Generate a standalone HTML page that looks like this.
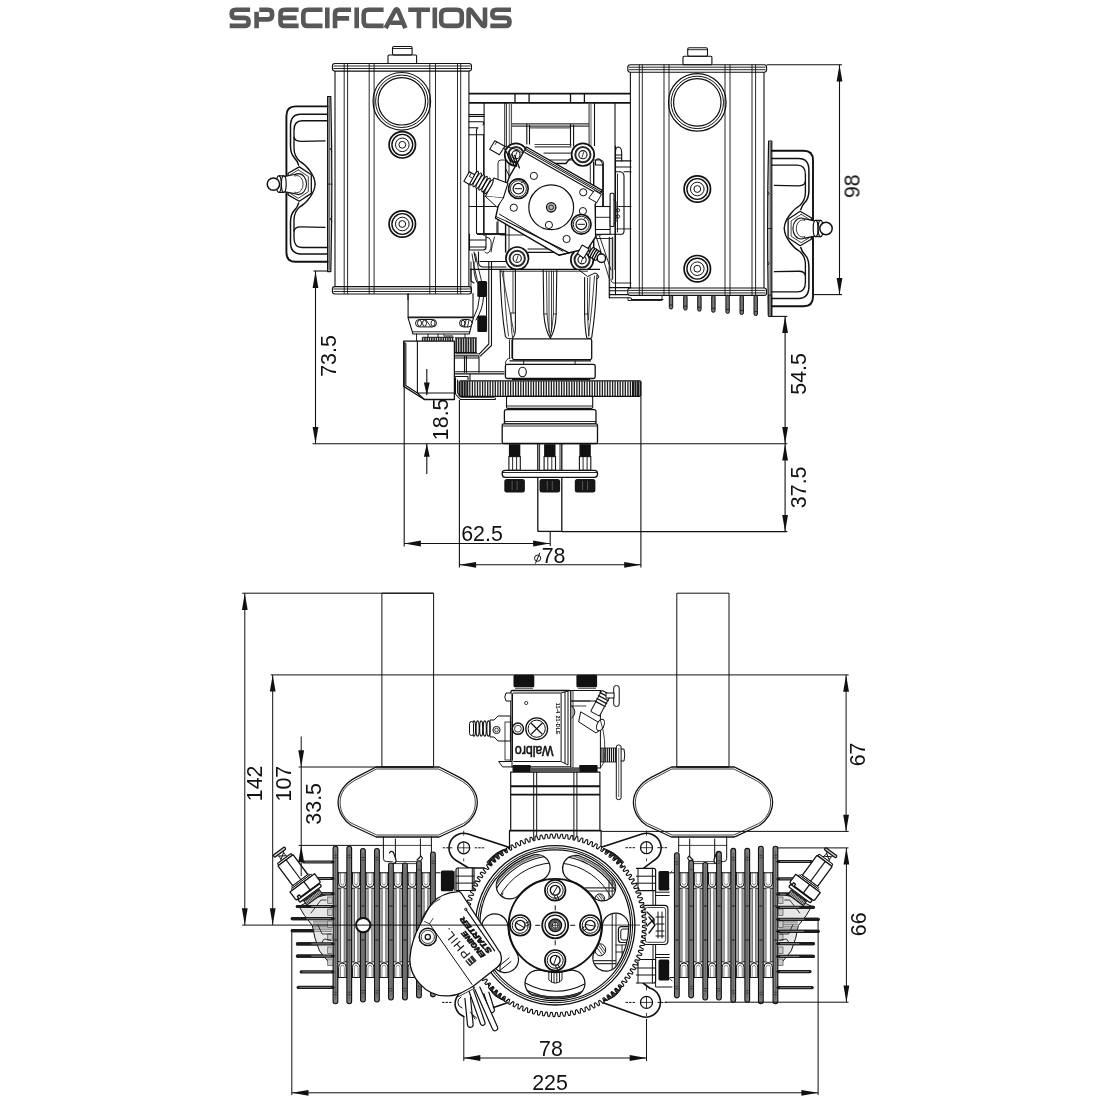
<!DOCTYPE html>
<html><head><meta charset="utf-8"><title>Specifications</title>
<style>html,body{margin:0;padding:0;background:#fff}svg{display:block}text{font-family:"Liberation Sans",sans-serif}</style>
</head><body>
<svg width="1100" height="1100" viewBox="0 0 1100 1100">
<rect width="1100" height="1100" fill="#fff"/>
<g opacity="0.999">
<rect x="332.4" y="63.5" width="139.1" height="7.6" rx="2.5" fill="none" stroke="#111" stroke-width="1.1" />
<line x1="333.4" y1="66.0" x2="470.5" y2="66.0" stroke="#111" stroke-width="0.9" />
<line x1="333.4" y1="68.5" x2="470.5" y2="68.5" stroke="#111" stroke-width="0.9" />
<rect x="332.4" y="286.6" width="139.1" height="7.4" rx="2.5" fill="none" stroke="#111" stroke-width="1.1" />
<line x1="333.4" y1="291.5" x2="470.5" y2="291.5" stroke="#111" stroke-width="0.9" />
<line x1="333.4" y1="289.0" x2="470.5" y2="289.0" stroke="#111" stroke-width="0.9" />
<line x1="335.0" y1="71.1" x2="335.0" y2="286.6" stroke="#111" stroke-width="1.1" />
<line x1="468.9" y1="71.1" x2="468.9" y2="286.6" stroke="#111" stroke-width="1.1" />
<line x1="344.2" y1="63.5" x2="344.2" y2="294.0" stroke="#111" stroke-width="0.9" />
<line x1="347.6" y1="63.5" x2="347.6" y2="294.0" stroke="#111" stroke-width="0.9" />
<line x1="369.2" y1="63.5" x2="369.2" y2="294.0" stroke="#111" stroke-width="0.9" />
<line x1="374.1" y1="63.5" x2="374.1" y2="294.0" stroke="#111" stroke-width="0.9" />
<line x1="429.8" y1="63.5" x2="429.8" y2="294.0" stroke="#111" stroke-width="0.9" />
<line x1="435.5" y1="63.5" x2="435.5" y2="294.0" stroke="#111" stroke-width="0.9" />
<line x1="457.5" y1="63.5" x2="457.5" y2="294.0" stroke="#111" stroke-width="0.9" />
<line x1="460.7" y1="63.5" x2="460.7" y2="294.0" stroke="#111" stroke-width="0.9" />
<rect x="388.0" y="55.0" width="28.6" height="8.5" rx="1" fill="none" stroke="#111" stroke-width="1.1" />
<rect x="392.5" y="46.5" width="19.6" height="8.5" rx="1.5" fill="none" stroke="#111" stroke-width="1.1" />
<line x1="392.5" y1="48.5" x2="412.1" y2="48.5" stroke="#111" stroke-width="0.9" />
<circle cx="401.8" cy="101.3" r="28.8" fill="none" stroke="#111" stroke-width="1.2"/>
<circle cx="401.8" cy="101.3" r="26.2" fill="none" stroke="#111" stroke-width="1.0"/>
<circle cx="401.8" cy="101.3" r="23.7" fill="none" stroke="#111" stroke-width="1.2"/>
<circle cx="402.3" cy="144.8" r="13.2" fill="none" stroke="#111" stroke-width="1.7"/>
<circle cx="402.3" cy="144.8" r="10.4" fill="none" stroke="#111" stroke-width="1.4"/>
<circle cx="402.3" cy="144.8" r="6.8" fill="none" stroke="#111" stroke-width="1.0"/>
<circle cx="402.3" cy="144.8" r="3.4" fill="none" stroke="#111" stroke-width="1.0"/>
<circle cx="402.3" cy="224.0" r="13.2" fill="none" stroke="#111" stroke-width="1.7"/>
<circle cx="402.3" cy="224.0" r="10.4" fill="none" stroke="#111" stroke-width="1.4"/>
<circle cx="402.3" cy="224.0" r="6.8" fill="none" stroke="#111" stroke-width="1.0"/>
<circle cx="402.3" cy="224.0" r="3.4" fill="none" stroke="#111" stroke-width="1.0"/>
<rect x="627.8" y="64.7" width="138.8" height="7.6" rx="2.5" fill="none" stroke="#111" stroke-width="1.1" />
<line x1="628.8" y1="67.2" x2="765.6" y2="67.2" stroke="#111" stroke-width="0.9" />
<line x1="628.8" y1="69.7" x2="765.6" y2="69.7" stroke="#111" stroke-width="0.9" />
<rect x="627.8" y="288.0" width="138.8" height="7.4" rx="2.5" fill="none" stroke="#111" stroke-width="1.1" />
<line x1="628.8" y1="292.9" x2="765.6" y2="292.9" stroke="#111" stroke-width="0.9" />
<line x1="628.8" y1="290.4" x2="765.6" y2="290.4" stroke="#111" stroke-width="0.9" />
<line x1="630.4" y1="72.3" x2="630.4" y2="288.0" stroke="#111" stroke-width="1.1" />
<line x1="764.0" y1="72.3" x2="764.0" y2="288.0" stroke="#111" stroke-width="1.1" />
<line x1="639.3" y1="64.7" x2="639.3" y2="295.4" stroke="#111" stroke-width="0.9" />
<line x1="642.3" y1="64.7" x2="642.3" y2="295.4" stroke="#111" stroke-width="0.9" />
<line x1="664.0" y1="64.7" x2="664.0" y2="295.4" stroke="#111" stroke-width="0.9" />
<line x1="669.0" y1="64.7" x2="669.0" y2="295.4" stroke="#111" stroke-width="0.9" />
<line x1="725.0" y1="64.7" x2="725.0" y2="295.4" stroke="#111" stroke-width="0.9" />
<line x1="730.0" y1="64.7" x2="730.0" y2="295.4" stroke="#111" stroke-width="0.9" />
<line x1="752.0" y1="64.7" x2="752.0" y2="295.4" stroke="#111" stroke-width="0.9" />
<line x1="755.6" y1="64.7" x2="755.6" y2="295.4" stroke="#111" stroke-width="0.9" />
<rect x="683.0" y="56.2" width="28.9" height="8.5" rx="1" fill="none" stroke="#111" stroke-width="1.1" />
<rect x="687.7" y="47.7" width="19.8" height="8.5" rx="1.5" fill="none" stroke="#111" stroke-width="1.1" />
<line x1="687.7" y1="49.7" x2="707.5" y2="49.7" stroke="#111" stroke-width="0.9" />
<circle cx="697.3" cy="102.4" r="28.8" fill="none" stroke="#111" stroke-width="1.2"/>
<circle cx="697.3" cy="102.4" r="26.2" fill="none" stroke="#111" stroke-width="1.0"/>
<circle cx="697.3" cy="102.4" r="23.7" fill="none" stroke="#111" stroke-width="1.2"/>
<circle cx="697.3" cy="189.0" r="13.2" fill="none" stroke="#111" stroke-width="1.7"/>
<circle cx="697.3" cy="189.0" r="10.4" fill="none" stroke="#111" stroke-width="1.4"/>
<circle cx="697.3" cy="189.0" r="6.8" fill="none" stroke="#111" stroke-width="1.0"/>
<circle cx="697.3" cy="189.0" r="3.4" fill="none" stroke="#111" stroke-width="1.0"/>
<circle cx="697.3" cy="268.7" r="13.2" fill="none" stroke="#111" stroke-width="1.7"/>
<circle cx="697.3" cy="268.7" r="10.4" fill="none" stroke="#111" stroke-width="1.4"/>
<circle cx="697.3" cy="268.7" r="6.8" fill="none" stroke="#111" stroke-width="1.0"/>
<circle cx="697.3" cy="268.7" r="3.4" fill="none" stroke="#111" stroke-width="1.0"/>
<path d="M327.6 96.6 L330.8 96.6 Q332.8 184.1 330.8 271.6 L327.6 271.6 L327.6 96.6" fill="#ddd" stroke="#111" stroke-width="1.2" stroke-linejoin="round" stroke-linecap="round" />
<path d="M329.2 98.1 L329.2 270.1" fill="none" stroke="#111" stroke-width="0.8" stroke-linejoin="round" stroke-linecap="round" />
<path d="M331.8 147.1 L330.1 149.1 L331.8 151.1" fill="none" stroke="#111" stroke-width="0.8" stroke-linejoin="round" stroke-linecap="round" />
<path d="M331.8 217.1 L330.1 219.1 L331.8 221.1" fill="none" stroke="#111" stroke-width="0.8" stroke-linejoin="round" stroke-linecap="round" />
<path d="M332.0 184.1 L327.6 184.1" fill="none" stroke="#111" stroke-width="0.8" stroke-linejoin="round" stroke-linecap="round" />
<path d="M327.6 106.4 L295.6 106.4 Q286.4 106.4 286.4 115.9 L286.4 252.3 Q286.4 261.8 295.6 261.8 L327.6 261.8" fill="none" stroke="#111" stroke-width="1.9" stroke-linejoin="round" stroke-linecap="round" />
<path d="M327.6 114.2 L300.6 114.2 Q290.5 114.2 290.5 126.1 L290.5 146.1 Q290.5 154.1 294.6 158.1 Q297.6 161.1 298.6 165.1" fill="none" stroke="#111" stroke-width="1.5" stroke-linejoin="round" stroke-linecap="round" />
<path d="M327.6 120.7 L302.1 120.7 Q294.0 120.7 294.0 130.1 L294.0 136.1 Q294.0 141.4 300.6 141.4 L325.0 140.9" fill="none" stroke="#111" stroke-width="1.35" stroke-linejoin="round" stroke-linecap="round" />
<path d="M294.0 137.1 L294.0 148.1 Q294.0 156.1 299.6 161.1 Q305.6 164.6 310.1 171.1 Q315.1 178.1 315.1 184.1" fill="none" stroke="#111" stroke-width="1.35" stroke-linejoin="round" stroke-linecap="round" />
<path d="M327.6 254.0 L300.6 254.0 Q290.5 254.0 290.5 242.1 L290.5 222.1 Q290.5 214.1 294.6 210.1 Q297.6 207.1 298.6 203.1" fill="none" stroke="#111" stroke-width="1.5" stroke-linejoin="round" stroke-linecap="round" />
<path d="M327.6 247.5 L302.1 247.5 Q294.0 247.5 294.0 238.1 L294.0 232.1 Q294.0 226.8 300.6 226.8 L325.0 227.3" fill="none" stroke="#111" stroke-width="1.35" stroke-linejoin="round" stroke-linecap="round" />
<path d="M294.0 231.1 L294.0 220.1 Q294.0 212.1 299.6 207.1 Q305.6 203.6 310.1 197.1 Q315.1 190.1 315.1 184.1" fill="none" stroke="#111" stroke-width="1.35" stroke-linejoin="round" stroke-linecap="round" />
<path d="M299.3 166.9 L311.3 174.8 311.3 193.4 299.3 201.3 288.1 194.9 288.1 173.3 L299.3 166.9" fill="#fff" stroke="#111" stroke-width="1.3" stroke-linejoin="round" stroke-linecap="round" />
<path d="M298.3 169.9 L308.3 176.5 308.3 191.7 298.3 198.3 289.8 193.1 289.8 175.1 L298.3 169.9" fill="none" stroke="#111" stroke-width="0.8" stroke-linejoin="round" stroke-linecap="round" />
<ellipse cx="298.3" cy="184.1" rx="8.2" ry="10.5" fill="none" stroke="#111" stroke-width="1.1" />
<ellipse cx="296.8" cy="184.1" rx="6.3" ry="8.6" fill="none" stroke="#111" stroke-width="0.8" />
<path d="M294.3 174.5 L283.8 176.7 L283.8 191.5 L294.3 193.7" fill="#fff" stroke="#111" stroke-width="1.2" stroke-linejoin="round" stroke-linecap="round" />
<ellipse cx="283.8" cy="184.1" rx="2.4" ry="8.2" fill="#fff" stroke="#111" stroke-width="1.2" />
<path d="M283.8 175.9 L278.8 175.9 M283.8 192.3 L278.8 192.3" fill="none" stroke="#111" stroke-width="1.2" stroke-linejoin="round" stroke-linecap="round" />
<ellipse cx="278.8" cy="184.1" rx="2.4" ry="8.2" fill="#fff" stroke="#111" stroke-width="1.2" />
<circle cx="273.4" cy="184.1" r="6.2" fill="#fff" stroke="#111" stroke-width="1.5"/>
<path d="M771.8 141.0 L768.6 141.0 Q766.6 228.5 768.6 316.0 L771.8 316.0 L771.8 141.0" fill="#ddd" stroke="#111" stroke-width="1.2" stroke-linejoin="round" stroke-linecap="round" />
<path d="M770.2 142.5 L770.2 314.5" fill="none" stroke="#111" stroke-width="0.8" stroke-linejoin="round" stroke-linecap="round" />
<path d="M767.6 191.5 L769.3 193.5 L767.6 195.5" fill="none" stroke="#111" stroke-width="0.8" stroke-linejoin="round" stroke-linecap="round" />
<path d="M767.6 261.5 L769.3 263.5 L767.6 265.5" fill="none" stroke="#111" stroke-width="0.8" stroke-linejoin="round" stroke-linecap="round" />
<path d="M767.4 228.5 L771.8 228.5" fill="none" stroke="#111" stroke-width="0.8" stroke-linejoin="round" stroke-linecap="round" />
<path d="M771.8 150.8 L803.8 150.8 Q813.0 150.8 813.0 160.3 L813.0 296.7 Q813.0 306.2 803.8 306.2 L771.8 306.2" fill="none" stroke="#111" stroke-width="1.9" stroke-linejoin="round" stroke-linecap="round" />
<path d="M771.8 158.6 L798.8 158.6 Q808.9 158.6 808.9 170.5 L808.9 190.5 Q808.9 198.5 804.8 202.5 Q801.8 205.5 800.8 209.5" fill="none" stroke="#111" stroke-width="1.5" stroke-linejoin="round" stroke-linecap="round" />
<path d="M771.8 165.1 L797.3 165.1 Q805.4 165.1 805.4 174.5 L805.4 180.5 Q805.4 185.8 798.8 185.8 L774.4 185.3" fill="none" stroke="#111" stroke-width="1.35" stroke-linejoin="round" stroke-linecap="round" />
<path d="M805.4 181.5 L805.4 192.5 Q805.4 200.5 799.8 205.5 Q793.8 209.0 789.3 215.5 Q784.3 222.5 784.3 228.5" fill="none" stroke="#111" stroke-width="1.35" stroke-linejoin="round" stroke-linecap="round" />
<path d="M771.8 298.4 L798.8 298.4 Q808.9 298.4 808.9 286.5 L808.9 266.5 Q808.9 258.5 804.8 254.5 Q801.8 251.5 800.8 247.5" fill="none" stroke="#111" stroke-width="1.5" stroke-linejoin="round" stroke-linecap="round" />
<path d="M771.8 291.9 L797.3 291.9 Q805.4 291.9 805.4 282.5 L805.4 276.5 Q805.4 271.2 798.8 271.2 L774.4 271.7" fill="none" stroke="#111" stroke-width="1.35" stroke-linejoin="round" stroke-linecap="round" />
<path d="M805.4 275.5 L805.4 264.5 Q805.4 256.5 799.8 251.5 Q793.8 248.0 789.3 241.5 Q784.3 234.5 784.3 228.5" fill="none" stroke="#111" stroke-width="1.35" stroke-linejoin="round" stroke-linecap="round" />
<path d="M800.1 211.3 L788.1 219.2 788.1 237.8 800.1 245.7 811.3 239.3 811.3 217.7 L800.1 211.3" fill="#fff" stroke="#111" stroke-width="1.3" stroke-linejoin="round" stroke-linecap="round" />
<path d="M801.1 214.3 L791.1 220.9 791.1 236.1 801.1 242.7 809.6 237.5 809.6 219.5 L801.1 214.3" fill="none" stroke="#111" stroke-width="0.8" stroke-linejoin="round" stroke-linecap="round" />
<ellipse cx="801.1" cy="228.5" rx="8.2" ry="10.5" fill="none" stroke="#111" stroke-width="1.1" />
<ellipse cx="802.6" cy="228.5" rx="6.3" ry="8.6" fill="none" stroke="#111" stroke-width="0.8" />
<path d="M805.1 218.9 L815.6 221.1 L815.6 235.9 L805.1 238.1" fill="#fff" stroke="#111" stroke-width="1.2" stroke-linejoin="round" stroke-linecap="round" />
<ellipse cx="815.6" cy="228.5" rx="2.4" ry="8.2" fill="#fff" stroke="#111" stroke-width="1.2" />
<path d="M815.6 220.3 L820.6 220.3 M815.6 236.7 L820.6 236.7" fill="none" stroke="#111" stroke-width="1.2" stroke-linejoin="round" stroke-linecap="round" />
<ellipse cx="820.6" cy="228.5" rx="2.4" ry="8.2" fill="#fff" stroke="#111" stroke-width="1.2" />
<circle cx="826.0" cy="228.5" r="6.2" fill="#fff" stroke="#111" stroke-width="1.5"/>
<rect x="669.3" y="295.4" width="3.4" height="13.6" rx="1.6" fill="#777" stroke="#111" stroke-width="1.0" />
<line x1="669.5" y1="305.0" x2="672.5" y2="305.0" stroke="#111" stroke-width="0.8" />
<rect x="683.7" y="295.4" width="3.4" height="14.7" rx="1.6" fill="#777" stroke="#111" stroke-width="1.0" />
<line x1="683.9" y1="306.1" x2="686.9" y2="306.1" stroke="#111" stroke-width="0.8" />
<rect x="697.7" y="295.4" width="3.4" height="15.8" rx="1.6" fill="#777" stroke="#111" stroke-width="1.0" />
<line x1="697.9" y1="307.2" x2="700.9" y2="307.2" stroke="#111" stroke-width="0.8" />
<rect x="711.7" y="295.4" width="3.4" height="16.9" rx="1.6" fill="#777" stroke="#111" stroke-width="1.0" />
<line x1="711.9" y1="308.3" x2="714.9" y2="308.3" stroke="#111" stroke-width="0.8" />
<rect x="725.9" y="295.4" width="3.4" height="18.0" rx="1.6" fill="#777" stroke="#111" stroke-width="1.0" />
<line x1="726.1" y1="309.4" x2="729.1" y2="309.4" stroke="#111" stroke-width="0.8" />
<rect x="740.0" y="295.4" width="3.4" height="19.1" rx="1.6" fill="#777" stroke="#111" stroke-width="1.0" />
<line x1="740.2" y1="310.5" x2="743.2" y2="310.5" stroke="#111" stroke-width="0.8" />
<rect x="754.0" y="295.4" width="3.4" height="20.2" rx="1.6" fill="#777" stroke="#111" stroke-width="1.0" />
<line x1="754.2" y1="311.6" x2="757.2" y2="311.6" stroke="#111" stroke-width="0.8" />
<rect x="768.2" y="295.0" width="3.4" height="21.5" rx="1.2" fill="#777" stroke="#111" stroke-width="1.0" />
<line x1="469.0" y1="93.6" x2="630.5" y2="93.6" stroke="#111" stroke-width="1.8" />
<line x1="469.0" y1="102.9" x2="630.5" y2="102.9" stroke="#111" stroke-width="1.8" />
<line x1="515.0" y1="93.6" x2="515.0" y2="102.9" stroke="#111" stroke-width="1.3" />
<line x1="529.1" y1="93.6" x2="529.1" y2="102.9" stroke="#111" stroke-width="1.3" />
<line x1="570.5" y1="93.6" x2="570.5" y2="102.9" stroke="#111" stroke-width="1.3" />
<line x1="584.4" y1="93.6" x2="584.4" y2="102.9" stroke="#111" stroke-width="1.3" />
<line x1="484.1" y1="102.9" x2="484.1" y2="236.0" stroke="#111" stroke-width="1.1" />
<line x1="504.7" y1="102.9" x2="504.7" y2="150.0" stroke="#111" stroke-width="0.9" />
<line x1="506.4" y1="102.9" x2="506.4" y2="146.0" stroke="#111" stroke-width="0.9" />
<line x1="509.3" y1="102.9" x2="509.3" y2="146.0" stroke="#555" stroke-width="0.9" />
<line x1="511.4" y1="102.9" x2="511.4" y2="146.0" stroke="#555" stroke-width="1.3" />
<line x1="589.1" y1="102.9" x2="589.1" y2="146.0" stroke="#555" stroke-width="1.3" />
<line x1="591.0" y1="102.9" x2="591.0" y2="146.0" stroke="#555" stroke-width="0.9" />
<line x1="594.5" y1="102.9" x2="594.5" y2="146.0" stroke="#111" stroke-width="1.1" />
<line x1="615.0" y1="102.9" x2="615.0" y2="270.0" stroke="#111" stroke-width="1.1" />
<line x1="511.8" y1="123.8" x2="589.0" y2="123.8" stroke="#333" stroke-width="1.2" />
<line x1="511.8" y1="126.2" x2="589.0" y2="126.2" stroke="#333" stroke-width="1.2" />
<path d="M526.8 144 V124 M529.5 144 V125 M570.5 124 V146 M573.6 125 V146" fill="none" stroke="#111" stroke-width="1.1" stroke-linejoin="round" stroke-linecap="round" />
<line x1="529.5" y1="127.9" x2="570.5" y2="127.9" stroke="#111" stroke-width="0.9" />
<path d="M535 144.5 H571 M535 146.8 H571 M544 153.2 H571" fill="none" stroke="#444" stroke-width="1.2" stroke-linejoin="round" stroke-linecap="round" />
<path d="M469 114.5 H484 M469 116.4 H484 M469 121.8 H483 Q484.5 123 483 125 M469 127.7 H478 Q476.5 128 476.5 131 V233.5 M469 134.8 H484" fill="none" stroke="#111" stroke-width="1.1" stroke-linejoin="round" stroke-linecap="round" />
<line x1="483.5" y1="134.8" x2="483.5" y2="233.5" stroke="#111" stroke-width="0.9" />
<path d="M469.5 206.5 H496 M497 222 V234" fill="none" stroke="#111" stroke-width="1.1" stroke-linejoin="round" stroke-linecap="round" />
<line x1="477.0" y1="234.0" x2="505.0" y2="234.0" stroke="#222" stroke-width="2.0" />
<path d="M469.5 234 V250 H483 Q486 250 486 247 V234 M469.5 240 H486 M469.5 247 H486" fill="none" stroke="#111" stroke-width="1.1" stroke-linejoin="round" stroke-linecap="round" />
<path d="M486 237 Q490 237 491 241 Q492 250 488 253 Q486 254 485 252 M494.5 237 Q492 245 491 252" fill="none" stroke="#111" stroke-width="0.9" stroke-linejoin="round" stroke-linecap="round" />
<path d="M474 252 L476 262 M478.5 252 V262 Q478.5 267 483.5 267 H506 M480 261.5 H506 M471 269 V281 L474 283" fill="none" stroke="#111" stroke-width="1.1" stroke-linejoin="round" stroke-linecap="round" />
<path d="M472 254 Q474 268 477.5 281 M475.5 254 Q478 268 481.5 281" fill="none" stroke="#111" stroke-width="0.9" stroke-linejoin="round" stroke-linecap="round" />
<path d="M615.5 146 V294.6" fill="none" stroke="#111" stroke-width="1.1" stroke-linejoin="round" stroke-linecap="round" />
<path d="M615.5 152 Q615.5 147 618.6 147 Q621.7 147.5 621.7 153 V160.9 M615.5 155 H621.7 M615.5 158 H621.7" fill="none" stroke="#111" stroke-width="1.1" stroke-linejoin="round" stroke-linecap="round" />
<path d="M615.5 160.9 H631 M615.5 167 H631 M615.5 171.7 H620.5 Q624 172.5 624 176.3 V231.2 Q624 234.3 620.5 234.3 H595.5 M624 171.7 H631" fill="none" stroke="#111" stroke-width="1.1" stroke-linejoin="round" stroke-linecap="round" />
<path d="M617 206.5 H631 M617 228.9 H631 M617.5 174 V232" fill="none" stroke="#111" stroke-width="0.9" stroke-linejoin="round" stroke-linecap="round" />
<path d="M595.5 165 V161 Q597 157.7 600 159.5 Q602.7 162 602.7 166 V206 M595.5 165 H602.7" fill="none" stroke="#111" stroke-width="1.1" stroke-linejoin="round" stroke-linecap="round" />
<path d="M596 236 L609.4 279 M599.5 236 L611 270 M596 238.5 H612" fill="none" stroke="#111" stroke-width="0.9" stroke-linejoin="round" stroke-linecap="round" />
<path d="M609.4 237.4 V297.7 M612.5 237.4 V279.1" fill="none" stroke="#333" stroke-width="1.5" stroke-linejoin="round" stroke-linecap="round" />
<path d="M609.4 287.6 H631 M609.4 290.7 H628 M609.4 294.6 H628 M609.4 297.7 H630 Q631.5 297.7 631.5 299.5 H663" fill="none" stroke="#111" stroke-width="1.1" stroke-linejoin="round" stroke-linecap="round" />
<path d="M611 279.1 Q611 283 614 283 H631" fill="none" stroke="#111" stroke-width="0.9" stroke-linejoin="round" stroke-linecap="round" />
<rect x="498.0" y="160.0" width="105.5" height="75.0" rx="3" fill="none" stroke="#111" stroke-width="0.9" />
<path d="M505.6 160 V252 M593.7 162 V254" fill="none" stroke="#111" stroke-width="1.4" stroke-linejoin="round" stroke-linecap="round" />
<path d="M509 163 V250 M590.3 165 V252" fill="none" stroke="#111" stroke-width="0.9" stroke-linejoin="round" stroke-linecap="round" />
<path d="M527 158.6 H530 Q533 158.6 534 161 L536 163.5 H566 L568 161 Q569 158.6 572 158.6" fill="none" stroke="#111" stroke-width="1.3" stroke-linejoin="round" stroke-linecap="round" />
<path d="M528 252.3 H571 M528 249 H571" fill="none" stroke="#111" stroke-width="1.2" stroke-linejoin="round" stroke-linecap="round" />
<circle cx="516.0" cy="154.7" r="11.3" fill="#fff" stroke="#111" stroke-width="1.7"/>
<circle cx="516.0" cy="154.7" r="7.6" fill="none" stroke="#2a2a2a" stroke-width="2.0"/>
<circle cx="516.0" cy="154.7" r="4.1" fill="none" stroke="#111" stroke-width="1.1"/>
<line x1="515.0" y1="157.7" x2="517.0" y2="151.7" stroke="#111" stroke-width="0.8" />
<circle cx="582.9" cy="154.7" r="11.3" fill="#fff" stroke="#111" stroke-width="1.7"/>
<circle cx="582.9" cy="154.7" r="7.6" fill="none" stroke="#2a2a2a" stroke-width="2.0"/>
<circle cx="582.9" cy="154.7" r="4.1" fill="none" stroke="#111" stroke-width="1.1"/>
<line x1="581.9" y1="157.7" x2="583.9" y2="151.7" stroke="#111" stroke-width="0.8" />
<circle cx="517.2" cy="258.3" r="11.3" fill="#fff" stroke="#111" stroke-width="1.7"/>
<circle cx="517.2" cy="258.3" r="7.6" fill="none" stroke="#2a2a2a" stroke-width="2.0"/>
<circle cx="517.2" cy="258.3" r="4.1" fill="none" stroke="#111" stroke-width="1.1"/>
<line x1="516.2" y1="261.3" x2="518.2" y2="255.3" stroke="#111" stroke-width="0.8" />
<circle cx="582.1" cy="259.8" r="11.3" fill="#fff" stroke="#111" stroke-width="1.7"/>
<circle cx="582.1" cy="259.8" r="7.6" fill="none" stroke="#2a2a2a" stroke-width="2.0"/>
<circle cx="582.1" cy="259.8" r="4.1" fill="none" stroke="#111" stroke-width="1.1"/>
<line x1="581.1" y1="262.8" x2="583.1" y2="256.8" stroke="#111" stroke-width="0.8" />
<path d="M526.5 147.0 L602.2 190.3 L595.2 204.2 L595.7 236.6 L588.3 248.2 L558.9 255.2 L495.5 218.1 L497.9 207.3 L509.5 176.4 Z" fill="#fff" stroke="#111" stroke-width="1.4" stroke-linejoin="round" stroke-linecap="round" />
<path d="M525.5 148.6 L601.2 191.9" fill="none" stroke="#111" stroke-width="1.0" stroke-linejoin="round" stroke-linecap="round" />
<path d="M524.8 149.9 L600.5 193.2" fill="none" stroke="#111" stroke-width="1.0" stroke-linejoin="round" stroke-linecap="round" />
<path d="M524.9 152.6 L599.4 195.1" fill="none" stroke="#111" stroke-width="1.2" stroke-linejoin="round" stroke-linecap="round" />
<path d="M499.4 214.2 L562.8 251.3" fill="none" stroke="#111" stroke-width="1.0" stroke-linejoin="round" stroke-linecap="round" />
<path d="M506.4 221.2 L569.0 252.9" fill="none" stroke="#111" stroke-width="1.2" stroke-linejoin="round" stroke-linecap="round" />
<path d="M558.9 255.2 L569.0 252.9" fill="none" stroke="#111" stroke-width="1.0" stroke-linejoin="round" stroke-linecap="round" />
<path d="M495.9 216.6 L506.4 221.2" fill="none" stroke="#111" stroke-width="0.9" stroke-linejoin="round" stroke-linecap="round" />
<path d="M594.8 190.6 L601.4 194.5 L596.8 202.6 L589.1 198.3 Z" fill="#fff" stroke="#111" stroke-width="1.0" stroke-linejoin="round" stroke-linecap="round" />
<circle cx="551.2" cy="207.3" r="22.4" fill="none" stroke="#111" stroke-width="1.2"/>
<circle cx="551.2" cy="207.3" r="4.7" fill="#bbb" stroke="#111" stroke-width="1.3"/>
<circle cx="551.2" cy="207.3" r="2.3" fill="none" stroke="#111" stroke-width="0.9"/>
<circle cx="518.4" cy="188.7" r="9.8" fill="#fff" stroke="#111" stroke-width="1.6"/>
<circle cx="518.4" cy="188.7" r="8.0" fill="none" stroke="#111" stroke-width="0.9"/>
<circle cx="518.4" cy="188.7" r="5.3" fill="none" stroke="#111" stroke-width="1.2"/>
<line x1="514.8" y1="188.7" x2="522.0" y2="188.7" stroke="#111" stroke-width="1.0" />
<path d="M521.4 182.7 l3 -2 l1 2.5" fill="none" stroke="#111" stroke-width="0.9" stroke-linejoin="round" stroke-linecap="round" />
<circle cx="581.3" cy="224.3" r="9.8" fill="#fff" stroke="#111" stroke-width="1.6"/>
<circle cx="581.3" cy="224.3" r="8.0" fill="none" stroke="#111" stroke-width="0.9"/>
<circle cx="581.3" cy="224.3" r="5.3" fill="none" stroke="#111" stroke-width="1.2"/>
<line x1="577.7" y1="224.3" x2="584.9" y2="224.3" stroke="#111" stroke-width="1.0" />
<path d="M584.3 218.3 l3 -2 l1 2.5" fill="none" stroke="#111" stroke-width="0.9" stroke-linejoin="round" stroke-linecap="round" />
<circle cx="533.9" cy="175.9" r="3.6" fill="none" stroke="#111" stroke-width="1.0"/>
<circle cx="513.8" cy="207.7" r="3.6" fill="none" stroke="#111" stroke-width="1.0"/>
<circle cx="583.2" cy="192.3" r="3.6" fill="none" stroke="#111" stroke-width="1.0"/>
<circle cx="582.9" cy="211.1" r="3.6" fill="none" stroke="#111" stroke-width="1.0"/>
<circle cx="548.9" cy="225.0" r="3.6" fill="none" stroke="#111" stroke-width="1.0"/>
<circle cx="566.6" cy="239.0" r="3.6" fill="none" stroke="#111" stroke-width="1.0"/>
<path d="M494.0 177.9 L507.9 183.3 L503.3 198.0 L485.5 196.5 Z" fill="#fff" stroke="#111" stroke-width="1.1" stroke-linejoin="round" stroke-linecap="round" />
<path d="M485.5 196.5 L497.1 207.3 L503.3 198.0" fill="#fff" stroke="#111" stroke-width="1.0" stroke-linejoin="round" stroke-linecap="round" />
<ellipse cx="474.2" cy="178.2" rx="1.7" ry="7.8" fill="#fff" stroke="#111" stroke-width="1.2" transform="rotate(30 474.2 178.2)"/>
<ellipse cx="477.2" cy="179.9" rx="1.7" ry="7.8" fill="#fff" stroke="#111" stroke-width="1.2" transform="rotate(30 477.2 179.9)"/>
<ellipse cx="480.1" cy="181.6" rx="1.7" ry="7.8" fill="#fff" stroke="#111" stroke-width="1.2" transform="rotate(30 480.1 181.6)"/>
<ellipse cx="483.0" cy="183.3" rx="1.7" ry="7.8" fill="#fff" stroke="#111" stroke-width="1.2" transform="rotate(30 483.0 183.3)"/>
<ellipse cx="486.0" cy="185.0" rx="1.7" ry="7.8" fill="#fff" stroke="#111" stroke-width="1.2" transform="rotate(30 486.0 185.0)"/>
<ellipse cx="488.9" cy="186.7" rx="1.7" ry="7.8" fill="#fff" stroke="#111" stroke-width="1.2" transform="rotate(30 488.9 186.7)"/>
<path d="M469.3 171.7 L474.7 174.8 L469.3 184.4 L463.9 181.3 Z" fill="#fff" stroke="#111" stroke-width="1.1" stroke-linejoin="round" stroke-linecap="round" />
<path d="M471.1 173.3 L469.3 176.4 L471.6 177.6" fill="none" stroke="#111" stroke-width="0.9" stroke-linejoin="round" stroke-linecap="round" />
<path d="M494.8 140.8 L504.8 146.2 L499.4 154.7 L489.7 149.3 Z" fill="#fff" stroke="#111" stroke-width="1.1" stroke-linejoin="round" stroke-linecap="round" />
<path d="M496.6 142.1 L495.2 144.4" fill="none" stroke="#111" stroke-width="0.9" stroke-linejoin="round" stroke-linecap="round" />
<path d="M506.4 151.6 L511.0 163.2" fill="none" stroke="#111" stroke-width="1.3" stroke-linejoin="round" stroke-linecap="round" />
<path d="M509.1 152.9 L513.8 164.8" fill="none" stroke="#111" stroke-width="1.3" stroke-linejoin="round" stroke-linecap="round" />
<path d="M511.9 154.1 L516.6 166.3" fill="none" stroke="#111" stroke-width="1.3" stroke-linejoin="round" stroke-linecap="round" />
<path d="M514.7 155.3 L519.4 167.9" fill="none" stroke="#111" stroke-width="1.3" stroke-linejoin="round" stroke-linecap="round" />
<path d="M504.8 146.2 L518.7 150.1 L521.8 153.2" fill="none" stroke="#111" stroke-width="1.0" stroke-linejoin="round" stroke-linecap="round" />
<path d="M505.6 168.6 L509.5 176.4" fill="none" stroke="#111" stroke-width="1.0" stroke-linejoin="round" stroke-linecap="round" />
<path d="M582.1 245.1 L589.1 249.0 L583.6 258.3 L577.5 253.6 Z" fill="#fff" stroke="#111" stroke-width="1.1" stroke-linejoin="round" stroke-linecap="round" />
<ellipse cx="591.4" cy="252.1" rx="1.5" ry="5.2" fill="#fff" stroke="#111" stroke-width="1.3" transform="rotate(30 591.4 252.1)"/>
<ellipse cx="593.4" cy="253.3" rx="1.5" ry="5.2" fill="#fff" stroke="#111" stroke-width="1.3" transform="rotate(30 593.4 253.3)"/>
<ellipse cx="595.4" cy="254.6" rx="1.5" ry="5.2" fill="#fff" stroke="#111" stroke-width="1.3" transform="rotate(30 595.4 254.6)"/>
<ellipse cx="597.4" cy="255.8" rx="1.5" ry="5.2" fill="#fff" stroke="#111" stroke-width="1.3" transform="rotate(30 597.4 255.8)"/>
<circle cx="601.4" cy="258.3" r="4.2" fill="#fff" stroke="#111" stroke-width="1.5"/>
<rect x="595.5" y="206.5" width="14.6" height="27.8" rx="0" fill="#fff" stroke="#111" stroke-width="1.1" />
<line x1="595.5" y1="217.3" x2="610.1" y2="217.3" stroke="#111" stroke-width="0.9" />
<line x1="595.5" y1="229.5" x2="610.1" y2="229.5" stroke="#111" stroke-width="1.0" />
<rect x="610.1" y="193.3" width="3.9" height="33.2" rx="1" fill="#fff" stroke="#111" stroke-width="1.1" />
<path d="M614 200 L616 201.5 V222 L614 223.5" fill="none" stroke="#111" stroke-width="0.9" stroke-linejoin="round" stroke-linecap="round" />
<circle cx="617.9" cy="210.3" r="1.7" fill="none" stroke="#111" stroke-width="0.9"/>
<circle cx="617.9" cy="216.5" r="1.7" fill="none" stroke="#111" stroke-width="0.9"/>
<rect x="500.0" y="270.0" width="97.0" height="69.0" rx="0" fill="#fff" stroke="none" stroke-width="0" />
<line x1="470.0" y1="269.4" x2="600.0" y2="269.4" stroke="#111" stroke-width="1.2" />
<line x1="500.0" y1="271.2" x2="588.0" y2="271.2" stroke="#111" stroke-width="0.9" />
<path d="M500 270 Q501 310 505.4 336.6 Q507 339.5 512.5 338.5 M515.4 270 V330 Q515 336 512.5 338" fill="none" stroke="#111" stroke-width="1.1" stroke-linejoin="round" stroke-linecap="round" />
<path d="M501.8 271 L514 333 M503.5 271 Q505 310 508.5 336 M513 271 V313 M511 313 H515.4 M511 313 Q511 330 512.5 337" fill="none" stroke="#111" stroke-width="0.8" stroke-linejoin="round" stroke-linecap="round" />
<path d="M543.2 270 L543.8 314 Q545 330 550.3 338.3 Q555.5 330 556.2 314 L556.8 270" fill="none" stroke="#111" stroke-width="1.1" stroke-linejoin="round" stroke-linecap="round" />
<path d="M546.5 271 L547 314 Q548 328 550.3 336 M553.5 271 L553.4 314 Q552.5 328 550.3 336 M549 271 V332 M551.5 271 V332 M544 314 H547 M553.4 314 H556" fill="none" stroke="#111" stroke-width="0.8" stroke-linejoin="round" stroke-linecap="round" />
<path d="M584.6 277.5 V314 Q585 330 586.8 338 M597 275.1 Q596 310 591.7 337.7 M586.8 338 Q589.5 339 591.7 337.7" fill="none" stroke="#111" stroke-width="1.1" stroke-linejoin="round" stroke-linecap="round" />
<path d="M594.5 276 Q592 310 588.5 336 M587.5 278 V314 Q588 328 589 336 M584.6 314 H588 M590 277 Q589.5 300 588.5 320" fill="none" stroke="#111" stroke-width="0.8" stroke-linejoin="round" stroke-linecap="round" />
<path d="M579 270 L587.5 276.5 L595 273 Q598 273.5 599 277 L597 279" fill="none" stroke="#111" stroke-width="1.0" stroke-linejoin="round" stroke-linecap="round" />
<rect x="512.5" y="338.9" width="79.2" height="20.7" rx="1.5" fill="#fff" stroke="#111" stroke-width="1.3" />
<path d="M509.5 340 V357.8 M511.9 340 V357.8 M505.4 364 Q505.4 358.5 510 358.3" fill="none" stroke="#111" stroke-width="0.9" stroke-linejoin="round" stroke-linecap="round" />
<line x1="509.5" y1="360.9" x2="591.0" y2="360.9" stroke="#111" stroke-width="1.1" />
<path d="M523.7 360.9 V364 M575.1 360.9 V364" fill="none" stroke="#111" stroke-width="0.9" stroke-linejoin="round" stroke-linecap="round" />
<rect x="505.4" y="364.3" width="89.8" height="14.2" rx="1.8" fill="#fff" stroke="#111" stroke-width="1.3" />
<ellipse cx="522.5" cy="372.0" rx="3.8" ry="4.7" fill="none" stroke="#111" stroke-width="1.1" />
<line x1="512.0" y1="379.6" x2="590.0" y2="379.6" stroke="#111" stroke-width="1.2" />
<rect x="459.6" y="380.7" width="181.1" height="15.7" rx="0" fill="#fff" stroke="none" stroke-width="0" />
<line x1="459.6" y1="381.2" x2="459.6" y2="396.2" stroke="#1a1a1a" stroke-width="2.1" />
<line x1="462.2" y1="381.2" x2="462.2" y2="396.2" stroke="#1a1a1a" stroke-width="2.1" />
<line x1="464.7" y1="381.2" x2="464.7" y2="396.2" stroke="#1a1a1a" stroke-width="2.1" />
<line x1="467.3" y1="381.2" x2="467.3" y2="396.2" stroke="#1a1a1a" stroke-width="2.1" />
<line x1="469.8" y1="381.2" x2="469.8" y2="396.2" stroke="#1a1a1a" stroke-width="1.3" />
<line x1="472.4" y1="381.2" x2="472.4" y2="396.2" stroke="#1a1a1a" stroke-width="1.3" />
<line x1="474.9" y1="381.2" x2="474.9" y2="396.2" stroke="#1a1a1a" stroke-width="1.3" />
<line x1="477.5" y1="381.2" x2="477.5" y2="396.2" stroke="#1a1a1a" stroke-width="1.3" />
<line x1="480.0" y1="381.2" x2="480.0" y2="396.2" stroke="#1a1a1a" stroke-width="1.3" />
<line x1="482.6" y1="381.2" x2="482.6" y2="396.2" stroke="#1a1a1a" stroke-width="1.3" />
<line x1="485.1" y1="381.2" x2="485.1" y2="396.2" stroke="#1a1a1a" stroke-width="1.3" />
<line x1="487.7" y1="381.2" x2="487.7" y2="396.2" stroke="#1a1a1a" stroke-width="1.3" />
<line x1="490.2" y1="381.2" x2="490.2" y2="396.2" stroke="#1a1a1a" stroke-width="1.3" />
<line x1="492.8" y1="381.2" x2="492.8" y2="396.2" stroke="#1a1a1a" stroke-width="1.3" />
<line x1="495.3" y1="381.2" x2="495.3" y2="396.2" stroke="#1a1a1a" stroke-width="1.3" />
<line x1="497.9" y1="381.2" x2="497.9" y2="396.2" stroke="#1a1a1a" stroke-width="1.3" />
<line x1="500.4" y1="381.2" x2="500.4" y2="396.2" stroke="#1a1a1a" stroke-width="1.3" />
<line x1="503.0" y1="381.2" x2="503.0" y2="396.2" stroke="#1a1a1a" stroke-width="1.3" />
<line x1="505.5" y1="381.2" x2="505.5" y2="396.2" stroke="#1a1a1a" stroke-width="1.3" />
<line x1="508.1" y1="381.2" x2="508.1" y2="396.2" stroke="#1a1a1a" stroke-width="1.3" />
<line x1="510.6" y1="381.2" x2="510.6" y2="396.2" stroke="#1a1a1a" stroke-width="1.3" />
<line x1="513.2" y1="381.2" x2="513.2" y2="396.2" stroke="#1a1a1a" stroke-width="1.3" />
<line x1="515.7" y1="381.2" x2="515.7" y2="396.2" stroke="#1a1a1a" stroke-width="1.3" />
<line x1="518.3" y1="381.2" x2="518.3" y2="396.2" stroke="#1a1a1a" stroke-width="1.3" />
<line x1="520.8" y1="381.2" x2="520.8" y2="396.2" stroke="#1a1a1a" stroke-width="1.3" />
<line x1="523.4" y1="381.2" x2="523.4" y2="396.2" stroke="#1a1a1a" stroke-width="1.3" />
<line x1="525.9" y1="381.2" x2="525.9" y2="396.2" stroke="#1a1a1a" stroke-width="1.3" />
<line x1="528.4" y1="381.2" x2="528.4" y2="396.2" stroke="#1a1a1a" stroke-width="1.3" />
<line x1="531.0" y1="381.2" x2="531.0" y2="396.2" stroke="#1a1a1a" stroke-width="1.3" />
<line x1="533.5" y1="381.2" x2="533.5" y2="396.2" stroke="#1a1a1a" stroke-width="1.3" />
<line x1="536.1" y1="381.2" x2="536.1" y2="396.2" stroke="#1a1a1a" stroke-width="1.3" />
<line x1="538.6" y1="381.2" x2="538.6" y2="396.2" stroke="#1a1a1a" stroke-width="1.3" />
<line x1="541.2" y1="381.2" x2="541.2" y2="396.2" stroke="#1a1a1a" stroke-width="1.3" />
<line x1="543.7" y1="381.2" x2="543.7" y2="396.2" stroke="#1a1a1a" stroke-width="1.3" />
<line x1="546.3" y1="381.2" x2="546.3" y2="396.2" stroke="#1a1a1a" stroke-width="1.3" />
<line x1="548.8" y1="381.2" x2="548.8" y2="396.2" stroke="#1a1a1a" stroke-width="1.3" />
<line x1="551.4" y1="381.2" x2="551.4" y2="396.2" stroke="#1a1a1a" stroke-width="1.3" />
<line x1="553.9" y1="381.2" x2="553.9" y2="396.2" stroke="#1a1a1a" stroke-width="1.3" />
<line x1="556.5" y1="381.2" x2="556.5" y2="396.2" stroke="#1a1a1a" stroke-width="1.3" />
<line x1="559.0" y1="381.2" x2="559.0" y2="396.2" stroke="#1a1a1a" stroke-width="1.3" />
<line x1="561.6" y1="381.2" x2="561.6" y2="396.2" stroke="#1a1a1a" stroke-width="1.3" />
<line x1="564.1" y1="381.2" x2="564.1" y2="396.2" stroke="#1a1a1a" stroke-width="1.3" />
<line x1="566.7" y1="381.2" x2="566.7" y2="396.2" stroke="#1a1a1a" stroke-width="1.3" />
<line x1="569.2" y1="381.2" x2="569.2" y2="396.2" stroke="#1a1a1a" stroke-width="1.3" />
<line x1="571.8" y1="381.2" x2="571.8" y2="396.2" stroke="#1a1a1a" stroke-width="1.3" />
<line x1="574.3" y1="381.2" x2="574.3" y2="396.2" stroke="#1a1a1a" stroke-width="1.3" />
<line x1="576.9" y1="381.2" x2="576.9" y2="396.2" stroke="#1a1a1a" stroke-width="1.3" />
<line x1="579.4" y1="381.2" x2="579.4" y2="396.2" stroke="#1a1a1a" stroke-width="1.3" />
<line x1="582.0" y1="381.2" x2="582.0" y2="396.2" stroke="#1a1a1a" stroke-width="1.3" />
<line x1="584.5" y1="381.2" x2="584.5" y2="396.2" stroke="#1a1a1a" stroke-width="1.3" />
<line x1="587.1" y1="381.2" x2="587.1" y2="396.2" stroke="#1a1a1a" stroke-width="1.3" />
<line x1="589.6" y1="381.2" x2="589.6" y2="396.2" stroke="#1a1a1a" stroke-width="1.3" />
<line x1="592.2" y1="381.2" x2="592.2" y2="396.2" stroke="#1a1a1a" stroke-width="1.3" />
<line x1="594.7" y1="381.2" x2="594.7" y2="396.2" stroke="#1a1a1a" stroke-width="1.3" />
<line x1="597.3" y1="381.2" x2="597.3" y2="396.2" stroke="#1a1a1a" stroke-width="1.3" />
<line x1="599.8" y1="381.2" x2="599.8" y2="396.2" stroke="#1a1a1a" stroke-width="1.3" />
<line x1="602.4" y1="381.2" x2="602.4" y2="396.2" stroke="#1a1a1a" stroke-width="1.3" />
<line x1="604.9" y1="381.2" x2="604.9" y2="396.2" stroke="#1a1a1a" stroke-width="1.3" />
<line x1="607.5" y1="381.2" x2="607.5" y2="396.2" stroke="#1a1a1a" stroke-width="1.3" />
<line x1="610.0" y1="381.2" x2="610.0" y2="396.2" stroke="#1a1a1a" stroke-width="1.3" />
<line x1="612.6" y1="381.2" x2="612.6" y2="396.2" stroke="#1a1a1a" stroke-width="1.3" />
<line x1="615.1" y1="381.2" x2="615.1" y2="396.2" stroke="#1a1a1a" stroke-width="1.3" />
<line x1="617.7" y1="381.2" x2="617.7" y2="396.2" stroke="#1a1a1a" stroke-width="1.3" />
<line x1="620.2" y1="381.2" x2="620.2" y2="396.2" stroke="#1a1a1a" stroke-width="1.3" />
<line x1="622.8" y1="381.2" x2="622.8" y2="396.2" stroke="#1a1a1a" stroke-width="1.3" />
<line x1="625.3" y1="381.2" x2="625.3" y2="396.2" stroke="#1a1a1a" stroke-width="1.3" />
<line x1="627.9" y1="381.2" x2="627.9" y2="396.2" stroke="#1a1a1a" stroke-width="1.3" />
<line x1="630.4" y1="381.2" x2="630.4" y2="396.2" stroke="#1a1a1a" stroke-width="1.3" />
<line x1="633.0" y1="381.2" x2="633.0" y2="396.2" stroke="#1a1a1a" stroke-width="2.1" />
<line x1="635.5" y1="381.2" x2="635.5" y2="396.2" stroke="#1a1a1a" stroke-width="2.1" />
<line x1="638.1" y1="381.2" x2="638.1" y2="396.2" stroke="#1a1a1a" stroke-width="2.1" />
<line x1="640.6" y1="381.2" x2="640.6" y2="396.2" stroke="#1a1a1a" stroke-width="2.1" />
<line x1="459.6" y1="380.9" x2="640.7" y2="380.9" stroke="#111" stroke-width="1.2" />
<line x1="459.6" y1="396.3" x2="640.7" y2="396.3" stroke="#111" stroke-width="1.2" />
<rect x="506.5" y="396.4" width="86.2" height="12.0" rx="1.5" fill="#fff" stroke="#111" stroke-width="1.1" />
<line x1="507.0" y1="406.0" x2="592.0" y2="406.0" stroke="#111" stroke-width="0.9" />
<rect x="504.4" y="409.6" width="91.6" height="14.2" rx="2" fill="#fff" stroke="#111" stroke-width="1.3" />
<rect x="502.2" y="423.8" width="95.3" height="19.7" rx="1.5" fill="#fff" stroke="#111" stroke-width="1.3" />
<line x1="505.0" y1="421.5" x2="596.0" y2="421.5" stroke="#111" stroke-width="0.9" />
<line x1="503.0" y1="426.0" x2="597.0" y2="426.0" stroke="#111" stroke-width="0.9" />
<line x1="537.8" y1="443.5" x2="537.8" y2="531.4" stroke="#111" stroke-width="1.3" />
<line x1="561.8" y1="443.5" x2="561.8" y2="531.4" stroke="#111" stroke-width="1.3" />
<line x1="537.8" y1="531.4" x2="561.8" y2="531.4" stroke="#111" stroke-width="1.3" />
<line x1="539.6" y1="443.5" x2="539.6" y2="478.0" stroke="#111" stroke-width="0.9" />
<line x1="560.0" y1="443.5" x2="560.0" y2="478.0" stroke="#111" stroke-width="0.9" />
<rect x="508.9" y="444.2" width="11.4" height="12.4" rx="0" fill="#111" stroke="none" stroke-width="0" />
<rect x="508.9" y="456.6" width="11.4" height="13.7" rx="0" fill="#fff" stroke="#111" stroke-width="1.1" />
<line x1="512.6" y1="457.0" x2="512.6" y2="470.0" stroke="#111" stroke-width="0.9" />
<line x1="516.6" y1="457.0" x2="516.6" y2="470.0" stroke="#111" stroke-width="0.9" />
<rect x="544.1" y="444.2" width="11.4" height="12.4" rx="0" fill="#111" stroke="none" stroke-width="0" />
<rect x="544.1" y="456.6" width="11.4" height="13.7" rx="0" fill="#fff" stroke="#111" stroke-width="1.1" />
<line x1="547.8" y1="457.0" x2="547.8" y2="470.0" stroke="#111" stroke-width="0.9" />
<line x1="551.8" y1="457.0" x2="551.8" y2="470.0" stroke="#111" stroke-width="0.9" />
<rect x="579.4" y="444.2" width="11.4" height="12.4" rx="0" fill="#111" stroke="none" stroke-width="0" />
<rect x="579.4" y="456.6" width="11.4" height="13.7" rx="0" fill="#fff" stroke="#111" stroke-width="1.1" />
<line x1="583.1" y1="457.0" x2="583.1" y2="470.0" stroke="#111" stroke-width="0.9" />
<line x1="587.1" y1="457.0" x2="587.1" y2="470.0" stroke="#111" stroke-width="0.9" />
<rect x="502.2" y="470.3" width="95.3" height="7.0" rx="3" fill="#fff" stroke="#111" stroke-width="1.3" />
<line x1="503.0" y1="472.5" x2="597.0" y2="472.5" stroke="#111" stroke-width="0.9" />
<rect x="504.3" y="478.9" width="20.6" height="13.5" rx="2.5" fill="#161616" stroke="none" stroke-width="0" />
<line x1="512.1" y1="481.0" x2="512.1" y2="490.0" stroke="#666" stroke-width="0.8" />
<line x1="517.1" y1="481.0" x2="517.1" y2="490.0" stroke="#666" stroke-width="0.8" />
<rect x="539.5" y="478.9" width="20.6" height="13.5" rx="2.5" fill="#161616" stroke="none" stroke-width="0" />
<line x1="547.3" y1="481.0" x2="547.3" y2="490.0" stroke="#666" stroke-width="0.8" />
<line x1="552.3" y1="481.0" x2="552.3" y2="490.0" stroke="#666" stroke-width="0.8" />
<rect x="574.8" y="478.9" width="20.6" height="13.5" rx="2.5" fill="#161616" stroke="none" stroke-width="0" />
<line x1="582.6" y1="481.0" x2="582.6" y2="490.0" stroke="#666" stroke-width="0.8" />
<line x1="587.6" y1="481.0" x2="587.6" y2="490.0" stroke="#666" stroke-width="0.8" />
<path d="M408.1 293.5 V317.2 M473 293.5 V317.2" fill="none" stroke="#111" stroke-width="1.1" stroke-linejoin="round" stroke-linecap="round" />
<line x1="408.1" y1="317.2" x2="473.5" y2="317.2" stroke="#111" stroke-width="1.6" />
<path d="M408 317.7 H473.5 L469.2 334 H413 Z" fill="#fff" stroke="#111" stroke-width="1.1" stroke-linejoin="round" stroke-linecap="round" />
<line x1="413.0" y1="331.8" x2="469.5" y2="331.8" stroke="#111" stroke-width="0.9" />
<rect x="415.5" y="319.5" width="21.0" height="7.4" rx="3.7" fill="#fff" stroke="#111" stroke-width="1.0" />
<ellipse cx="419.5" cy="323.2" rx="2.0" ry="3.0" fill="none" stroke="#111" stroke-width="0.9" />
<ellipse cx="424.5" cy="323.2" rx="2.0" ry="3.0" fill="none" stroke="#111" stroke-width="0.9" />
<ellipse cx="433.0" cy="323.2" rx="2.0" ry="3.0" fill="none" stroke="#111" stroke-width="0.9" />
<path d="M426 320 L431 327" fill="none" stroke="#111" stroke-width="0.9" stroke-linejoin="round" stroke-linecap="round" />
<rect x="459.5" y="319.5" width="12.5" height="7.4" rx="3.7" fill="#fff" stroke="#111" stroke-width="1.0" />
<ellipse cx="463.0" cy="323.2" rx="1.8" ry="3.0" fill="none" stroke="#111" stroke-width="0.9" />
<path d="M466 320 L464.5 327 M469 320 L467.5 327" fill="none" stroke="#111" stroke-width="0.9" stroke-linejoin="round" stroke-linecap="round" />
<path d="M416.5 334 V341.2 M465 334 V338" fill="none" stroke="#111" stroke-width="0.9" stroke-linejoin="round" stroke-linecap="round" />
<path d="M428 334 V337 M438 334 V337 M444 334 V336" fill="none" stroke="#111" stroke-width="0.9" stroke-linejoin="round" stroke-linecap="round" />
<rect x="444.0" y="334.2" width="9.0" height="3.0" rx="0" fill="#888" stroke="none" stroke-width="0" />
<line x1="422.6" y1="337.5" x2="422.6" y2="341.4" stroke="#222" stroke-width="1.5" />
<line x1="424.9" y1="337.5" x2="424.9" y2="341.4" stroke="#222" stroke-width="1.5" />
<line x1="427.2" y1="337.5" x2="427.2" y2="341.4" stroke="#222" stroke-width="1.5" />
<line x1="429.5" y1="337.5" x2="429.5" y2="341.4" stroke="#222" stroke-width="1.5" />
<line x1="431.8" y1="337.5" x2="431.8" y2="341.4" stroke="#222" stroke-width="1.5" />
<line x1="434.1" y1="337.5" x2="434.1" y2="341.4" stroke="#222" stroke-width="1.5" />
<line x1="436.4" y1="337.5" x2="436.4" y2="341.4" stroke="#222" stroke-width="1.5" />
<line x1="438.7" y1="337.5" x2="438.7" y2="341.4" stroke="#222" stroke-width="1.5" />
<line x1="441.0" y1="337.5" x2="441.0" y2="341.4" stroke="#222" stroke-width="1.5" />
<line x1="443.3" y1="337.5" x2="443.3" y2="341.4" stroke="#222" stroke-width="1.5" />
<line x1="445.6" y1="337.5" x2="445.6" y2="341.4" stroke="#222" stroke-width="1.5" />
<line x1="447.9" y1="337.5" x2="447.9" y2="341.4" stroke="#222" stroke-width="1.5" />
<line x1="450.2" y1="337.5" x2="450.2" y2="341.4" stroke="#222" stroke-width="1.5" />
<line x1="452.5" y1="337.5" x2="452.5" y2="341.4" stroke="#222" stroke-width="1.5" />
<line x1="422.3" y1="337.3" x2="453.9" y2="337.3" stroke="#111" stroke-width="1.0" />
<path d="M403.7 341.2 H454.4 V399.5 H424.4 L403.7 386.4 Z" fill="#fff" stroke="#111" stroke-width="1.3" stroke-linejoin="round" stroke-linecap="round" />
<path d="M417.4 341.2 V393 M405.8 343 V385.5 L417.4 393 H454.4 M417.4 393 L424.4 399.5" fill="none" stroke="#111" stroke-width="1.1" stroke-linejoin="round" stroke-linecap="round" />
<rect x="455.0" y="337.9" width="21.8" height="14.7" rx="0" fill="#fff" stroke="none" stroke-width="0" />
<line x1="456.2" y1="338.2" x2="456.2" y2="352.4" stroke="#222" stroke-width="1.7" />
<line x1="458.6" y1="338.2" x2="458.6" y2="352.4" stroke="#222" stroke-width="1.7" />
<line x1="461.1" y1="338.2" x2="461.1" y2="352.4" stroke="#222" stroke-width="1.7" />
<line x1="463.5" y1="338.2" x2="463.5" y2="352.4" stroke="#222" stroke-width="1.7" />
<line x1="466.0" y1="338.2" x2="466.0" y2="352.4" stroke="#222" stroke-width="1.7" />
<line x1="468.4" y1="338.2" x2="468.4" y2="352.4" stroke="#222" stroke-width="1.7" />
<line x1="470.9" y1="338.2" x2="470.9" y2="352.4" stroke="#222" stroke-width="1.7" />
<line x1="473.3" y1="338.2" x2="473.3" y2="352.4" stroke="#222" stroke-width="1.7" />
<line x1="475.8" y1="338.2" x2="475.8" y2="352.4" stroke="#222" stroke-width="1.7" />
<line x1="455.0" y1="337.9" x2="476.8" y2="337.9" stroke="#111" stroke-width="1.2" />
<line x1="455.0" y1="352.6" x2="476.8" y2="352.6" stroke="#111" stroke-width="1.2" />
<path d="M455.5 355.9 H479 V372.2 M466.4 355.9 V372.2 M455.5 358 H479 M464.5 355.9 V372.2" fill="none" stroke="#111" stroke-width="1.1" stroke-linejoin="round" stroke-linecap="round" />
<line x1="455.5" y1="353.8" x2="480.0" y2="353.8" stroke="#111" stroke-width="0.9" />
<path d="M488.8 262 V344 L479.5 353.8 M491.5 262 V345.5 L480.5 356" fill="none" stroke="#111" stroke-width="1.1" stroke-linejoin="round" stroke-linecap="round" />
<path d="M455.5 371.7 H504 M455.5 373.9 H504 M455.5 376.5 H468 V379.5 M470 374 V379.9" fill="none" stroke="#111" stroke-width="1.1" stroke-linejoin="round" stroke-linecap="round" />
<path d="M455.5 377.7 V394 L460.4 399.5 H495.3 V398 M457.6 380 V393 L461.3 397.3 H494" fill="none" stroke="#111" stroke-width="1.1" stroke-linejoin="round" stroke-linecap="round" />
<rect x="477.3" y="281.0" width="9.8" height="16.0" rx="1.5" fill="#111" stroke="none" stroke-width="0" />
<rect x="477.3" y="315.5" width="9.8" height="16.4" rx="1.5" fill="#111" stroke="none" stroke-width="0" />
<path d="M479.5 297 Q479 308 473.5 318 M483.5 297 Q483 309 476 320 M486.5 297 V315.5 M474 262 Q473 275 477.3 283" fill="none" stroke="#111" stroke-width="1.0" stroke-linejoin="round" stroke-linecap="round" />
<path d="M471 262 V293" fill="none" stroke="#111" stroke-width="0.9" stroke-linejoin="round" stroke-linecap="round" />
<path d="M628 297.7 V300.5 H662 V296" fill="none" stroke="#111" stroke-width="0.9" stroke-linejoin="round" stroke-linecap="round" />
<line x1="766.6" y1="64.7" x2="842.0" y2="64.7" stroke="#111" stroke-width="1.1" />
<line x1="813.7" y1="294.6" x2="842.0" y2="294.6" stroke="#111" stroke-width="1.1" />
<line x1="839.5" y1="64.7" x2="839.5" y2="294.6" stroke="#111" stroke-width="1.1" />
<path d="M839.5 64.7 L836.6 81.4 L842.4 81.4 Z" fill="#111" stroke="none"/>
<path d="M839.5 294.6 L836.6 277.9 L842.4 277.9 Z" fill="#111" stroke="none"/>
<text x="859.8" y="186.3" font-size="21.4" text-anchor="middle" fill="#111" transform="rotate(-90 859.8 186.3)" >98</text>
<line x1="313.5" y1="271.0" x2="327.5" y2="271.0" stroke="#111" stroke-width="1.1" />
<line x1="315.5" y1="271.0" x2="315.5" y2="443.8" stroke="#111" stroke-width="1.1" />
<path d="M315.5 271.2 L312.6 287.9 L318.4 287.9 Z" fill="#111" stroke="none"/>
<path d="M315.5 443.6 L312.6 426.9 L318.4 426.9 Z" fill="#111" stroke="none"/>
<line x1="312.5" y1="443.7" x2="787.3" y2="443.7" stroke="#111" stroke-width="1.1" />
<text x="336.2" y="356.0" font-size="21.4" text-anchor="middle" fill="#111" transform="rotate(-90 336.2 356.0)" >73.5</text>
<line x1="426.8" y1="369.0" x2="426.8" y2="395.0" stroke="#111" stroke-width="1.1" />
<path d="M426.8 395.6 L423.9 382.6 L429.7 382.6 Z" fill="#111" stroke="none"/>
<line x1="426.8" y1="443.8" x2="426.8" y2="474.0" stroke="#111" stroke-width="1.1" />
<path d="M426.8 443.8 L423.9 456.8 L429.7 456.8 Z" fill="#111" stroke="none"/>
<text x="448.0" y="419.3" font-size="21.4" text-anchor="middle" fill="#111" transform="rotate(-90 448.0 419.3)" >18.5</text>
<line x1="404.2" y1="341.8" x2="404.2" y2="546.5" stroke="#111" stroke-width="1.1" />
<line x1="459.4" y1="400.0" x2="459.4" y2="567.5" stroke="#111" stroke-width="1.1" />
<line x1="404.2" y1="543.5" x2="549.8" y2="543.5" stroke="#111" stroke-width="1.1" />
<path d="M404.2 543.5 L420.9 540.6 L420.9 546.4 Z" fill="#111" stroke="none"/>
<path d="M549.8 543.5 L533.1 540.6 L533.1 546.4 Z" fill="#111" stroke="none"/>
<line x1="550.2" y1="531.4" x2="550.2" y2="546.0" stroke="#111" stroke-width="1.1" />
<text x="482.0" y="540.5" font-size="21.4" text-anchor="middle" fill="#111" >62.5</text>
<line x1="640.9" y1="396.4" x2="640.9" y2="567.5" stroke="#111" stroke-width="1.1" />
<line x1="459.4" y1="564.8" x2="640.9" y2="564.8" stroke="#111" stroke-width="1.1" />
<path d="M459.4 564.8 L476.1 561.9 L476.1 567.7 Z" fill="#111" stroke="none"/>
<path d="M640.9 564.8 L624.2 561.9 L624.2 567.7 Z" fill="#111" stroke="none"/>
<text x="553.6" y="563.2" font-size="21.4" text-anchor="middle" fill="#111" >78</text>
<circle cx="537.6" cy="558.2" r="3.1" fill="none" stroke="#111" stroke-width="1.0"/>
<line x1="535.4" y1="563.6" x2="539.8" y2="552.8" stroke="#111" stroke-width="1.0" />
<line x1="769.7" y1="316.4" x2="787.3" y2="316.4" stroke="#111" stroke-width="1.1" />
<line x1="785.1" y1="316.4" x2="785.1" y2="532.0" stroke="#111" stroke-width="1.1" />
<line x1="561.8" y1="531.6" x2="787.3" y2="531.6" stroke="#111" stroke-width="1.1" />
<path d="M785.1 316.4 L782.2 333.1 L788.0 333.1 Z" fill="#111" stroke="none"/>
<path d="M785.1 443.6 L782.2 426.9 L788.0 426.9 Z" fill="#111" stroke="none"/>
<path d="M785.1 443.8 L782.2 460.5 L788.0 460.5 Z" fill="#111" stroke="none"/>
<path d="M785.1 531.6 L782.2 514.9 L788.0 514.9 Z" fill="#111" stroke="none"/>
<text x="805.8" y="373.9" font-size="21.4" text-anchor="middle" fill="#111" transform="rotate(-90 805.8 373.9)" >54.5</text>
<text x="805.8" y="487.3" font-size="21.4" text-anchor="middle" fill="#111" transform="rotate(-90 805.8 487.3)" >37.5</text>
<line x1="408.0" y1="294.0" x2="408.0" y2="300.0" stroke="#111" stroke-width="1.1" />
<path d="M381.9 766.6 V593.2 H433.6 V766.6" fill="none" stroke="#111" stroke-width="1.0" stroke-linejoin="round" stroke-linecap="round" />
<path d="M676.8 766.6 V593.2 H729 V766.6" fill="none" stroke="#111" stroke-width="1.0" stroke-linejoin="round" stroke-linecap="round" />
<path d="M376.2 767.0 L439.2 767.0 L459.0 777.2 C470.2 783.0 477.3 792.3 477.3 802.3 C477.3 812.3 471.2 821.0 464.0 825.5 L439.2 837.0 L376.2 837.0 L351.4 825.5 C344.2 821.0 338.1 812.3 338.1 802.3 C338.1 792.3 345.2 783.0 356.4 777.2 Z" fill="#fff" stroke="#111" stroke-width="1.3" stroke-linejoin="round" stroke-linecap="round" />
<path d="M376.8 769.0 L438.6 769.0 L458.4 779.2 C469.6 785.0 475.3 792.3 475.3 802.3 C475.3 812.3 470.6 819.0 463.4 823.5 L438.6 835.0 L376.8 835.0 L352.0 823.5 C344.8 819.0 340.1 812.3 340.1 802.3 C340.1 792.3 345.8 785.0 357.0 779.2 Z" fill="none" stroke="#111" stroke-width="0.8" stroke-linejoin="round" stroke-linecap="round" />
<path d="M671.5 767.0 L734.5 767.0 L754.3 777.2 C765.5 783.0 772.6 792.3 772.6 802.3 C772.6 812.3 766.5 821.0 759.3 825.5 L734.5 837.0 L671.5 837.0 L646.7 825.5 C639.5 821.0 633.4 812.3 633.4 802.3 C633.4 792.3 640.5 783.0 651.7 777.2 Z" fill="#fff" stroke="#111" stroke-width="1.3" stroke-linejoin="round" stroke-linecap="round" />
<path d="M672.1 769.0 L733.9 769.0 L753.7 779.2 C764.9 785.0 770.6 792.3 770.6 802.3 C770.6 812.3 765.9 819.0 758.7 823.5 L733.9 835.0 L672.1 835.0 L647.3 823.5 C640.1 819.0 635.4 812.3 635.4 802.3 C635.4 792.3 641.1 785.0 652.3 779.2 Z" fill="none" stroke="#111" stroke-width="0.8" stroke-linejoin="round" stroke-linecap="round" />
<line x1="382.0" y1="767.0" x2="433.6" y2="767.0" stroke="#111" stroke-width="1.6" />
<line x1="676.8" y1="767.0" x2="729.0" y2="767.0" stroke="#111" stroke-width="1.6" />
<path d="M383.4 837 V858.5 Q383.4 861.6 386.5 861.6 H389 M395.4 839 V861 M420.4 839 V859 M431.4 837 V852" fill="none" stroke="#111" stroke-width="1.0" stroke-linejoin="round" stroke-linecap="round" />
<path d="M383.4 845.4 H431.4 M389 861.6 H416 M389 863.6 H416" fill="none" stroke="#111" stroke-width="0.8" stroke-linejoin="round" stroke-linecap="round" />
<path d="M726.7 837 V858.5 Q726.7 861.6 723.6 861.6 H721 M714.7 839 V861 M689.7 839 V859 M678.7 837 V852" fill="none" stroke="#111" stroke-width="1.0" stroke-linejoin="round" stroke-linecap="round" />
<path d="M678.7 845.4 H726.7 M694 861.6 H721 M694 863.6 H721" fill="none" stroke="#111" stroke-width="0.8" stroke-linejoin="round" stroke-linecap="round" />
<path d="M389.5 853 Q391 850 393.5 852.5 L396 860 Q396 864 393.5 863" fill="#fff" stroke="#111" stroke-width="1.2" stroke-linejoin="round" stroke-linecap="round" />
<path d="M417 860 L421 856 L422.5 858 L419.5 863" fill="#fff" stroke="#111" stroke-width="1.1" stroke-linejoin="round" stroke-linecap="round" />
<path d="M720.6 853 Q719 850 716.6 852.5 L714 860 Q714 864 716.6 863" fill="#fff" stroke="#111" stroke-width="1.2" stroke-linejoin="round" stroke-linecap="round" />
<path d="M693 860 L689 856 L687.6 858 L690.5 863" fill="#fff" stroke="#111" stroke-width="1.1" stroke-linejoin="round" stroke-linecap="round" />
<path d="M509.6 847.5 L468.2 834.0 A14.6 14.6 0 0 0 455.8 860.2 L468.6 868 H484" fill="none" stroke="#111" stroke-width="1.6" stroke-linejoin="round" stroke-linecap="round" />
<path d="M600.5 847.5 L641.9 834.0 A14.6 14.6 0 0 1 654.3 860.2 L643.4 868.3" fill="none" stroke="#111" stroke-width="1.6" stroke-linejoin="round" stroke-linecap="round" />
<circle cx="463.7" cy="847.8" r="6.0" fill="#fff" stroke="#111" stroke-width="1.3"/>
<line x1="457.7" y1="847.8" x2="469.7" y2="847.8" stroke="#111" stroke-width="0.8" />
<line x1="463.7" y1="841.8" x2="463.7" y2="853.8" stroke="#111" stroke-width="0.8" />
<line x1="442.7" y1="847.8" x2="452.7" y2="847.8" stroke="#111" stroke-width="1.0" stroke-dasharray="2.5 1"/>
<line x1="474.7" y1="847.8" x2="484.7" y2="847.8" stroke="#111" stroke-width="1.0" stroke-dasharray="2.5 1"/>
<line x1="463.7" y1="830.7" x2="463.7" y2="835.7" stroke="#111" stroke-width="0.8" />
<line x1="463.7" y1="858.4" x2="463.7" y2="861.4" stroke="#111" stroke-width="0.8" />
<circle cx="646.5" cy="847.7" r="6.0" fill="#fff" stroke="#111" stroke-width="1.3"/>
<line x1="640.5" y1="847.7" x2="652.5" y2="847.7" stroke="#111" stroke-width="0.8" />
<line x1="646.5" y1="841.7" x2="646.5" y2="853.7" stroke="#111" stroke-width="0.8" />
<line x1="625.5" y1="847.7" x2="635.5" y2="847.7" stroke="#111" stroke-width="1.0" stroke-dasharray="2.5 1"/>
<line x1="657.5" y1="847.7" x2="667.5" y2="847.7" stroke="#111" stroke-width="1.0" stroke-dasharray="2.5 1"/>
<line x1="646.5" y1="830.6" x2="646.5" y2="835.6" stroke="#111" stroke-width="0.8" />
<line x1="646.5" y1="858.3" x2="646.5" y2="861.3" stroke="#111" stroke-width="0.8" />
<path d="M602.4 1002.6 L641.6 1016.6 A14.6 14.6 0 1 0 649.6 988 L643 983" fill="none" stroke="#111" stroke-width="1.6" stroke-linejoin="round" stroke-linecap="round" />
<circle cx="646.5" cy="1002.4" r="6.0" fill="#fff" stroke="#111" stroke-width="1.3"/>
<line x1="640.5" y1="1002.4" x2="652.5" y2="1002.4" stroke="#111" stroke-width="0.8" />
<line x1="646.5" y1="996.4" x2="646.5" y2="1008.4" stroke="#111" stroke-width="0.8" />
<line x1="625.5" y1="1002.4" x2="635.5" y2="1002.4" stroke="#111" stroke-width="1.0" stroke-dasharray="2.5 1"/>
<line x1="657.5" y1="1002.4" x2="667.5" y2="1002.4" stroke="#111" stroke-width="1.0" stroke-dasharray="2.5 1"/>
<line x1="646.5" y1="985.3" x2="646.5" y2="990.3" stroke="#111" stroke-width="0.8" />
<line x1="646.5" y1="1013.0" x2="646.5" y2="1016.0" stroke="#111" stroke-width="0.8" />
<path d="M457.5 996 A13.6 13.6 0 0 0 463.8 1016.4" fill="none" stroke="#111" stroke-width="1.6" stroke-linejoin="round" stroke-linecap="round" />
<path d="M461 997 A6 6 0 0 0 462 1008" fill="none" stroke="#111" stroke-width="1.0" stroke-linejoin="round" stroke-linecap="round" />
<line x1="442.0" y1="1002.4" x2="452.0" y2="1002.4" stroke="#111" stroke-width="1.0" stroke-dasharray="2.5 1"/>
<line x1="646.5" y1="1019.0" x2="646.5" y2="1061.0" stroke="#111" stroke-width="1.0" />
<line x1="463.8" y1="1016.0" x2="463.8" y2="1061.0" stroke="#111" stroke-width="1.0" />
<line x1="463.8" y1="981.0" x2="463.8" y2="990.0" stroke="#111" stroke-width="0.8" stroke-dasharray="3 1.5"/>
<path d="M487 862 Q496 851 507 848.5 Q498 856 491 865 Z" fill="#333" stroke="#111" stroke-width="1.0" stroke-linejoin="round" stroke-linecap="round" />
<path d="M623.5 862 Q614 851 603 848.5 Q612 856 619.5 865 Z" fill="#333" stroke="#111" stroke-width="1.0" stroke-linejoin="round" stroke-linecap="round" />
<path d="M620 990 Q612 999 603.5 1001.5 Q611 994 616 986 Z" fill="#333" stroke="#111" stroke-width="1.0" stroke-linejoin="round" stroke-linecap="round" />
<path d="M490 990 Q498 999 506.5 1001.5 Q499 994 494 986 Z" fill="#333" stroke="#111" stroke-width="1.0" stroke-linejoin="round" stroke-linecap="round" />
<path d="M474 868 H458 Q456 868 456 870 V890.5 H474 Z" fill="#fff" stroke="#111" stroke-width="1.2" stroke-linejoin="round" stroke-linecap="round" />
<path d="M456 876.1 H474 M456 883.1 H474 M458.2 868 V890.5 M472.3 868 V890.5" fill="none" stroke="#111" stroke-width="1.0" stroke-linejoin="round" stroke-linecap="round" />
<rect x="440.8" y="871.2" width="12.4" height="20.1" rx="1.5" fill="#111" stroke="none" stroke-width="0" />
<line x1="454.5" y1="871.0" x2="454.5" y2="891.0" stroke="#666" stroke-width="1.0" />
<path d="M636.4 868.3 H653.6 Q655.6 868.3 655.6 870.3 V890.6 H636.4" fill="#fff" stroke="#111" stroke-width="1.2" stroke-linejoin="round" stroke-linecap="round" />
<path d="M636.4 876.2 H655.6 M636.4 883.2 H655.6 M638 868.3 V890.6 M652.4 868.3 V890.6" fill="none" stroke="#111" stroke-width="1.0" stroke-linejoin="round" stroke-linecap="round" />
<path d="M636.4 983 H653.6 Q655.6 983 655.6 981 V959.5 H636.4" fill="#fff" stroke="#111" stroke-width="1.2" stroke-linejoin="round" stroke-linecap="round" />
<path d="M636.4 975 H655.6 M636.4 968 H655.6 M638 959.5 V983 M652.4 959.5 V983" fill="none" stroke="#111" stroke-width="1.0" stroke-linejoin="round" stroke-linecap="round" />
<rect x="658.5" y="870.9" width="10.8" height="19.7" rx="1.5" fill="#111" stroke="none" stroke-width="0" />
<rect x="658.5" y="959.6" width="10.8" height="20.8" rx="1.5" fill="#111" stroke="none" stroke-width="0" />
<path d="M655.6 890.6 V959.5 M653 890.6 V959.5 M655.6 892.2 H673.6 M655.6 895.5 H673.6 M655.6 957.5 H673.6 M655.6 954.5 H673.6 M655.6 983 V987 H672" fill="none" stroke="#111" stroke-width="1.0" stroke-linejoin="round" stroke-linecap="round" />
<path d="M669.3 874 L672 871 M669.3 888 L672 891 M669.3 963 L672 960 M669.3 978 L672 981" fill="none" stroke="#111" stroke-width="0.8" stroke-linejoin="round" stroke-linecap="round" />
<rect x="642.6" y="905.3" width="25.3" height="39.2" rx="3.5" fill="#fff" stroke="#111" stroke-width="1.2" />
<rect x="645.0" y="907.5" width="20.7" height="34.8" rx="2.5" fill="none" stroke="#111" stroke-width="0.8" />
<path d="M647 912 L654 919 L647 926 M649 917 L655 925 L649 933 M654 919 V923" fill="none" stroke="#111" stroke-width="1.3" stroke-linejoin="round" stroke-linecap="round" />
<path d="M658 912 V938 M662 912 V938 M656 917 H664 M656 924 H664 M656 931 H664 M656 936 H664" fill="none" stroke="#111" stroke-width="1.0" stroke-linejoin="round" stroke-linecap="round" />
<rect x="510.7" y="772.1" width="89.2" height="70.0" rx="0" fill="#fff" stroke="none" stroke-width="0" />
<path d="M510.7 772.1 V830.6 M599.9 772.1 V830.6 M510.7 772.1 H599.9" fill="none" stroke="#111" stroke-width="1.2" stroke-linejoin="round" stroke-linecap="round" />
<line x1="510.7" y1="786.3" x2="599.9" y2="786.3" stroke="#111" stroke-width="1.9" />
<line x1="510.7" y1="794.6" x2="599.9" y2="794.6" stroke="#111" stroke-width="1.9" />
<line x1="509.5" y1="830.6" x2="601.1" y2="830.6" stroke="#111" stroke-width="1.9" />
<line x1="533.7" y1="772.1" x2="533.7" y2="840.0" stroke="#111" stroke-width="1.0" />
<line x1="536.7" y1="772.1" x2="536.7" y2="840.0" stroke="#111" stroke-width="1.0" />
<line x1="573.9" y1="772.1" x2="573.9" y2="840.0" stroke="#111" stroke-width="1.0" />
<line x1="576.9" y1="772.1" x2="576.9" y2="840.0" stroke="#111" stroke-width="1.0" />
<path d="M509.5 830.6 V849 M601.1 830.6 V847" fill="none" stroke="#111" stroke-width="1.2" stroke-linejoin="round" stroke-linecap="round" />
<path d="M508.0 849.8 Q491.6 851.4 487.5 867.5 A89 89 0 0 1 508.0 849.8 Z" fill="#3a3a3a" stroke="#111" stroke-width="1.0" stroke-linejoin="round" stroke-linecap="round" />
<path d="M622.9 867.5 Q618.8 851.4 602.4 849.8 A89 89 0 0 1 622.9 867.5 Z" fill="#3a3a3a" stroke="#111" stroke-width="1.0" stroke-linejoin="round" stroke-linecap="round" />
<path d="M602.4 1000.8 Q618.8 999.2 622.9 983.1 A89 89 0 0 1 602.4 1000.8 Z" fill="#3a3a3a" stroke="#111" stroke-width="1.0" stroke-linejoin="round" stroke-linecap="round" />
<path d="M487.5 983.1 Q491.6 999.2 508.0 1000.8 A89 89 0 0 1 487.5 983.1 Z" fill="#3a3a3a" stroke="#111" stroke-width="1.0" stroke-linejoin="round" stroke-linecap="round" />
<path d="M644.5 925.3 L646.4 924.8 L646.5 924.3 L646.5 923.7 L646.4 923.2 L644.4 922.8 L642.5 922.3 L642.3 921.8 L642.3 921.3 L642.4 920.8 L644.3 920.2 L646.2 919.6 L646.3 919.0 L646.2 918.5 L646.1 918.0 L644.1 917.7 L642.2 917.3 L642.0 916.8 L641.9 916.4 L642.0 915.8 L643.9 915.1 L645.7 914.4 L645.8 913.9 L645.7 913.3 L645.5 912.8 L643.5 912.6 L641.6 912.4 L641.4 911.9 L641.3 911.4 L641.3 910.9 L643.1 910.1 L645.0 909.2 L645.0 908.7 L644.9 908.2 L644.7 907.7 L642.7 907.6 L640.7 907.5 L640.5 907.0 L640.4 906.5 L640.4 906.0 L642.1 905.1 L643.9 904.1 L643.9 903.6 L643.8 903.1 L643.5 902.6 L641.5 902.6 L639.5 902.6 L639.3 902.2 L639.1 901.7 L639.1 901.2 L640.8 900.2 L642.5 899.1 L642.5 898.6 L642.3 898.1 L642.1 897.6 L640.1 897.7 L638.1 897.8 L637.8 897.4 L637.7 896.9 L637.6 896.4 L639.3 895.3 L640.9 894.2 L640.8 893.6 L640.7 893.1 L640.4 892.7 L638.4 892.9 L636.4 893.2 L636.1 892.7 L635.9 892.3 L635.8 891.8 L637.4 890.6 L639.0 889.3 L638.9 888.8 L638.7 888.3 L638.4 887.9 L636.4 888.2 L634.4 888.6 L634.1 888.2 L633.9 887.7 L633.8 887.2 L635.3 885.9 L636.8 884.6 L636.7 884.1 L636.4 883.6 L636.1 883.2 L634.1 883.6 L632.2 884.1 L631.9 883.7 L631.6 883.3 L631.5 882.8 L632.9 881.4 L634.3 880.0 L634.2 879.5 L633.9 879.0 L633.5 878.7 L631.6 879.2 L629.7 879.8 L629.4 879.4 L629.1 879.0 L628.9 878.5 L630.3 877.0 L631.6 875.6 L631.4 875.1 L631.1 874.6 L630.8 874.3 L628.9 874.9 L627.0 875.6 L626.6 875.3 L626.3 874.9 L626.1 874.4 L627.4 872.8 L628.7 871.3 L628.4 870.8 L628.1 870.4 L627.7 870.0 L625.9 870.8 L624.0 871.6 L623.6 871.3 L623.3 870.9 L623.1 870.4 L624.3 868.8 L625.5 867.2 L625.2 866.7 L624.9 866.3 L624.4 866.0 L622.7 866.9 L620.9 867.7 L620.4 867.4 L620.1 867.1 L619.9 866.6 L621.0 865.0 L622.0 863.3 L621.8 862.8 L621.4 862.4 L620.9 862.1 L619.2 863.1 L617.5 864.1 L617.0 863.8 L616.7 863.5 L616.4 863.0 L617.4 861.3 L618.4 859.6 L618.1 859.1 L617.7 858.7 L617.2 858.5 L615.5 859.5 L613.9 860.6 L613.4 860.4 L613.1 860.1 L612.8 859.6 L613.6 857.8 L614.5 856.1 L614.2 855.6 L613.8 855.3 L613.3 855.0 L611.7 856.2 L610.1 857.4 L609.6 857.2 L609.2 856.9 L608.9 856.5 L609.7 854.6 L610.5 852.8 L610.1 852.4 L609.7 852.1 L609.2 851.8 L607.7 853.1 L606.1 854.4 L605.6 854.2 L605.2 853.9 L604.9 853.5 L605.6 851.6 L606.2 849.7 L605.9 849.4 L605.4 849.1 L604.9 848.9 L603.5 850.2 L602.0 851.6 L601.5 851.4 L601.1 851.1 L600.7 850.8 L601.3 848.9 L601.8 847.0 L601.5 846.6 L601.0 846.3 L600.5 846.2 L599.1 847.6 L597.7 849.0 L597.2 848.9 L596.8 848.6 L596.4 848.3 L596.9 846.4 L597.3 844.4 L596.9 844.1 L596.4 843.8 L595.9 843.7 L594.6 845.2 L593.3 846.7 L592.8 846.6 L592.3 846.4 L591.9 846.1 L592.3 844.1 L592.6 842.1 L592.2 841.8 L591.7 841.6 L591.2 841.5 L589.9 843.1 L588.7 844.7 L588.2 844.6 L587.8 844.4 L587.3 844.1 L587.6 842.1 L587.8 840.1 L587.4 839.8 L586.9 839.7 L586.3 839.6 L585.2 841.2 L584.1 842.9 L583.6 842.8 L583.1 842.7 L582.7 842.4 L582.8 840.4 L582.9 838.4 L582.4 838.2 L581.9 838.0 L581.4 838.0 L580.3 839.7 L579.3 841.4 L578.8 841.4 L578.3 841.2 L577.9 841.0 L577.9 839.0 L577.9 837.0 L577.4 836.7 L576.9 836.6 L576.4 836.6 L575.4 838.4 L574.5 840.1 L574.0 840.1 L573.5 840.0 L573.0 839.8 L572.9 837.8 L572.8 835.8 L572.3 835.6 L571.8 835.5 L571.3 835.5 L570.4 837.4 L569.6 839.2 L569.1 839.2 L568.6 839.1 L568.1 838.9 L567.9 837.0 L567.7 835.0 L567.2 834.8 L566.6 834.7 L566.1 834.8 L565.4 836.6 L564.7 838.5 L564.1 838.6 L563.7 838.5 L563.2 838.3 L562.8 836.4 L562.5 834.4 L562.0 834.3 L561.5 834.2 L560.9 834.3 L560.3 836.2 L559.7 838.1 L559.2 838.2 L558.7 838.2 L558.2 838.0 L557.7 836.1 L557.3 834.1 L556.8 834.0 L556.2 834.0 L555.7 834.1 L555.2 836.0 L554.7 838.0 L554.2 838.1 L553.7 838.1 L553.2 838.0 L552.7 836.1 L552.1 834.2 L551.6 834.1 L551.0 834.1 L550.5 834.2 L550.1 836.2 L549.7 838.2 L549.2 838.3 L548.7 838.3 L548.2 838.3 L547.6 836.4 L546.9 834.5 L546.3 834.4 L545.8 834.5 L545.3 834.7 L545.0 836.6 L544.8 838.6 L544.3 838.8 L543.8 838.9 L543.3 838.8 L542.5 837.0 L541.7 835.1 L541.2 835.1 L540.7 835.2 L540.2 835.4 L540.0 837.4 L539.8 839.3 L539.3 839.6 L538.9 839.6 L538.3 839.6 L537.5 837.8 L536.6 836.0 L536.0 836.0 L535.5 836.1 L535.1 836.4 L535.0 838.4 L534.9 840.4 L534.5 840.6 L534.0 840.7 L533.5 840.7 L532.5 839.0 L531.5 837.3 L531.0 837.3 L530.5 837.4 L530.0 837.7 L530.1 839.7 L530.1 841.7 L529.7 841.9 L529.2 842.1 L528.7 842.1 L527.6 840.4 L526.5 838.7 L526.0 838.8 L525.5 839.0 L525.1 839.3 L525.2 841.2 L525.4 843.2 L525.0 843.5 L524.5 843.7 L524.0 843.7 L522.8 842.1 L521.6 840.5 L521.1 840.6 L520.6 840.8 L520.2 841.1 L520.5 843.1 L520.7 845.1 L520.3 845.4 L519.9 845.6 L519.4 845.7 L518.1 844.1 L516.9 842.6 L516.3 842.7 L515.9 842.9 L515.4 843.2 L515.8 845.2 L516.2 847.2 L515.8 847.5 L515.4 847.7 L514.9 847.8 L513.5 846.4 L512.2 844.9 L511.7 845.0 L511.2 845.3 L510.8 845.7 L511.3 847.6 L511.8 849.5 L511.5 849.9 L511.0 850.1 L510.5 850.3 L509.1 848.9 L507.7 847.5 L507.2 847.7 L506.7 847.9 L506.3 848.3 L506.9 850.2 L507.6 852.1 L507.2 852.5 L506.8 852.8 L506.3 852.9 L504.8 851.6 L503.3 850.3 L502.8 850.5 L502.4 850.8 L502.0 851.2 L502.7 853.1 L503.5 854.9 L503.1 855.3 L502.7 855.6 L502.3 855.8 L500.7 854.6 L499.1 853.4 L498.6 853.6 L498.2 854.0 L497.9 854.4 L498.7 856.2 L499.5 858.0 L499.2 858.4 L498.9 858.8 L498.4 859.0 L496.8 857.8 L495.1 856.7 L494.6 857.0 L494.2 857.3 L493.9 857.8 L494.9 859.5 L495.8 861.3 L495.5 861.7 L495.1 862.1 L494.7 862.3 L493.0 861.3 L491.3 860.3 L490.8 860.6 L490.5 860.9 L490.2 861.4 L491.2 863.1 L492.2 864.8 L492.0 865.2 L491.6 865.6 L491.2 865.9 L489.4 865.0 L487.7 864.0 L487.2 864.3 L486.9 864.7 L486.6 865.2 L487.7 866.9 L488.9 868.5 L488.7 869.0 L488.3 869.3 L487.9 869.6 L486.1 868.8 L484.3 868.0 L483.9 868.3 L483.5 868.7 L483.3 869.2 L484.5 870.8 L485.7 872.4 L485.5 872.8 L485.2 873.2 L484.8 873.6 L483.0 872.8 L481.1 872.1 L480.7 872.5 L480.4 872.9 L480.2 873.4 L481.5 874.9 L482.8 876.4 L482.7 876.9 L482.4 877.3 L482.0 877.7 L480.1 877.0 L478.2 876.4 L477.8 876.8 L477.6 877.3 L477.4 877.8 L478.8 879.2 L480.2 880.6 L480.0 881.1 L479.8 881.6 L479.4 881.9 L477.5 881.4 L475.6 880.9 L475.2 881.3 L474.9 881.8 L474.8 882.3 L476.3 883.6 L477.7 885.0 L477.6 885.5 L477.4 885.9 L477.1 886.3 L475.1 885.9 L473.1 885.5 L472.8 886.0 L472.6 886.4 L472.5 887.0 L474.0 888.2 L475.6 889.5 L475.5 890.0 L475.3 890.4 L475.0 890.8 L473.0 890.6 L471.0 890.3 L470.7 890.7 L470.5 891.2 L470.4 891.7 L472.0 892.9 L473.6 894.1 L473.6 894.6 L473.4 895.1 L473.1 895.5 L471.1 895.3 L469.2 895.2 L468.9 895.6 L468.7 896.1 L468.6 896.6 L470.3 897.7 L472.0 898.8 L472.0 899.3 L471.8 899.8 L471.6 900.2 L469.6 900.2 L467.6 900.1 L467.3 900.6 L467.2 901.1 L467.2 901.6 L468.9 902.6 L470.6 903.6 L470.6 904.1 L470.5 904.6 L470.3 905.0 L468.3 905.1 L466.3 905.2 L466.0 905.6 L465.9 906.1 L465.9 906.7 L467.7 907.6 L469.5 908.4 L469.5 909.0 L469.5 909.4 L469.2 909.9 L467.3 910.1 L465.3 910.3 L465.1 910.8 L465.0 911.3 L465.0 911.8 L466.9 912.6 L468.7 913.4 L468.8 913.9 L468.7 914.4 L468.5 914.9 L466.5 915.1 L464.6 915.4 L464.4 915.9 L464.3 916.4 L464.4 917.0 L466.3 917.7 L468.2 918.3 L468.2 918.8 L468.2 919.3 L468.1 919.8 L466.1 920.2 L464.1 920.6 L464.0 921.1 L464.0 921.7 L464.1 922.2 L466.0 922.8 L467.9 923.3 L468.0 923.8 L468.0 924.3 L467.9 924.8 L466.0 925.3 L464.0 925.8 L463.9 926.3 L463.9 926.9 L464.0 927.4 L466.0 927.8 L467.9 928.3 L468.1 928.8 L468.1 929.3 L468.0 929.8 L466.1 930.4 L464.2 931.0 L464.1 931.6 L464.2 932.1 L464.3 932.6 L466.3 932.9 L468.2 933.3 L468.4 933.8 L468.5 934.2 L468.4 934.8 L466.5 935.5 L464.7 936.2 L464.6 936.7 L464.7 937.3 L464.9 937.8 L466.9 938.0 L468.8 938.2 L469.0 938.7 L469.1 939.2 L469.1 939.7 L467.3 940.5 L465.4 941.4 L465.4 941.9 L465.5 942.4 L465.7 942.9 L467.7 943.0 L469.7 943.1 L469.9 943.6 L470.0 944.1 L470.0 944.6 L468.3 945.5 L466.5 946.5 L466.5 947.0 L466.6 947.5 L466.9 948.0 L468.9 948.0 L470.9 948.0 L471.1 948.4 L471.3 948.9 L471.3 949.4 L469.6 950.4 L467.9 951.5 L467.9 952.0 L468.1 952.5 L468.3 953.0 L470.3 952.9 L472.3 952.8 L472.6 953.2 L472.7 953.7 L472.8 954.2 L471.1 955.3 L469.5 956.4 L469.6 957.0 L469.7 957.5 L470.0 957.9 L472.0 957.7 L474.0 957.4 L474.3 957.9 L474.5 958.3 L474.6 958.8 L473.0 960.0 L471.4 961.3 L471.5 961.8 L471.7 962.3 L472.0 962.7 L474.0 962.4 L476.0 962.0 L476.3 962.4 L476.5 962.9 L476.6 963.4 L475.1 964.7 L473.6 966.0 L473.7 966.5 L474.0 967.0 L474.3 967.4 L476.3 967.0 L478.2 966.5 L478.5 966.9 L478.8 967.3 L478.9 967.8 L477.5 969.2 L476.1 970.6 L476.2 971.1 L476.5 971.6 L476.9 971.9 L478.8 971.4 L480.7 970.8 L481.0 971.2 L481.3 971.6 L481.5 972.1 L480.1 973.6 L478.8 975.0 L479.0 975.5 L479.3 976.0 L479.6 976.3 L481.5 975.7 L483.4 975.0 L483.8 975.3 L484.1 975.7 L484.3 976.2 L483.0 977.8 L481.7 979.3 L482.0 979.8 L482.3 980.2 L482.7 980.6 L484.5 979.8 L486.4 979.0 L486.8 979.3 L487.1 979.7 L487.3 980.2 L486.1 981.8 L484.9 983.4 L485.2 983.9 L485.5 984.3 L486.0 984.6 L487.7 983.7 L489.5 982.9 L490.0 983.2 L490.3 983.5 L490.5 984.0 L489.4 985.6 L488.4 987.3 L488.6 987.8 L489.0 988.2 L489.5 988.5 L491.2 987.5 L492.9 986.5 L493.4 986.8 L493.7 987.1 L494.0 987.6 L493.0 989.3 L492.0 991.0 L492.3 991.5 L492.7 991.9 L493.2 992.1 L494.9 991.1 L496.5 990.0 L497.0 990.2 L497.3 990.5 L497.6 991.0 L496.8 992.8 L495.9 994.5 L496.2 995.0 L496.6 995.3 L497.1 995.6 L498.7 994.4 L500.3 993.2 L500.8 993.4 L501.2 993.7 L501.5 994.1 L500.7 996.0 L499.9 997.8 L500.3 998.2 L500.7 998.5 L501.2 998.8 L502.7 997.5 L504.3 996.2 L504.8 996.4 L505.2 996.7 L505.5 997.1 L504.8 999.0 L504.2 1000.9 L504.5 1001.2 L505.0 1001.5 L505.5 1001.7 L506.9 1000.4 L508.4 999.0 L508.9 999.2 L509.3 999.5 L509.7 999.8 L509.1 1001.7 L508.6 1003.6 L508.9 1004.0 L509.4 1004.3 L509.9 1004.4 L511.3 1003.0 L512.7 1001.6 L513.2 1001.7 L513.6 1002.0 L514.0 1002.3 L513.5 1004.2 L513.1 1006.2 L513.5 1006.5 L514.0 1006.8 L514.5 1006.9 L515.8 1005.4 L517.1 1003.9 L517.6 1004.0 L518.1 1004.2 L518.5 1004.5 L518.1 1006.5 L517.8 1008.5 L518.2 1008.8 L518.7 1009.0 L519.2 1009.1 L520.5 1007.5 L521.7 1005.9 L522.2 1006.0 L522.6 1006.2 L523.1 1006.5 L522.8 1008.5 L522.6 1010.5 L523.0 1010.8 L523.5 1010.9 L524.1 1011.0 L525.2 1009.4 L526.3 1007.7 L526.8 1007.8 L527.3 1007.9 L527.7 1008.2 L527.6 1010.2 L527.5 1012.2 L528.0 1012.4 L528.5 1012.6 L529.0 1012.6 L530.1 1010.9 L531.1 1009.2 L531.6 1009.2 L532.1 1009.4 L532.5 1009.6 L532.5 1011.6 L532.5 1013.6 L533.0 1013.9 L533.5 1014.0 L534.0 1014.0 L535.0 1012.2 L535.9 1010.5 L536.4 1010.5 L536.9 1010.6 L537.4 1010.8 L537.5 1012.8 L537.6 1014.8 L538.1 1015.0 L538.6 1015.1 L539.1 1015.1 L540.0 1013.2 L540.8 1011.4 L541.3 1011.4 L541.8 1011.5 L542.3 1011.7 L542.5 1013.6 L542.7 1015.6 L543.2 1015.8 L543.8 1015.9 L544.3 1015.8 L545.0 1014.0 L545.7 1012.1 L546.3 1012.0 L546.7 1012.1 L547.2 1012.3 L547.6 1014.2 L547.9 1016.2 L548.4 1016.3 L548.9 1016.4 L549.5 1016.3 L550.1 1014.4 L550.7 1012.5 L551.2 1012.4 L551.7 1012.4 L552.2 1012.6 L552.7 1014.5 L553.1 1016.5 L553.6 1016.6 L554.2 1016.6 L554.7 1016.5 L555.2 1014.5 L555.7 1012.6 L556.2 1012.5 L556.7 1012.5 L557.2 1012.6 L557.7 1014.5 L558.3 1016.4 L558.8 1016.5 L559.4 1016.5 L559.9 1016.4 L560.3 1014.4 L560.7 1012.4 L561.2 1012.3 L561.7 1012.3 L562.2 1012.3 L562.8 1014.2 L563.5 1016.1 L564.1 1016.2 L564.6 1016.1 L565.1 1015.9 L565.4 1014.0 L565.6 1012.0 L566.1 1011.8 L566.6 1011.7 L567.1 1011.8 L567.9 1013.6 L568.7 1015.5 L569.2 1015.5 L569.7 1015.4 L570.2 1015.2 L570.4 1013.2 L570.6 1011.3 L571.1 1011.0 L571.5 1011.0 L572.1 1011.0 L572.9 1012.8 L573.8 1014.6 L574.4 1014.6 L574.9 1014.5 L575.3 1014.2 L575.4 1012.2 L575.5 1010.2 L575.9 1010.0 L576.4 1009.9 L576.9 1009.9 L577.9 1011.6 L578.9 1013.3 L579.4 1013.3 L579.9 1013.2 L580.4 1012.9 L580.3 1010.9 L580.3 1008.9 L580.7 1008.7 L581.2 1008.5 L581.7 1008.5 L582.8 1010.2 L583.9 1011.9 L584.4 1011.8 L584.9 1011.6 L585.3 1011.3 L585.2 1009.4 L585.0 1007.4 L585.4 1007.1 L585.9 1006.9 L586.4 1006.9 L587.6 1008.5 L588.8 1010.1 L589.3 1010.0 L589.8 1009.8 L590.2 1009.5 L589.9 1007.5 L589.7 1005.5 L590.1 1005.2 L590.5 1005.0 L591.0 1004.9 L592.3 1006.5 L593.5 1008.0 L594.1 1007.9 L594.5 1007.7 L595.0 1007.4 L594.6 1005.4 L594.2 1003.4 L594.6 1003.1 L595.0 1002.9 L595.5 1002.8 L596.9 1004.2 L598.2 1005.7 L598.7 1005.6 L599.2 1005.3 L599.6 1004.9 L599.1 1003.0 L598.6 1001.1 L598.9 1000.7 L599.4 1000.5 L599.9 1000.3 L601.3 1001.7 L602.7 1003.1 L603.2 1002.9 L603.7 1002.7 L604.1 1002.3 L603.5 1000.4 L602.8 998.5 L603.2 998.1 L603.6 997.8 L604.1 997.7 L605.6 999.0 L607.1 1000.3 L607.6 1000.1 L608.0 999.8 L608.4 999.4 L607.7 997.5 L606.9 995.7 L607.3 995.3 L607.7 995.0 L608.1 994.8 L609.7 996.0 L611.3 997.2 L611.8 997.0 L612.2 996.6 L612.5 996.2 L611.7 994.4 L610.9 992.6 L611.2 992.2 L611.5 991.8 L612.0 991.6 L613.6 992.8 L615.3 993.9 L615.8 993.6 L616.2 993.3 L616.5 992.8 L615.5 991.1 L614.6 989.3 L614.9 988.9 L615.3 988.5 L615.7 988.3 L617.4 989.3 L619.1 990.3 L619.6 990.0 L619.9 989.7 L620.2 989.2 L619.2 987.5 L618.2 985.8 L618.4 985.4 L618.8 985.0 L619.2 984.7 L621.0 985.6 L622.7 986.6 L623.2 986.3 L623.5 985.9 L623.8 985.4 L622.7 983.7 L621.5 982.1 L621.7 981.6 L622.1 981.3 L622.5 981.0 L624.3 981.8 L626.1 982.6 L626.5 982.3 L626.9 981.9 L627.1 981.4 L625.9 979.8 L624.7 978.2 L624.9 977.8 L625.2 977.4 L625.6 977.0 L627.4 977.8 L629.3 978.5 L629.7 978.1 L630.0 977.7 L630.2 977.2 L628.9 975.7 L627.6 974.2 L627.7 973.7 L628.0 973.3 L628.4 972.9 L630.3 973.6 L632.2 974.2 L632.6 973.8 L632.8 973.3 L633.0 972.8 L631.6 971.4 L630.2 970.0 L630.4 969.5 L630.6 969.0 L631.0 968.7 L632.9 969.2 L634.8 969.7 L635.2 969.3 L635.5 968.8 L635.6 968.3 L634.1 967.0 L632.7 965.6 L632.8 965.1 L633.0 964.7 L633.3 964.3 L635.3 964.7 L637.3 965.1 L637.6 964.6 L637.8 964.2 L637.9 963.6 L636.4 962.4 L634.8 961.1 L634.9 960.6 L635.1 960.2 L635.4 959.8 L637.4 960.0 L639.4 960.3 L639.7 959.9 L639.9 959.4 L640.0 958.9 L638.4 957.7 L636.8 956.5 L636.8 956.0 L637.0 955.5 L637.3 955.1 L639.3 955.3 L641.2 955.4 L641.5 955.0 L641.7 954.5 L641.8 954.0 L640.1 952.9 L638.4 951.8 L638.4 951.3 L638.6 950.8 L638.8 950.4 L640.8 950.4 L642.8 950.5 L643.1 950.0 L643.2 949.5 L643.2 949.0 L641.5 948.0 L639.8 947.0 L639.8 946.5 L639.9 946.0 L640.1 945.6 L642.1 945.5 L644.1 945.4 L644.4 945.0 L644.5 944.5 L644.5 943.9 L642.7 943.0 L640.9 942.2 L640.9 941.6 L640.9 941.2 L641.2 940.7 L643.1 940.5 L645.1 940.3 L645.3 939.8 L645.4 939.3 L645.4 938.8 L643.5 938.0 L641.7 937.2 L641.6 936.7 L641.7 936.2 L641.9 935.7 L643.9 935.5 L645.8 935.2 L646.0 934.7 L646.1 934.2 L646.0 933.6 L644.1 932.9 L642.2 932.3 L642.2 931.8 L642.2 931.3 L642.3 930.8 L644.3 930.4 L646.3 930.0 L646.4 929.5 L646.4 928.9 L646.3 928.4 L644.4 927.8 L642.5 927.3 L642.4 926.8 L642.4 926.3 L642.5 925.8 L644.5 925.3 Z" fill="#fff" stroke="#111" stroke-width="1.1" stroke-linejoin="round" stroke-linecap="round" />
<circle cx="555.2" cy="925.3" r="79.7" fill="none" stroke="#111" stroke-width="1.3"/>
<circle cx="555.2" cy="925.3" r="77.4" fill="none" stroke="#111" stroke-width="1.0"/>
<circle cx="555.2" cy="925.3" r="75.4" fill="none" stroke="#111" stroke-width="1.2"/>
<defs>
<clipPath id="slot0"><path d="M579.0 855.7 A73.6 73.6 0 0 1 612.8 879.5 A13.2 13.2 0 0 1 592.1 895.9 A47.2 47.2 0 0 0 570.5 880.6 A13.2 13.2 0 0 1 579.0 855.7 Z"/></clipPath>
<clipPath id="slot1"><path d="M628.8 926.5 A73.6 73.6 0 0 1 616.6 965.9 A13.2 13.2 0 0 1 594.6 951.4 A47.2 47.2 0 0 0 602.4 926.0 A13.2 13.2 0 0 1 628.8 926.5 Z"/></clipPath>
<clipPath id="slot2"><path d="M575.4 996.1 A73.6 73.6 0 0 1 534.1 995.8 A13.2 13.2 0 0 1 541.6 970.5 A47.2 47.2 0 0 0 568.1 970.7 A13.2 13.2 0 0 1 575.4 996.1 Z"/></clipPath>
<clipPath id="slot3"><path d="M494.4 966.8 A73.6 73.6 0 0 1 481.6 927.5 A13.2 13.2 0 0 1 508.0 926.7 A47.2 47.2 0 0 0 516.2 951.9 A13.2 13.2 0 0 1 494.4 966.8 Z"/></clipPath>
<clipPath id="slot4"><path d="M499.2 877.5 A73.6 73.6 0 0 1 533.8 854.9 A13.2 13.2 0 0 1 541.5 880.1 A47.2 47.2 0 0 0 519.3 894.6 A13.2 13.2 0 0 1 499.2 877.5 Z"/></clipPath>
</defs>
<path d="M579.0 855.7 A73.6 73.6 0 0 1 612.8 879.5 A13.2 13.2 0 0 1 592.1 895.9 A47.2 47.2 0 0 0 570.5 880.6 A13.2 13.2 0 0 1 579.0 855.7 Z" fill="#fff" stroke="#111" stroke-width="1.2" stroke-linejoin="round" stroke-linecap="round" />
<path d="M628.8 926.5 A73.6 73.6 0 0 1 616.6 965.9 A13.2 13.2 0 0 1 594.6 951.4 A47.2 47.2 0 0 0 602.4 926.0 A13.2 13.2 0 0 1 628.8 926.5 Z" fill="#fff" stroke="#111" stroke-width="1.2" stroke-linejoin="round" stroke-linecap="round" />
<path d="M575.4 996.1 A73.6 73.6 0 0 1 534.1 995.8 A13.2 13.2 0 0 1 541.6 970.5 A47.2 47.2 0 0 0 568.1 970.7 A13.2 13.2 0 0 1 575.4 996.1 Z" fill="#fff" stroke="#111" stroke-width="1.2" stroke-linejoin="round" stroke-linecap="round" />
<path d="M494.4 966.8 A73.6 73.6 0 0 1 481.6 927.5 A13.2 13.2 0 0 1 508.0 926.7 A47.2 47.2 0 0 0 516.2 951.9 A13.2 13.2 0 0 1 494.4 966.8 Z" fill="#fff" stroke="#111" stroke-width="1.2" stroke-linejoin="round" stroke-linecap="round" />
<path d="M499.2 877.5 A73.6 73.6 0 0 1 533.8 854.9 A13.2 13.2 0 0 1 541.5 880.1 A47.2 47.2 0 0 0 519.3 894.6 A13.2 13.2 0 0 1 499.2 877.5 Z" fill="#fff" stroke="#111" stroke-width="1.2" stroke-linejoin="round" stroke-linecap="round" />
<g clip-path="url(#slot4)">
<path d="M495.5 889.7 A69.5 69.5 0 0 1 546.5 856.3" fill="none" stroke="#111" stroke-width="1.1" stroke-linejoin="round" stroke-linecap="round" />
<path d="M495.0 886.5 A71.6 71.6 0 0 1 543.8 854.6" fill="none" stroke="#777" stroke-width="1.8" stroke-linejoin="round" stroke-linecap="round" />
<path d="M499.4 897.1 A62.5 62.5 0 0 1 551.7 862.9" fill="none" stroke="#111" stroke-width="1.0" stroke-linejoin="round" stroke-linecap="round" />
</g>
<g clip-path="url(#slot0)">
<path d="M566.3 856.7 A69.5 69.5 0 0 1 616.1 891.8" fill="none" stroke="#111" stroke-width="1.1" stroke-linejoin="round" stroke-linecap="round" />
<path d="M569.1 855.1 A71.6 71.6 0 0 1 616.7 888.6" fill="none" stroke="#777" stroke-width="1.8" stroke-linejoin="round" stroke-linecap="round" />
<path d="M560.9 863.1 A62.5 62.5 0 0 1 611.9 899.1" fill="none" stroke="#111" stroke-width="1.0" stroke-linejoin="round" stroke-linecap="round" />
</g>
<g clip-path="url(#slot4)">
<path d="M497 906 L503 893 M577 870 L569 860" fill="none" stroke="#111" stroke-width="0.9" stroke-linejoin="round" stroke-linecap="round" />
</g>
<g clip-path="url(#slot0)">
<path d="M585 887.9 H620 M585 891 H620 M612.2 870 V900 M616 870 V900 M609 880 V900" fill="none" stroke="#333" stroke-width="1.1" stroke-linejoin="round" stroke-linecap="round" />
<ellipse cx="599.8" cy="898.7" rx="4.8" ry="4.8" fill="none" stroke="#111" stroke-width="1.0" />
<path d="M596.5 896 L601.5 902.5 M598.5 895 L603.5 901.5 M600.5 894.5 L604.5 900" fill="none" stroke="#111" stroke-width="0.8" stroke-linejoin="round" stroke-linecap="round" />
</g>
<g clip-path="url(#slot1)">
<path d="M612.2 895 V975 M616 895 V975 M590 960.6 H616 M590 963.6 H616 M585 887.9 H620 M585 891 H620" fill="none" stroke="#333" stroke-width="1.1" stroke-linejoin="round" stroke-linecap="round" />
<rect x="618.4" y="926.6" width="13.6" height="15.9" rx="3" fill="none" stroke="#111" stroke-width="1.2" />
<rect x="620.8" y="929.0" width="9.2" height="11.0" rx="2" fill="none" stroke="#111" stroke-width="1.0" />
<path d="M616 945 H632 M616 952 H632 M622 945 V965 M627 945 V965" fill="none" stroke="#111" stroke-width="0.9" stroke-linejoin="round" stroke-linecap="round" />
<ellipse cx="600.3" cy="949.8" rx="5.4" ry="6.0" fill="none" stroke="#111" stroke-width="1.0" />
<path d="M596.5 947 L602 954.5 M598.5 945.5 L604 953 M600.5 944.8 L605 951" fill="none" stroke="#111" stroke-width="0.8" stroke-linejoin="round" stroke-linecap="round" />
</g>
<g clip-path="url(#slot2)">
<path d="M520 980 Q555 1002 590 981 M516 984 Q555 1010 594 985" fill="none" stroke="#111" stroke-width="1.1" stroke-linejoin="round" stroke-linecap="round" />
<path d="M521 992 Q555 1003 589 991" fill="none" stroke="#333" stroke-width="2.2" stroke-linejoin="round" stroke-linecap="round" />
<path d="M548.8 968 V980 Q555.4 986 562 980 V968 M551.5 970 V982 M554 970 V983 M556.8 970 V983 M559.5 970 V982" fill="none" stroke="#111" stroke-width="0.9" stroke-linejoin="round" stroke-linecap="round" />
</g>
<g clip-path="url(#slot3)">
<path d="M488 975 L509 958 M490.5 978 L511 961.5 M500 952 V975" fill="none" stroke="#111" stroke-width="1.0" stroke-linejoin="round" stroke-linecap="round" />
</g>
<circle cx="555.2" cy="925.3" r="46.5" fill="#fff" stroke="#111" stroke-width="1.8"/>
<circle cx="555.2" cy="925.3" r="13.0" fill="none" stroke="#111" stroke-width="1.8"/>
<circle cx="555.2" cy="925.3" r="10.2" fill="none" stroke="#111" stroke-width="1.2"/>
<circle cx="555.2" cy="925.3" r="6.2" fill="none" stroke="#111" stroke-width="1.7"/>
<circle cx="555.2" cy="925.3" r="3.0" fill="none" stroke="#111" stroke-width="1.0"/>
<circle cx="555.2" cy="925.3" r="4.6" fill="none" stroke="#555" stroke-width="2.2"/>
<line x1="551.2" y1="925.3" x2="559.2" y2="925.3" stroke="#111" stroke-width="0.8" />
<line x1="555.2" y1="921.3" x2="555.2" y2="929.3" stroke="#111" stroke-width="0.8" />
<circle cx="555.2" cy="890.3" r="10.3" fill="none" stroke="#111" stroke-width="1.7"/>
<circle cx="555.2" cy="890.3" r="8.0" fill="none" stroke="#111" stroke-width="1.0"/>
<circle cx="555.2" cy="890.3" r="4.9" fill="none" stroke="#111" stroke-width="1.4"/>
<g transform="rotate(30 555.2 890.3)">
<line x1="555.2" y1="885.7" x2="555.2" y2="894.9" stroke="#111" stroke-width="0.9" />
<path d="M557.7 896.0999999999999 L560.4000000000001 897.5 M560.0 894.0999999999999 L562.2 895.9" fill="none" stroke="#111" stroke-width="1.0" stroke-linejoin="round" stroke-linecap="round" />
</g>
<circle cx="520.2" cy="925.3" r="10.3" fill="none" stroke="#111" stroke-width="1.7"/>
<circle cx="520.2" cy="925.3" r="8.0" fill="none" stroke="#111" stroke-width="1.0"/>
<circle cx="520.2" cy="925.3" r="4.9" fill="none" stroke="#111" stroke-width="1.4"/>
<g transform="rotate(-60 520.2 925.3)">
<line x1="520.2" y1="920.7" x2="520.2" y2="929.9" stroke="#111" stroke-width="0.9" />
<path d="M522.7 931.0999999999999 L525.4000000000001 932.5 M525.0 929.0999999999999 L527.2 930.9" fill="none" stroke="#111" stroke-width="1.0" stroke-linejoin="round" stroke-linecap="round" />
</g>
<circle cx="590.2" cy="925.3" r="10.3" fill="none" stroke="#111" stroke-width="1.7"/>
<circle cx="590.2" cy="925.3" r="8.0" fill="none" stroke="#111" stroke-width="1.0"/>
<circle cx="590.2" cy="925.3" r="4.9" fill="none" stroke="#111" stroke-width="1.4"/>
<g transform="rotate(100 590.2 925.3)">
<line x1="590.2" y1="920.7" x2="590.2" y2="929.9" stroke="#111" stroke-width="0.9" />
<path d="M592.7 931.0999999999999 L595.4000000000001 932.5 M595.0 929.0999999999999 L597.2 930.9" fill="none" stroke="#111" stroke-width="1.0" stroke-linejoin="round" stroke-linecap="round" />
</g>
<circle cx="555.2" cy="960.3" r="10.3" fill="none" stroke="#111" stroke-width="1.7"/>
<circle cx="555.2" cy="960.3" r="8.0" fill="none" stroke="#111" stroke-width="1.0"/>
<circle cx="555.2" cy="960.3" r="4.9" fill="none" stroke="#111" stroke-width="1.4"/>
<g transform="rotate(20 555.2 960.3)">
<line x1="555.2" y1="955.7" x2="555.2" y2="964.9" stroke="#111" stroke-width="0.9" />
<path d="M557.7 966.0999999999999 L560.4000000000001 967.5 M560.0 964.0999999999999 L562.2 965.9" fill="none" stroke="#111" stroke-width="1.0" stroke-linejoin="round" stroke-linecap="round" />
</g>
<line x1="555.2" y1="905.3" x2="555.2" y2="910.3" stroke="#111" stroke-width="1.0" />
<line x1="555.2" y1="940.3" x2="555.2" y2="945.3" stroke="#111" stroke-width="1.0" />
<line x1="570.2" y1="925.3" x2="575.2" y2="925.3" stroke="#111" stroke-width="1.0" />
<line x1="535.2" y1="925.3" x2="540.2" y2="925.3" stroke="#111" stroke-width="1.0" />
<rect x="337.8" y="872.7" width="102.7" height="104.8" rx="0" fill="#fff" stroke="none" stroke-width="0" />
<line x1="337.8" y1="872.7" x2="440.5" y2="872.7" stroke="#111" stroke-width="1.1" />
<line x1="337.8" y1="977.5" x2="440.5" y2="977.5" stroke="#111" stroke-width="1.1" />
<rect x="337.9" y="887.5" width="2.7" height="75.2" rx="0" fill="#d6d6d6" stroke="none" stroke-width="0" />
<rect x="344.2" y="887.5" width="2.7" height="75.2" rx="0" fill="#d6d6d6" stroke="none" stroke-width="0" />
<line x1="340.6" y1="888.5" x2="340.6" y2="961.7" stroke="#444" stroke-width="0.9" />
<line x1="344.2" y1="888.5" x2="344.2" y2="961.7" stroke="#444" stroke-width="0.9" />
<line x1="339.2" y1="887.5" x2="339.2" y2="962.7" stroke="#777" stroke-width="0.6" />
<line x1="345.6" y1="887.5" x2="345.6" y2="962.7" stroke="#777" stroke-width="0.6" />
<path d="M338.65000000000003 872.7 V883.0 Q338.65000000000003 887.0 341.85 887.0 H342.95 Q346.15 887.0 346.15 883.0 V872.7" fill="none" stroke="#111" stroke-width="1.0" stroke-linejoin="round" stroke-linecap="round" />
<path d="M340.45000000000005 872.7 V882.5 Q340.45000000000005 884.9 342.45000000000005 884.9 H342.34999999999997 Q344.34999999999997 884.9 344.34999999999997 882.5 V872.7" fill="none" stroke="#555" stroke-width="0.7" stroke-linejoin="round" stroke-linecap="round" />
<path d="M338.65000000000003 977.5 V967.2 Q338.65000000000003 963.2 341.85 963.2 H342.95 Q346.15 963.2 346.15 967.2 V977.5" fill="none" stroke="#111" stroke-width="1.0" stroke-linejoin="round" stroke-linecap="round" />
<path d="M340.45000000000005 977.5 V967.7 Q340.45000000000005 965.3000000000001 342.45000000000005 965.3000000000001 H342.34999999999997 Q344.34999999999997 965.3000000000001 344.34999999999997 967.7 V977.5" fill="none" stroke="#555" stroke-width="0.7" stroke-linejoin="round" stroke-linecap="round" />
<path d="M337.85 888.7 Q342.4 886.5 346.95 888.7 M337.85 961.5 Q342.4 963.7 346.95 961.5" fill="none" stroke="#111" stroke-width="0.8" stroke-linejoin="round" stroke-linecap="round" />
<rect x="351.7" y="887.5" width="2.7" height="75.2" rx="0" fill="#d6d6d6" stroke="none" stroke-width="0" />
<rect x="357.9" y="887.5" width="2.7" height="75.2" rx="0" fill="#d6d6d6" stroke="none" stroke-width="0" />
<line x1="354.4" y1="888.5" x2="354.4" y2="961.7" stroke="#444" stroke-width="0.9" />
<line x1="357.9" y1="888.5" x2="357.9" y2="961.7" stroke="#444" stroke-width="0.9" />
<line x1="353.0" y1="887.5" x2="353.0" y2="962.7" stroke="#777" stroke-width="0.6" />
<line x1="359.3" y1="887.5" x2="359.3" y2="962.7" stroke="#777" stroke-width="0.6" />
<path d="M352.45000000000005 872.7 V883.0 Q352.45000000000005 887.0 355.65000000000003 887.0 H356.65 Q359.84999999999997 887.0 359.84999999999997 883.0 V872.7" fill="none" stroke="#111" stroke-width="1.0" stroke-linejoin="round" stroke-linecap="round" />
<path d="M354.25000000000006 872.7 V882.5 Q354.25000000000006 884.9 356.25000000000006 884.9 H356.04999999999995 Q358.04999999999995 884.9 358.04999999999995 882.5 V872.7" fill="none" stroke="#555" stroke-width="0.7" stroke-linejoin="round" stroke-linecap="round" />
<path d="M352.45000000000005 977.5 V967.2 Q352.45000000000005 963.2 355.65000000000003 963.2 H356.65 Q359.84999999999997 963.2 359.84999999999997 967.2 V977.5" fill="none" stroke="#111" stroke-width="1.0" stroke-linejoin="round" stroke-linecap="round" />
<path d="M354.25000000000006 977.5 V967.7 Q354.25000000000006 965.3000000000001 356.25000000000006 965.3000000000001 H356.04999999999995 Q358.04999999999995 965.3000000000001 358.04999999999995 967.7 V977.5" fill="none" stroke="#555" stroke-width="0.7" stroke-linejoin="round" stroke-linecap="round" />
<path d="M351.65000000000003 888.7 Q356.15 886.5 360.65 888.7 M351.65000000000003 961.5 Q356.15 963.7 360.65 961.5" fill="none" stroke="#111" stroke-width="0.8" stroke-linejoin="round" stroke-linecap="round" />
<rect x="365.4" y="887.5" width="2.7" height="75.2" rx="0" fill="#d6d6d6" stroke="none" stroke-width="0" />
<rect x="371.9" y="887.5" width="2.7" height="75.2" rx="0" fill="#d6d6d6" stroke="none" stroke-width="0" />
<line x1="368.1" y1="888.5" x2="368.1" y2="961.7" stroke="#444" stroke-width="0.9" />
<line x1="371.9" y1="888.5" x2="371.9" y2="961.7" stroke="#444" stroke-width="0.9" />
<line x1="366.7" y1="887.5" x2="366.7" y2="962.7" stroke="#777" stroke-width="0.6" />
<line x1="373.3" y1="887.5" x2="373.3" y2="962.7" stroke="#777" stroke-width="0.6" />
<path d="M366.15000000000003 872.7 V883.0 Q366.15000000000003 887.0 369.35 887.0 H370.65 Q373.84999999999997 887.0 373.84999999999997 883.0 V872.7" fill="none" stroke="#111" stroke-width="1.0" stroke-linejoin="round" stroke-linecap="round" />
<path d="M367.95000000000005 872.7 V882.5 Q367.95000000000005 884.9 369.95000000000005 884.9 H370.04999999999995 Q372.04999999999995 884.9 372.04999999999995 882.5 V872.7" fill="none" stroke="#555" stroke-width="0.7" stroke-linejoin="round" stroke-linecap="round" />
<path d="M366.15000000000003 977.5 V967.2 Q366.15000000000003 963.2 369.35 963.2 H370.65 Q373.84999999999997 963.2 373.84999999999997 967.2 V977.5" fill="none" stroke="#111" stroke-width="1.0" stroke-linejoin="round" stroke-linecap="round" />
<path d="M367.95000000000005 977.5 V967.7 Q367.95000000000005 965.3000000000001 369.95000000000005 965.3000000000001 H370.04999999999995 Q372.04999999999995 965.3000000000001 372.04999999999995 967.7 V977.5" fill="none" stroke="#555" stroke-width="0.7" stroke-linejoin="round" stroke-linecap="round" />
<path d="M365.35 888.7 Q370.0 886.5 374.65 888.7 M365.35 961.5 Q370.0 963.7 374.65 961.5" fill="none" stroke="#111" stroke-width="0.8" stroke-linejoin="round" stroke-linecap="round" />
<rect x="379.4" y="887.5" width="2.7" height="75.2" rx="0" fill="#d6d6d6" stroke="none" stroke-width="0" />
<rect x="385.9" y="887.5" width="2.7" height="75.2" rx="0" fill="#d6d6d6" stroke="none" stroke-width="0" />
<line x1="382.1" y1="888.5" x2="382.1" y2="961.7" stroke="#444" stroke-width="0.9" />
<line x1="385.9" y1="888.5" x2="385.9" y2="961.7" stroke="#444" stroke-width="0.9" />
<line x1="380.7" y1="887.5" x2="380.7" y2="962.7" stroke="#777" stroke-width="0.6" />
<line x1="387.3" y1="887.5" x2="387.3" y2="962.7" stroke="#777" stroke-width="0.6" />
<path d="M380.15000000000003 872.7 V883.0 Q380.15000000000003 887.0 383.35 887.0 H384.65 Q387.84999999999997 887.0 387.84999999999997 883.0 V872.7" fill="none" stroke="#111" stroke-width="1.0" stroke-linejoin="round" stroke-linecap="round" />
<path d="M381.95000000000005 872.7 V882.5 Q381.95000000000005 884.9 383.95000000000005 884.9 H384.04999999999995 Q386.04999999999995 884.9 386.04999999999995 882.5 V872.7" fill="none" stroke="#555" stroke-width="0.7" stroke-linejoin="round" stroke-linecap="round" />
<path d="M380.15000000000003 977.5 V967.2 Q380.15000000000003 963.2 383.35 963.2 H384.65 Q387.84999999999997 963.2 387.84999999999997 967.2 V977.5" fill="none" stroke="#111" stroke-width="1.0" stroke-linejoin="round" stroke-linecap="round" />
<path d="M381.95000000000005 977.5 V967.7 Q381.95000000000005 965.3000000000001 383.95000000000005 965.3000000000001 H384.04999999999995 Q386.04999999999995 965.3000000000001 386.04999999999995 967.7 V977.5" fill="none" stroke="#555" stroke-width="0.7" stroke-linejoin="round" stroke-linecap="round" />
<path d="M379.35 888.7 Q384.0 886.5 388.65 888.7 M379.35 961.5 Q384.0 963.7 388.65 961.5" fill="none" stroke="#111" stroke-width="0.8" stroke-linejoin="round" stroke-linecap="round" />
<rect x="393.4" y="887.5" width="2.7" height="75.2" rx="0" fill="#d6d6d6" stroke="none" stroke-width="0" />
<rect x="399.9" y="887.5" width="2.7" height="75.2" rx="0" fill="#d6d6d6" stroke="none" stroke-width="0" />
<line x1="396.1" y1="888.5" x2="396.1" y2="961.7" stroke="#444" stroke-width="0.9" />
<line x1="399.9" y1="888.5" x2="399.9" y2="961.7" stroke="#444" stroke-width="0.9" />
<line x1="394.7" y1="887.5" x2="394.7" y2="962.7" stroke="#777" stroke-width="0.6" />
<line x1="401.3" y1="887.5" x2="401.3" y2="962.7" stroke="#777" stroke-width="0.6" />
<path d="M394.15000000000003 872.7 V883.0 Q394.15000000000003 887.0 397.35 887.0 H398.65 Q401.84999999999997 887.0 401.84999999999997 883.0 V872.7" fill="none" stroke="#111" stroke-width="1.0" stroke-linejoin="round" stroke-linecap="round" />
<path d="M395.95000000000005 872.7 V882.5 Q395.95000000000005 884.9 397.95000000000005 884.9 H398.04999999999995 Q400.04999999999995 884.9 400.04999999999995 882.5 V872.7" fill="none" stroke="#555" stroke-width="0.7" stroke-linejoin="round" stroke-linecap="round" />
<path d="M394.15000000000003 977.5 V967.2 Q394.15000000000003 963.2 397.35 963.2 H398.65 Q401.84999999999997 963.2 401.84999999999997 967.2 V977.5" fill="none" stroke="#111" stroke-width="1.0" stroke-linejoin="round" stroke-linecap="round" />
<path d="M395.95000000000005 977.5 V967.7 Q395.95000000000005 965.3000000000001 397.95000000000005 965.3000000000001 H398.04999999999995 Q400.04999999999995 965.3000000000001 400.04999999999995 967.7 V977.5" fill="none" stroke="#555" stroke-width="0.7" stroke-linejoin="round" stroke-linecap="round" />
<path d="M393.35 888.7 Q398.0 886.5 402.65 888.7 M393.35 961.5 Q398.0 963.7 402.65 961.5" fill="none" stroke="#111" stroke-width="0.8" stroke-linejoin="round" stroke-linecap="round" />
<rect x="407.4" y="887.5" width="2.7" height="75.2" rx="0" fill="#d6d6d6" stroke="none" stroke-width="0" />
<rect x="413.9" y="887.5" width="2.7" height="75.2" rx="0" fill="#d6d6d6" stroke="none" stroke-width="0" />
<line x1="410.1" y1="888.5" x2="410.1" y2="961.7" stroke="#444" stroke-width="0.9" />
<line x1="413.9" y1="888.5" x2="413.9" y2="961.7" stroke="#444" stroke-width="0.9" />
<line x1="408.7" y1="887.5" x2="408.7" y2="962.7" stroke="#777" stroke-width="0.6" />
<line x1="415.3" y1="887.5" x2="415.3" y2="962.7" stroke="#777" stroke-width="0.6" />
<path d="M408.15000000000003 872.7 V883.0 Q408.15000000000003 887.0 411.35 887.0 H412.65 Q415.84999999999997 887.0 415.84999999999997 883.0 V872.7" fill="none" stroke="#111" stroke-width="1.0" stroke-linejoin="round" stroke-linecap="round" />
<path d="M409.95000000000005 872.7 V882.5 Q409.95000000000005 884.9 411.95000000000005 884.9 H412.04999999999995 Q414.04999999999995 884.9 414.04999999999995 882.5 V872.7" fill="none" stroke="#555" stroke-width="0.7" stroke-linejoin="round" stroke-linecap="round" />
<path d="M408.15000000000003 977.5 V967.2 Q408.15000000000003 963.2 411.35 963.2 H412.65 Q415.84999999999997 963.2 415.84999999999997 967.2 V977.5" fill="none" stroke="#111" stroke-width="1.0" stroke-linejoin="round" stroke-linecap="round" />
<path d="M409.95000000000005 977.5 V967.7 Q409.95000000000005 965.3000000000001 411.95000000000005 965.3000000000001 H412.04999999999995 Q414.04999999999995 965.3000000000001 414.04999999999995 967.7 V977.5" fill="none" stroke="#555" stroke-width="0.7" stroke-linejoin="round" stroke-linecap="round" />
<path d="M407.35 888.7 Q412.0 886.5 416.65 888.7 M407.35 961.5 Q412.0 963.7 416.65 961.5" fill="none" stroke="#111" stroke-width="0.8" stroke-linejoin="round" stroke-linecap="round" />
<rect x="421.4" y="887.5" width="2.7" height="75.2" rx="0" fill="#d6d6d6" stroke="none" stroke-width="0" />
<rect x="427.9" y="887.5" width="2.7" height="75.2" rx="0" fill="#d6d6d6" stroke="none" stroke-width="0" />
<line x1="424.1" y1="888.5" x2="424.1" y2="961.7" stroke="#444" stroke-width="0.9" />
<line x1="427.9" y1="888.5" x2="427.9" y2="961.7" stroke="#444" stroke-width="0.9" />
<line x1="422.7" y1="887.5" x2="422.7" y2="962.7" stroke="#777" stroke-width="0.6" />
<line x1="429.3" y1="887.5" x2="429.3" y2="962.7" stroke="#777" stroke-width="0.6" />
<path d="M422.15000000000003 872.7 V883.0 Q422.15000000000003 887.0 425.35 887.0 H426.65 Q429.84999999999997 887.0 429.84999999999997 883.0 V872.7" fill="none" stroke="#111" stroke-width="1.0" stroke-linejoin="round" stroke-linecap="round" />
<path d="M423.95000000000005 872.7 V882.5 Q423.95000000000005 884.9 425.95000000000005 884.9 H426.04999999999995 Q428.04999999999995 884.9 428.04999999999995 882.5 V872.7" fill="none" stroke="#555" stroke-width="0.7" stroke-linejoin="round" stroke-linecap="round" />
<path d="M422.15000000000003 977.5 V967.2 Q422.15000000000003 963.2 425.35 963.2 H426.65 Q429.84999999999997 963.2 429.84999999999997 967.2 V977.5" fill="none" stroke="#111" stroke-width="1.0" stroke-linejoin="round" stroke-linecap="round" />
<path d="M423.95000000000005 977.5 V967.7 Q423.95000000000005 965.3000000000001 425.95000000000005 965.3000000000001 H426.04999999999995 Q428.04999999999995 965.3000000000001 428.04999999999995 967.7 V977.5" fill="none" stroke="#555" stroke-width="0.7" stroke-linejoin="round" stroke-linecap="round" />
<path d="M421.35 888.7 Q426.0 886.5 430.65 888.7 M421.35 961.5 Q426.0 963.7 430.65 961.5" fill="none" stroke="#111" stroke-width="0.8" stroke-linejoin="round" stroke-linecap="round" />
<rect x="669.6" y="872.7" width="103.6" height="104.8" rx="0" fill="#fff" stroke="none" stroke-width="0" />
<line x1="669.6" y1="872.7" x2="773.2" y2="872.7" stroke="#111" stroke-width="1.1" />
<line x1="669.6" y1="977.5" x2="773.2" y2="977.5" stroke="#111" stroke-width="1.1" />
<rect x="679.2" y="887.5" width="2.7" height="75.2" rx="0" fill="#d6d6d6" stroke="none" stroke-width="0" />
<rect x="686.0" y="887.5" width="2.7" height="75.2" rx="0" fill="#d6d6d6" stroke="none" stroke-width="0" />
<line x1="682.0" y1="888.5" x2="682.0" y2="961.7" stroke="#444" stroke-width="0.9" />
<line x1="686.0" y1="888.5" x2="686.0" y2="961.7" stroke="#444" stroke-width="0.9" />
<line x1="680.5" y1="887.5" x2="680.5" y2="962.7" stroke="#777" stroke-width="0.6" />
<line x1="687.5" y1="887.5" x2="687.5" y2="962.7" stroke="#777" stroke-width="0.6" />
<path d="M680.05 872.7 V883.0 Q680.05 887.0 683.25 887.0 H684.75 Q687.95 887.0 687.95 883.0 V872.7" fill="none" stroke="#111" stroke-width="1.0" stroke-linejoin="round" stroke-linecap="round" />
<path d="M681.85 872.7 V882.5 Q681.85 884.9 683.85 884.9 H684.15 Q686.15 884.9 686.15 882.5 V872.7" fill="none" stroke="#555" stroke-width="0.7" stroke-linejoin="round" stroke-linecap="round" />
<path d="M680.05 977.5 V967.2 Q680.05 963.2 683.25 963.2 H684.75 Q687.95 963.2 687.95 967.2 V977.5" fill="none" stroke="#111" stroke-width="1.0" stroke-linejoin="round" stroke-linecap="round" />
<path d="M681.85 977.5 V967.7 Q681.85 965.3000000000001 683.85 965.3000000000001 H684.15 Q686.15 965.3000000000001 686.15 967.7 V977.5" fill="none" stroke="#555" stroke-width="0.7" stroke-linejoin="round" stroke-linecap="round" />
<path d="M679.25 888.7 Q684.0 886.5 688.75 888.7 M679.25 961.5 Q684.0 963.7 688.75 961.5" fill="none" stroke="#111" stroke-width="0.8" stroke-linejoin="round" stroke-linecap="round" />
<rect x="693.5" y="887.5" width="2.7" height="75.2" rx="0" fill="#d6d6d6" stroke="none" stroke-width="0" />
<rect x="700.2" y="887.5" width="2.7" height="75.2" rx="0" fill="#d6d6d6" stroke="none" stroke-width="0" />
<line x1="696.2" y1="888.5" x2="696.2" y2="961.7" stroke="#444" stroke-width="0.9" />
<line x1="700.2" y1="888.5" x2="700.2" y2="961.7" stroke="#444" stroke-width="0.9" />
<line x1="694.8" y1="887.5" x2="694.8" y2="962.7" stroke="#777" stroke-width="0.6" />
<line x1="701.6" y1="887.5" x2="701.6" y2="962.7" stroke="#777" stroke-width="0.6" />
<path d="M694.25 872.7 V883.0 Q694.25 887.0 697.45 887.0 H698.9499999999999 Q702.15 887.0 702.15 883.0 V872.7" fill="none" stroke="#111" stroke-width="1.0" stroke-linejoin="round" stroke-linecap="round" />
<path d="M696.0500000000001 872.7 V882.5 Q696.0500000000001 884.9 698.0500000000001 884.9 H698.3499999999999 Q700.3499999999999 884.9 700.3499999999999 882.5 V872.7" fill="none" stroke="#555" stroke-width="0.7" stroke-linejoin="round" stroke-linecap="round" />
<path d="M694.25 977.5 V967.2 Q694.25 963.2 697.45 963.2 H698.9499999999999 Q702.15 963.2 702.15 967.2 V977.5" fill="none" stroke="#111" stroke-width="1.0" stroke-linejoin="round" stroke-linecap="round" />
<path d="M696.0500000000001 977.5 V967.7 Q696.0500000000001 965.3000000000001 698.0500000000001 965.3000000000001 H698.3499999999999 Q700.3499999999999 965.3000000000001 700.3499999999999 967.7 V977.5" fill="none" stroke="#555" stroke-width="0.7" stroke-linejoin="round" stroke-linecap="round" />
<path d="M693.45 888.7 Q698.2 886.5 702.9499999999999 888.7 M693.45 961.5 Q698.2 963.7 702.9499999999999 961.5" fill="none" stroke="#111" stroke-width="0.8" stroke-linejoin="round" stroke-linecap="round" />
<rect x="707.6" y="887.5" width="2.7" height="75.2" rx="0" fill="#d6d6d6" stroke="none" stroke-width="0" />
<rect x="713.9" y="887.5" width="2.7" height="75.2" rx="0" fill="#d6d6d6" stroke="none" stroke-width="0" />
<line x1="710.4" y1="888.5" x2="710.4" y2="961.7" stroke="#444" stroke-width="0.9" />
<line x1="713.9" y1="888.5" x2="713.9" y2="961.7" stroke="#444" stroke-width="0.9" />
<line x1="708.9" y1="887.5" x2="708.9" y2="962.7" stroke="#777" stroke-width="0.6" />
<line x1="715.4" y1="887.5" x2="715.4" y2="962.7" stroke="#777" stroke-width="0.6" />
<path d="M708.4499999999999 872.7 V883.0 Q708.4499999999999 887.0 711.65 887.0 H712.65 Q715.85 887.0 715.85 883.0 V872.7" fill="none" stroke="#111" stroke-width="1.0" stroke-linejoin="round" stroke-linecap="round" />
<path d="M710.25 872.7 V882.5 Q710.25 884.9 712.25 884.9 H712.05 Q714.05 884.9 714.05 882.5 V872.7" fill="none" stroke="#555" stroke-width="0.7" stroke-linejoin="round" stroke-linecap="round" />
<path d="M708.4499999999999 977.5 V967.2 Q708.4499999999999 963.2 711.65 963.2 H712.65 Q715.85 963.2 715.85 967.2 V977.5" fill="none" stroke="#111" stroke-width="1.0" stroke-linejoin="round" stroke-linecap="round" />
<path d="M710.25 977.5 V967.7 Q710.25 965.3000000000001 712.25 965.3000000000001 H712.05 Q714.05 965.3000000000001 714.05 967.7 V977.5" fill="none" stroke="#555" stroke-width="0.7" stroke-linejoin="round" stroke-linecap="round" />
<path d="M707.65 888.7 Q712.15 886.5 716.65 888.7 M707.65 961.5 Q712.15 963.7 716.65 961.5" fill="none" stroke="#111" stroke-width="0.8" stroke-linejoin="round" stroke-linecap="round" />
<rect x="721.4" y="887.5" width="2.7" height="75.2" rx="0" fill="#d6d6d6" stroke="none" stroke-width="0" />
<rect x="728.1" y="887.5" width="2.7" height="75.2" rx="0" fill="#d6d6d6" stroke="none" stroke-width="0" />
<line x1="724.1" y1="888.5" x2="724.1" y2="961.7" stroke="#444" stroke-width="0.9" />
<line x1="728.1" y1="888.5" x2="728.1" y2="961.7" stroke="#444" stroke-width="0.9" />
<line x1="722.6" y1="887.5" x2="722.6" y2="962.7" stroke="#777" stroke-width="0.6" />
<line x1="729.6" y1="887.5" x2="729.6" y2="962.7" stroke="#777" stroke-width="0.6" />
<path d="M722.15 872.7 V883.0 Q722.15 887.0 725.35 887.0 H726.85 Q730.0500000000001 887.0 730.0500000000001 883.0 V872.7" fill="none" stroke="#111" stroke-width="1.0" stroke-linejoin="round" stroke-linecap="round" />
<path d="M723.95 872.7 V882.5 Q723.95 884.9 725.95 884.9 H726.25 Q728.25 884.9 728.25 882.5 V872.7" fill="none" stroke="#555" stroke-width="0.7" stroke-linejoin="round" stroke-linecap="round" />
<path d="M722.15 977.5 V967.2 Q722.15 963.2 725.35 963.2 H726.85 Q730.0500000000001 963.2 730.0500000000001 967.2 V977.5" fill="none" stroke="#111" stroke-width="1.0" stroke-linejoin="round" stroke-linecap="round" />
<path d="M723.95 977.5 V967.7 Q723.95 965.3000000000001 725.95 965.3000000000001 H726.25 Q728.25 965.3000000000001 728.25 967.7 V977.5" fill="none" stroke="#555" stroke-width="0.7" stroke-linejoin="round" stroke-linecap="round" />
<path d="M721.35 888.7 Q726.1 886.5 730.85 888.7 M721.35 961.5 Q726.1 963.7 730.85 961.5" fill="none" stroke="#111" stroke-width="0.8" stroke-linejoin="round" stroke-linecap="round" />
<rect x="735.6" y="887.5" width="2.7" height="75.2" rx="0" fill="#d6d6d6" stroke="none" stroke-width="0" />
<rect x="742.1" y="887.5" width="2.7" height="75.2" rx="0" fill="#d6d6d6" stroke="none" stroke-width="0" />
<line x1="738.3" y1="888.5" x2="738.3" y2="961.7" stroke="#444" stroke-width="0.9" />
<line x1="742.1" y1="888.5" x2="742.1" y2="961.7" stroke="#444" stroke-width="0.9" />
<line x1="736.9" y1="887.5" x2="736.9" y2="962.7" stroke="#777" stroke-width="0.6" />
<line x1="743.6" y1="887.5" x2="743.6" y2="962.7" stroke="#777" stroke-width="0.6" />
<path d="M736.35 872.7 V883.0 Q736.35 887.0 739.5500000000001 887.0 H740.85 Q744.0500000000001 887.0 744.0500000000001 883.0 V872.7" fill="none" stroke="#111" stroke-width="1.0" stroke-linejoin="round" stroke-linecap="round" />
<path d="M738.1500000000001 872.7 V882.5 Q738.1500000000001 884.9 740.1500000000001 884.9 H740.25 Q742.25 884.9 742.25 882.5 V872.7" fill="none" stroke="#555" stroke-width="0.7" stroke-linejoin="round" stroke-linecap="round" />
<path d="M736.35 977.5 V967.2 Q736.35 963.2 739.5500000000001 963.2 H740.85 Q744.0500000000001 963.2 744.0500000000001 967.2 V977.5" fill="none" stroke="#111" stroke-width="1.0" stroke-linejoin="round" stroke-linecap="round" />
<path d="M738.1500000000001 977.5 V967.7 Q738.1500000000001 965.3000000000001 740.1500000000001 965.3000000000001 H740.25 Q742.25 965.3000000000001 742.25 967.7 V977.5" fill="none" stroke="#555" stroke-width="0.7" stroke-linejoin="round" stroke-linecap="round" />
<path d="M735.5500000000001 888.7 Q740.2 886.5 744.85 888.7 M735.5500000000001 961.5 Q740.2 963.7 744.85 961.5" fill="none" stroke="#111" stroke-width="0.8" stroke-linejoin="round" stroke-linecap="round" />
<rect x="749.6" y="887.5" width="2.7" height="75.2" rx="0" fill="#d6d6d6" stroke="none" stroke-width="0" />
<rect x="755.8" y="887.5" width="2.7" height="75.2" rx="0" fill="#d6d6d6" stroke="none" stroke-width="0" />
<line x1="752.3" y1="888.5" x2="752.3" y2="961.7" stroke="#444" stroke-width="0.9" />
<line x1="755.8" y1="888.5" x2="755.8" y2="961.7" stroke="#444" stroke-width="0.9" />
<line x1="750.9" y1="887.5" x2="750.9" y2="962.7" stroke="#777" stroke-width="0.6" />
<line x1="757.2" y1="887.5" x2="757.2" y2="962.7" stroke="#777" stroke-width="0.6" />
<path d="M750.35 872.7 V883.0 Q750.35 887.0 753.5500000000001 887.0 H754.55 Q757.75 887.0 757.75 883.0 V872.7" fill="none" stroke="#111" stroke-width="1.0" stroke-linejoin="round" stroke-linecap="round" />
<path d="M752.1500000000001 872.7 V882.5 Q752.1500000000001 884.9 754.1500000000001 884.9 H753.9499999999999 Q755.9499999999999 884.9 755.9499999999999 882.5 V872.7" fill="none" stroke="#555" stroke-width="0.7" stroke-linejoin="round" stroke-linecap="round" />
<path d="M750.35 977.5 V967.2 Q750.35 963.2 753.5500000000001 963.2 H754.55 Q757.75 963.2 757.75 967.2 V977.5" fill="none" stroke="#111" stroke-width="1.0" stroke-linejoin="round" stroke-linecap="round" />
<path d="M752.1500000000001 977.5 V967.7 Q752.1500000000001 965.3000000000001 754.1500000000001 965.3000000000001 H753.9499999999999 Q755.9499999999999 965.3000000000001 755.9499999999999 967.7 V977.5" fill="none" stroke="#555" stroke-width="0.7" stroke-linejoin="round" stroke-linecap="round" />
<path d="M749.5500000000001 888.7 Q754.05 886.5 758.55 888.7 M749.5500000000001 961.5 Q754.05 963.7 758.55 961.5" fill="none" stroke="#111" stroke-width="0.8" stroke-linejoin="round" stroke-linecap="round" />
<rect x="763.2" y="887.5" width="2.7" height="75.2" rx="0" fill="#d6d6d6" stroke="none" stroke-width="0" />
<rect x="770.4" y="887.5" width="2.7" height="75.2" rx="0" fill="#d6d6d6" stroke="none" stroke-width="0" />
<line x1="766.0" y1="888.5" x2="766.0" y2="961.7" stroke="#444" stroke-width="0.9" />
<line x1="770.4" y1="888.5" x2="770.4" y2="961.7" stroke="#444" stroke-width="0.9" />
<line x1="764.5" y1="887.5" x2="764.5" y2="962.7" stroke="#777" stroke-width="0.6" />
<line x1="771.9" y1="887.5" x2="771.9" y2="962.7" stroke="#777" stroke-width="0.6" />
<path d="M764.05 872.7 V883.0 Q764.05 887.0 767.25 887.0 H769.15 Q772.35 887.0 772.35 883.0 V872.7" fill="none" stroke="#111" stroke-width="1.0" stroke-linejoin="round" stroke-linecap="round" />
<path d="M765.85 872.7 V882.5 Q765.85 884.9 767.85 884.9 H768.55 Q770.55 884.9 770.55 882.5 V872.7" fill="none" stroke="#555" stroke-width="0.7" stroke-linejoin="round" stroke-linecap="round" />
<path d="M764.05 977.5 V967.2 Q764.05 963.2 767.25 963.2 H769.15 Q772.35 963.2 772.35 967.2 V977.5" fill="none" stroke="#111" stroke-width="1.0" stroke-linejoin="round" stroke-linecap="round" />
<path d="M765.85 977.5 V967.7 Q765.85 965.3000000000001 767.85 965.3000000000001 H768.55 Q770.55 965.3000000000001 770.55 967.7 V977.5" fill="none" stroke="#555" stroke-width="0.7" stroke-linejoin="round" stroke-linecap="round" />
<path d="M763.25 888.7 Q768.2 886.5 773.15 888.7 M763.25 961.5 Q768.2 963.7 773.15 961.5" fill="none" stroke="#111" stroke-width="0.8" stroke-linejoin="round" stroke-linecap="round" />
<rect x="333.1" y="846.2" width="4.7" height="157.5" rx="2.2" fill="#808080" stroke="#111" stroke-width="1.15" />
<line x1="335.5" y1="850.2" x2="335.5" y2="999.7" stroke="#5a5a5a" stroke-width="0.8" />
<line x1="333.9" y1="906.0" x2="337.1" y2="906.0" stroke="#222" stroke-width="1.0" />
<line x1="333.9" y1="940.0" x2="337.1" y2="940.0" stroke="#222" stroke-width="1.0" />
<line x1="333.9" y1="855.2" x2="337.1" y2="855.2" stroke="#333" stroke-width="0.8" />
<line x1="333.9" y1="857.7" x2="337.1" y2="857.7" stroke="#333" stroke-width="0.8" />
<line x1="333.9" y1="994.7" x2="337.1" y2="994.7" stroke="#333" stroke-width="0.8" />
<line x1="333.9" y1="992.2" x2="337.1" y2="992.2" stroke="#333" stroke-width="0.8" />
<rect x="346.9" y="846.2" width="4.7" height="157.5" rx="2.2" fill="#808080" stroke="#111" stroke-width="1.15" />
<line x1="349.3" y1="850.2" x2="349.3" y2="999.7" stroke="#5a5a5a" stroke-width="0.8" />
<line x1="347.7" y1="906.0" x2="350.9" y2="906.0" stroke="#222" stroke-width="1.0" />
<line x1="347.7" y1="940.0" x2="350.9" y2="940.0" stroke="#222" stroke-width="1.0" />
<line x1="347.7" y1="855.2" x2="350.9" y2="855.2" stroke="#333" stroke-width="0.8" />
<line x1="347.7" y1="857.7" x2="350.9" y2="857.7" stroke="#333" stroke-width="0.8" />
<line x1="347.7" y1="994.7" x2="350.9" y2="994.7" stroke="#333" stroke-width="0.8" />
<line x1="347.7" y1="992.2" x2="350.9" y2="992.2" stroke="#333" stroke-width="0.8" />
<rect x="360.6" y="848.5" width="4.7" height="153.5" rx="2.2" fill="#808080" stroke="#111" stroke-width="1.15" />
<line x1="363.0" y1="852.5" x2="363.0" y2="998.0" stroke="#5a5a5a" stroke-width="0.8" />
<line x1="361.4" y1="906.0" x2="364.6" y2="906.0" stroke="#222" stroke-width="1.0" />
<line x1="361.4" y1="940.0" x2="364.6" y2="940.0" stroke="#222" stroke-width="1.0" />
<line x1="361.4" y1="857.5" x2="364.6" y2="857.5" stroke="#333" stroke-width="0.8" />
<line x1="361.4" y1="860.0" x2="364.6" y2="860.0" stroke="#333" stroke-width="0.8" />
<line x1="361.4" y1="993.0" x2="364.6" y2="993.0" stroke="#333" stroke-width="0.8" />
<line x1="361.4" y1="990.5" x2="364.6" y2="990.5" stroke="#333" stroke-width="0.8" />
<rect x="374.6" y="848.5" width="4.7" height="153.5" rx="2.2" fill="#808080" stroke="#111" stroke-width="1.15" />
<line x1="377.0" y1="852.5" x2="377.0" y2="998.0" stroke="#5a5a5a" stroke-width="0.8" />
<line x1="375.4" y1="906.0" x2="378.6" y2="906.0" stroke="#222" stroke-width="1.0" />
<line x1="375.4" y1="940.0" x2="378.6" y2="940.0" stroke="#222" stroke-width="1.0" />
<line x1="375.4" y1="857.5" x2="378.6" y2="857.5" stroke="#333" stroke-width="0.8" />
<line x1="375.4" y1="860.0" x2="378.6" y2="860.0" stroke="#333" stroke-width="0.8" />
<line x1="375.4" y1="993.0" x2="378.6" y2="993.0" stroke="#333" stroke-width="0.8" />
<line x1="375.4" y1="990.5" x2="378.6" y2="990.5" stroke="#333" stroke-width="0.8" />
<rect x="388.6" y="863.0" width="4.7" height="137.0" rx="2.2" fill="#808080" stroke="#111" stroke-width="1.15" />
<line x1="391.0" y1="867.0" x2="391.0" y2="996.0" stroke="#5a5a5a" stroke-width="0.8" />
<line x1="389.4" y1="906.0" x2="392.6" y2="906.0" stroke="#222" stroke-width="1.0" />
<line x1="389.4" y1="940.0" x2="392.6" y2="940.0" stroke="#222" stroke-width="1.0" />
<line x1="389.4" y1="991.0" x2="392.6" y2="991.0" stroke="#333" stroke-width="0.8" />
<line x1="389.4" y1="988.5" x2="392.6" y2="988.5" stroke="#333" stroke-width="0.8" />
<rect x="402.6" y="863.0" width="4.7" height="137.0" rx="2.2" fill="#808080" stroke="#111" stroke-width="1.15" />
<line x1="405.0" y1="867.0" x2="405.0" y2="996.0" stroke="#5a5a5a" stroke-width="0.8" />
<line x1="403.4" y1="906.0" x2="406.6" y2="906.0" stroke="#222" stroke-width="1.0" />
<line x1="403.4" y1="940.0" x2="406.6" y2="940.0" stroke="#222" stroke-width="1.0" />
<line x1="403.4" y1="991.0" x2="406.6" y2="991.0" stroke="#333" stroke-width="0.8" />
<line x1="403.4" y1="988.5" x2="406.6" y2="988.5" stroke="#333" stroke-width="0.8" />
<rect x="416.6" y="860.7" width="4.7" height="137.3" rx="2.2" fill="#808080" stroke="#111" stroke-width="1.15" />
<line x1="419.0" y1="864.7" x2="419.0" y2="994.0" stroke="#5a5a5a" stroke-width="0.8" />
<line x1="417.4" y1="906.0" x2="420.6" y2="906.0" stroke="#222" stroke-width="1.0" />
<line x1="417.4" y1="940.0" x2="420.6" y2="940.0" stroke="#222" stroke-width="1.0" />
<line x1="417.4" y1="869.7" x2="420.6" y2="869.7" stroke="#333" stroke-width="0.8" />
<line x1="417.4" y1="989.0" x2="420.6" y2="989.0" stroke="#333" stroke-width="0.8" />
<line x1="417.4" y1="986.5" x2="420.6" y2="986.5" stroke="#333" stroke-width="0.8" />
<rect x="430.6" y="852.0" width="4.7" height="144.8" rx="2.2" fill="#808080" stroke="#111" stroke-width="1.15" />
<line x1="433.0" y1="856.0" x2="433.0" y2="992.8" stroke="#5a5a5a" stroke-width="0.8" />
<line x1="431.4" y1="906.0" x2="434.6" y2="906.0" stroke="#222" stroke-width="1.0" />
<line x1="431.4" y1="940.0" x2="434.6" y2="940.0" stroke="#222" stroke-width="1.0" />
<line x1="431.4" y1="861.0" x2="434.6" y2="861.0" stroke="#333" stroke-width="0.8" />
<line x1="431.4" y1="863.5" x2="434.6" y2="863.5" stroke="#333" stroke-width="0.8" />
<line x1="431.4" y1="987.8" x2="434.6" y2="987.8" stroke="#333" stroke-width="0.8" />
<line x1="431.4" y1="985.3" x2="434.6" y2="985.3" stroke="#333" stroke-width="0.8" />
<rect x="674.5" y="852.7" width="4.7" height="145.1" rx="2.2" fill="#808080" stroke="#111" stroke-width="1.15" />
<line x1="676.9" y1="856.7" x2="676.9" y2="993.8" stroke="#5a5a5a" stroke-width="0.8" />
<line x1="675.3" y1="906.0" x2="678.5" y2="906.0" stroke="#222" stroke-width="1.0" />
<line x1="675.3" y1="940.0" x2="678.5" y2="940.0" stroke="#222" stroke-width="1.0" />
<line x1="675.3" y1="861.7" x2="678.5" y2="861.7" stroke="#333" stroke-width="0.8" />
<line x1="675.3" y1="864.2" x2="678.5" y2="864.2" stroke="#333" stroke-width="0.8" />
<line x1="675.3" y1="988.8" x2="678.5" y2="988.8" stroke="#333" stroke-width="0.8" />
<line x1="675.3" y1="986.3" x2="678.5" y2="986.3" stroke="#333" stroke-width="0.8" />
<rect x="688.8" y="860.4" width="4.7" height="137.4" rx="2.2" fill="#808080" stroke="#111" stroke-width="1.15" />
<line x1="691.1" y1="864.4" x2="691.1" y2="993.8" stroke="#5a5a5a" stroke-width="0.8" />
<line x1="689.5" y1="906.0" x2="692.7" y2="906.0" stroke="#222" stroke-width="1.0" />
<line x1="689.5" y1="940.0" x2="692.7" y2="940.0" stroke="#222" stroke-width="1.0" />
<line x1="689.5" y1="869.4" x2="692.7" y2="869.4" stroke="#333" stroke-width="0.8" />
<line x1="689.5" y1="988.8" x2="692.7" y2="988.8" stroke="#333" stroke-width="0.8" />
<line x1="689.5" y1="986.3" x2="692.7" y2="986.3" stroke="#333" stroke-width="0.8" />
<rect x="702.9" y="862.5" width="4.7" height="137.5" rx="2.2" fill="#808080" stroke="#111" stroke-width="1.15" />
<line x1="705.3" y1="866.5" x2="705.3" y2="996.0" stroke="#5a5a5a" stroke-width="0.8" />
<line x1="703.7" y1="906.0" x2="706.9" y2="906.0" stroke="#222" stroke-width="1.0" />
<line x1="703.7" y1="940.0" x2="706.9" y2="940.0" stroke="#222" stroke-width="1.0" />
<line x1="703.7" y1="991.0" x2="706.9" y2="991.0" stroke="#333" stroke-width="0.8" />
<line x1="703.7" y1="988.5" x2="706.9" y2="988.5" stroke="#333" stroke-width="0.8" />
<rect x="716.6" y="851.6" width="4.7" height="148.4" rx="2.2" fill="#808080" stroke="#111" stroke-width="1.15" />
<line x1="719.0" y1="855.6" x2="719.0" y2="996.0" stroke="#5a5a5a" stroke-width="0.8" />
<line x1="717.4" y1="906.0" x2="720.6" y2="906.0" stroke="#222" stroke-width="1.0" />
<line x1="717.4" y1="940.0" x2="720.6" y2="940.0" stroke="#222" stroke-width="1.0" />
<line x1="717.4" y1="860.6" x2="720.6" y2="860.6" stroke="#333" stroke-width="0.8" />
<line x1="717.4" y1="863.1" x2="720.6" y2="863.1" stroke="#333" stroke-width="0.8" />
<line x1="717.4" y1="991.0" x2="720.6" y2="991.0" stroke="#333" stroke-width="0.8" />
<line x1="717.4" y1="988.5" x2="720.6" y2="988.5" stroke="#333" stroke-width="0.8" />
<rect x="730.9" y="848.4" width="4.7" height="153.8" rx="2.2" fill="#808080" stroke="#111" stroke-width="1.15" />
<line x1="733.2" y1="852.4" x2="733.2" y2="998.2" stroke="#5a5a5a" stroke-width="0.8" />
<line x1="731.6" y1="906.0" x2="734.8" y2="906.0" stroke="#222" stroke-width="1.0" />
<line x1="731.6" y1="940.0" x2="734.8" y2="940.0" stroke="#222" stroke-width="1.0" />
<line x1="731.6" y1="857.4" x2="734.8" y2="857.4" stroke="#333" stroke-width="0.8" />
<line x1="731.6" y1="859.9" x2="734.8" y2="859.9" stroke="#333" stroke-width="0.8" />
<line x1="731.6" y1="993.2" x2="734.8" y2="993.2" stroke="#333" stroke-width="0.8" />
<line x1="731.6" y1="990.7" x2="734.8" y2="990.7" stroke="#333" stroke-width="0.8" />
<rect x="744.9" y="848.4" width="4.7" height="153.8" rx="2.2" fill="#808080" stroke="#111" stroke-width="1.15" />
<line x1="747.2" y1="852.4" x2="747.2" y2="998.2" stroke="#5a5a5a" stroke-width="0.8" />
<line x1="745.6" y1="906.0" x2="748.8" y2="906.0" stroke="#222" stroke-width="1.0" />
<line x1="745.6" y1="940.0" x2="748.8" y2="940.0" stroke="#222" stroke-width="1.0" />
<line x1="745.6" y1="857.4" x2="748.8" y2="857.4" stroke="#333" stroke-width="0.8" />
<line x1="745.6" y1="859.9" x2="748.8" y2="859.9" stroke="#333" stroke-width="0.8" />
<line x1="745.6" y1="993.2" x2="748.8" y2="993.2" stroke="#333" stroke-width="0.8" />
<line x1="745.6" y1="990.7" x2="748.8" y2="990.7" stroke="#333" stroke-width="0.8" />
<rect x="758.5" y="846.2" width="4.7" height="157.5" rx="2.2" fill="#808080" stroke="#111" stroke-width="1.15" />
<line x1="760.9" y1="850.2" x2="760.9" y2="999.7" stroke="#5a5a5a" stroke-width="0.8" />
<line x1="759.3" y1="906.0" x2="762.5" y2="906.0" stroke="#222" stroke-width="1.0" />
<line x1="759.3" y1="940.0" x2="762.5" y2="940.0" stroke="#222" stroke-width="1.0" />
<line x1="759.3" y1="855.2" x2="762.5" y2="855.2" stroke="#333" stroke-width="0.8" />
<line x1="759.3" y1="857.7" x2="762.5" y2="857.7" stroke="#333" stroke-width="0.8" />
<line x1="759.3" y1="994.7" x2="762.5" y2="994.7" stroke="#333" stroke-width="0.8" />
<line x1="759.3" y1="992.2" x2="762.5" y2="992.2" stroke="#333" stroke-width="0.8" />
<rect x="773.1" y="846.2" width="4.7" height="157.5" rx="2.2" fill="#808080" stroke="#111" stroke-width="1.15" />
<line x1="775.5" y1="850.2" x2="775.5" y2="999.7" stroke="#5a5a5a" stroke-width="0.8" />
<line x1="773.9" y1="906.0" x2="777.1" y2="906.0" stroke="#222" stroke-width="1.0" />
<line x1="773.9" y1="940.0" x2="777.1" y2="940.0" stroke="#222" stroke-width="1.0" />
<line x1="773.9" y1="855.2" x2="777.1" y2="855.2" stroke="#333" stroke-width="0.8" />
<line x1="773.9" y1="857.7" x2="777.1" y2="857.7" stroke="#333" stroke-width="0.8" />
<line x1="773.9" y1="994.7" x2="777.1" y2="994.7" stroke="#333" stroke-width="0.8" />
<line x1="773.9" y1="992.2" x2="777.1" y2="992.2" stroke="#333" stroke-width="0.8" />
<line x1="303.8" y1="862.0" x2="333.0" y2="862.0" stroke="#1c1c1c" stroke-width="3.2" stroke-linecap="round"/>
<line x1="304.8" y1="862.0" x2="331.0" y2="862.0" stroke="#777" stroke-width="1.0" />
<line x1="317.8" y1="878.5" x2="333.0" y2="878.5" stroke="#1c1c1c" stroke-width="3.2" stroke-linecap="round"/>
<line x1="318.8" y1="878.5" x2="331.0" y2="878.5" stroke="#777" stroke-width="1.0" />
<line x1="297.4" y1="893.8" x2="333.0" y2="893.8" stroke="#1c1c1c" stroke-width="3.2" stroke-linecap="round"/>
<line x1="298.4" y1="893.8" x2="331.0" y2="893.8" stroke="#777" stroke-width="1.0" />
<line x1="297.4" y1="906.5" x2="333.0" y2="906.5" stroke="#1c1c1c" stroke-width="3.2" stroke-linecap="round"/>
<line x1="298.4" y1="906.5" x2="331.0" y2="906.5" stroke="#777" stroke-width="1.0" />
<line x1="292.3" y1="918.7" x2="333.0" y2="918.7" stroke="#1c1c1c" stroke-width="3.2" stroke-linecap="round"/>
<line x1="293.3" y1="918.7" x2="331.0" y2="918.7" stroke="#777" stroke-width="1.0" />
<line x1="297.4" y1="943.9" x2="333.0" y2="943.9" stroke="#1c1c1c" stroke-width="3.2" stroke-linecap="round"/>
<line x1="298.4" y1="943.9" x2="331.0" y2="943.9" stroke="#777" stroke-width="1.0" />
<line x1="297.4" y1="956.1" x2="333.0" y2="956.1" stroke="#1c1c1c" stroke-width="3.2" stroke-linecap="round"/>
<line x1="298.4" y1="956.1" x2="331.0" y2="956.1" stroke="#777" stroke-width="1.0" />
<line x1="301.2" y1="971.9" x2="333.0" y2="971.9" stroke="#1c1c1c" stroke-width="3.2" stroke-linecap="round"/>
<line x1="302.2" y1="971.9" x2="331.0" y2="971.9" stroke="#777" stroke-width="1.0" />
<line x1="298.2" y1="987.4" x2="333.0" y2="987.4" stroke="#1c1c1c" stroke-width="3.2" stroke-linecap="round"/>
<line x1="299.2" y1="987.4" x2="331.0" y2="987.4" stroke="#777" stroke-width="1.0" />
<line x1="292.3" y1="930.7" x2="312.7" y2="930.7" stroke="#1c1c1c" stroke-width="3.2" stroke-linecap="round"/>
<line x1="778.0" y1="861.5" x2="811.1" y2="861.5" stroke="#1c1c1c" stroke-width="3.2" stroke-linecap="round"/>
<line x1="780.0" y1="861.5" x2="810.1" y2="861.5" stroke="#777" stroke-width="1.0" />
<line x1="778.0" y1="878.9" x2="795.0" y2="878.9" stroke="#1c1c1c" stroke-width="3.2" stroke-linecap="round"/>
<line x1="780.0" y1="878.9" x2="794.0" y2="878.9" stroke="#777" stroke-width="1.0" />
<line x1="778.0" y1="894.2" x2="800.0" y2="894.2" stroke="#1c1c1c" stroke-width="3.2" stroke-linecap="round"/>
<line x1="780.0" y1="894.2" x2="799.0" y2="894.2" stroke="#777" stroke-width="1.0" />
<line x1="778.0" y1="907.3" x2="813.3" y2="907.3" stroke="#1c1c1c" stroke-width="3.2" stroke-linecap="round"/>
<line x1="780.0" y1="907.3" x2="812.3" y2="907.3" stroke="#777" stroke-width="1.0" />
<line x1="778.0" y1="919.3" x2="818.1" y2="919.3" stroke="#1c1c1c" stroke-width="3.2" stroke-linecap="round"/>
<line x1="780.0" y1="919.3" x2="817.1" y2="919.3" stroke="#777" stroke-width="1.0" />
<line x1="778.0" y1="931.3" x2="818.1" y2="931.3" stroke="#1c1c1c" stroke-width="3.2" stroke-linecap="round"/>
<line x1="780.0" y1="931.3" x2="817.1" y2="931.3" stroke="#777" stroke-width="1.0" />
<line x1="778.0" y1="943.7" x2="813.3" y2="943.7" stroke="#1c1c1c" stroke-width="3.2" stroke-linecap="round"/>
<line x1="780.0" y1="943.7" x2="812.3" y2="943.7" stroke="#777" stroke-width="1.0" />
<line x1="778.0" y1="956.4" x2="813.3" y2="956.4" stroke="#1c1c1c" stroke-width="3.2" stroke-linecap="round"/>
<line x1="780.0" y1="956.4" x2="812.3" y2="956.4" stroke="#777" stroke-width="1.0" />
<line x1="778.0" y1="971.6" x2="810.0" y2="971.6" stroke="#1c1c1c" stroke-width="3.2" stroke-linecap="round"/>
<line x1="780.0" y1="971.6" x2="809.0" y2="971.6" stroke="#777" stroke-width="1.0" />
<line x1="778.0" y1="987.6" x2="812.2" y2="987.6" stroke="#1c1c1c" stroke-width="3.2" stroke-linecap="round"/>
<line x1="780.0" y1="987.6" x2="811.2" y2="987.6" stroke="#777" stroke-width="1.0" />
<path d="M332.5 893.0 L318.0 897.0 L299.0 906.4 L304.5 915.5 L312.3 925.5 L315.0 938.2 L319.5 950.9 L330.5 964.5 L332.5 965.0" fill="#e6e6e6" stroke="#111" stroke-width="1.0" stroke-linejoin="round" stroke-linecap="round" />
<line x1="313.0" y1="919.5" x2="332.0" y2="919.5" stroke="#6a6a6a" stroke-width="0.8" />
<line x1="313.0" y1="921.2" x2="332.0" y2="921.2" stroke="#6a6a6a" stroke-width="0.8" />
<line x1="313.0" y1="922.9" x2="332.0" y2="922.9" stroke="#6a6a6a" stroke-width="0.8" />
<line x1="313.0" y1="924.6" x2="332.0" y2="924.6" stroke="#6a6a6a" stroke-width="0.8" />
<line x1="313.0" y1="926.3" x2="332.0" y2="926.3" stroke="#6a6a6a" stroke-width="0.8" />
<line x1="313.0" y1="928.0" x2="332.0" y2="928.0" stroke="#6a6a6a" stroke-width="0.8" />
<line x1="313.0" y1="929.7" x2="332.0" y2="929.7" stroke="#6a6a6a" stroke-width="0.8" />
<line x1="313.0" y1="931.4" x2="332.0" y2="931.4" stroke="#6a6a6a" stroke-width="0.8" />
<rect x="327.7" y="897.0" width="4.6" height="6.5" rx="0" fill="#c9c9c9" stroke="#555" stroke-width="0.7" />
<rect x="327.7" y="909.0" width="4.6" height="6.5" rx="0" fill="#c9c9c9" stroke="#555" stroke-width="0.7" />
<rect x="327.7" y="921.0" width="4.6" height="6.5" rx="0" fill="#c9c9c9" stroke="#555" stroke-width="0.7" />
<rect x="327.7" y="934.0" width="4.6" height="6.5" rx="0" fill="#c9c9c9" stroke="#555" stroke-width="0.7" />
<rect x="327.7" y="947.0" width="4.6" height="6.5" rx="0" fill="#c9c9c9" stroke="#555" stroke-width="0.7" />
<rect x="327.7" y="959.0" width="4.6" height="6.5" rx="0" fill="#c9c9c9" stroke="#555" stroke-width="0.7" />
<path d="M311.0 913.0 L321.0 900.0 L326.0 900.0" fill="none" stroke="#111" stroke-width="0.8" stroke-linejoin="round" stroke-linecap="round" />
<path d="M318.0 925.0 L322.0 934.0 L331.0 934.0" fill="none" stroke="#111" stroke-width="0.8" stroke-linejoin="round" stroke-linecap="round" />
<path d="M321.0 944.0 L324.0 939.0 L331.0 940.0" fill="none" stroke="#111" stroke-width="0.8" stroke-linejoin="round" stroke-linecap="round" />
<path d="M778.2 893.0 L792.7 897.0 L811.7 906.4 L806.2 915.5 L798.4 925.5 L795.7 938.2 L791.2 950.9 L780.2 964.5 L778.2 965.0" fill="#e6e6e6" stroke="#111" stroke-width="1.0" stroke-linejoin="round" stroke-linecap="round" />
<line x1="797.7" y1="919.5" x2="778.7" y2="919.5" stroke="#6a6a6a" stroke-width="0.8" />
<line x1="797.7" y1="921.2" x2="778.7" y2="921.2" stroke="#6a6a6a" stroke-width="0.8" />
<line x1="797.7" y1="922.9" x2="778.7" y2="922.9" stroke="#6a6a6a" stroke-width="0.8" />
<line x1="797.7" y1="924.6" x2="778.7" y2="924.6" stroke="#6a6a6a" stroke-width="0.8" />
<line x1="797.7" y1="926.3" x2="778.7" y2="926.3" stroke="#6a6a6a" stroke-width="0.8" />
<line x1="797.7" y1="928.0" x2="778.7" y2="928.0" stroke="#6a6a6a" stroke-width="0.8" />
<line x1="797.7" y1="929.7" x2="778.7" y2="929.7" stroke="#6a6a6a" stroke-width="0.8" />
<line x1="797.7" y1="931.4" x2="778.7" y2="931.4" stroke="#6a6a6a" stroke-width="0.8" />
<rect x="778.4" y="897.0" width="4.6" height="6.5" rx="0" fill="#c9c9c9" stroke="#555" stroke-width="0.7" />
<rect x="778.4" y="909.0" width="4.6" height="6.5" rx="0" fill="#c9c9c9" stroke="#555" stroke-width="0.7" />
<rect x="778.4" y="921.0" width="4.6" height="6.5" rx="0" fill="#c9c9c9" stroke="#555" stroke-width="0.7" />
<rect x="778.4" y="934.0" width="4.6" height="6.5" rx="0" fill="#c9c9c9" stroke="#555" stroke-width="0.7" />
<rect x="778.4" y="947.0" width="4.6" height="6.5" rx="0" fill="#c9c9c9" stroke="#555" stroke-width="0.7" />
<rect x="778.4" y="959.0" width="4.6" height="6.5" rx="0" fill="#c9c9c9" stroke="#555" stroke-width="0.7" />
<path d="M799.7 913.0 L789.7 900.0 L784.7 900.0" fill="none" stroke="#111" stroke-width="0.8" stroke-linejoin="round" stroke-linecap="round" />
<path d="M792.7 925.0 L788.7 934.0 L779.7 934.0" fill="none" stroke="#111" stroke-width="0.8" stroke-linejoin="round" stroke-linecap="round" />
<path d="M789.7 944.0 L786.7 939.0 L779.7 940.0" fill="none" stroke="#111" stroke-width="0.8" stroke-linejoin="round" stroke-linecap="round" />
<line x1="297.4" y1="893.8" x2="333.0" y2="893.8" stroke="#1c1c1c" stroke-width="3.2" stroke-linecap="round"/>
<line x1="311.4" y1="893.8" x2="331.0" y2="893.8" stroke="#888" stroke-width="1.0" />
<line x1="297.4" y1="906.5" x2="333.0" y2="906.5" stroke="#1c1c1c" stroke-width="3.2" stroke-linecap="round"/>
<line x1="311.4" y1="906.5" x2="331.0" y2="906.5" stroke="#888" stroke-width="1.0" />
<line x1="292.3" y1="918.7" x2="333.0" y2="918.7" stroke="#1c1c1c" stroke-width="3.2" stroke-linecap="round"/>
<line x1="306.3" y1="918.7" x2="331.0" y2="918.7" stroke="#888" stroke-width="1.0" />
<line x1="297.4" y1="943.9" x2="333.0" y2="943.9" stroke="#1c1c1c" stroke-width="3.2" stroke-linecap="round"/>
<line x1="311.4" y1="943.9" x2="331.0" y2="943.9" stroke="#888" stroke-width="1.0" />
<line x1="297.4" y1="956.1" x2="333.0" y2="956.1" stroke="#1c1c1c" stroke-width="3.2" stroke-linecap="round"/>
<line x1="311.4" y1="956.1" x2="331.0" y2="956.1" stroke="#888" stroke-width="1.0" />
<line x1="292.3" y1="930.7" x2="312.7" y2="930.7" stroke="#1c1c1c" stroke-width="3.2" stroke-linecap="round"/>
<line x1="778.0" y1="894.2" x2="800.0" y2="894.2" stroke="#1c1c1c" stroke-width="3.2" stroke-linecap="round"/>
<line x1="780.0" y1="894.2" x2="786.0" y2="894.2" stroke="#888" stroke-width="1.0" />
<line x1="778.0" y1="907.3" x2="813.3" y2="907.3" stroke="#1c1c1c" stroke-width="3.2" stroke-linecap="round"/>
<line x1="780.0" y1="907.3" x2="799.3" y2="907.3" stroke="#888" stroke-width="1.0" />
<line x1="778.0" y1="919.3" x2="818.1" y2="919.3" stroke="#1c1c1c" stroke-width="3.2" stroke-linecap="round"/>
<line x1="780.0" y1="919.3" x2="804.1" y2="919.3" stroke="#888" stroke-width="1.0" />
<line x1="778.0" y1="931.3" x2="818.1" y2="931.3" stroke="#1c1c1c" stroke-width="3.2" stroke-linecap="round"/>
<line x1="780.0" y1="931.3" x2="804.1" y2="931.3" stroke="#888" stroke-width="1.0" />
<line x1="778.0" y1="943.7" x2="813.3" y2="943.7" stroke="#1c1c1c" stroke-width="3.2" stroke-linecap="round"/>
<line x1="780.0" y1="943.7" x2="799.3" y2="943.7" stroke="#888" stroke-width="1.0" />
<line x1="778.0" y1="956.4" x2="813.3" y2="956.4" stroke="#1c1c1c" stroke-width="3.2" stroke-linecap="round"/>
<line x1="780.0" y1="956.4" x2="799.3" y2="956.4" stroke="#888" stroke-width="1.0" />
<circle cx="363.2" cy="925.1" r="7.2" fill="#fff" stroke="#111" stroke-width="2.0"/>
<rect x="441.0" y="870.6" width="13.0" height="19.2" rx="1.5" fill="#111" stroke="none" stroke-width="0" />
<g transform="translate(279.5 852.1) rotate(-36.5)">
<rect x="-7.2" y="-1.3" width="14.4" height="2.7" rx="1.3" fill="#ccc" stroke="#111" stroke-width="1.2" />
<path d="M-3.4 1.4 Q-1.8 4.5 -3.6 8 M3.4 1.4 Q1.8 4.5 3.6 8 M-2.6 3 L2.6 6.5 M2.6 3 L-2.6 6.5" fill="none" stroke="#111" stroke-width="0.9" stroke-linejoin="round" stroke-linecap="round" />
<rect x="-8.5" y="8.0" width="17.0" height="2.2" rx="0.5" fill="#fff" stroke="#111" stroke-width="1.1" />
<rect x="-9.4" y="10.2" width="18.8" height="24.8" rx="0.5" fill="#fff" stroke="#111" stroke-width="1.3" />
<line x1="0.8" y1="10.2" x2="0.8" y2="35.0" stroke="#111" stroke-width="1.1" />
<rect x="-11.0" y="35.0" width="22.0" height="1.5" rx="0.5" fill="#fff" stroke="#111" stroke-width="0.9" />
<rect x="-12.5" y="36.5" width="25.0" height="1.6" rx="0.5" fill="#fff" stroke="#111" stroke-width="0.9" />
<path d="M-15.3 38.2 H15.3 V47 Q15.3 48.6 13.8 48.6 H-9.5 V46.2 H-12 V48.6 H-13.8 Q-15.3 48.6 -15.3 47 Z" fill="#fff" stroke="#111" stroke-width="1.3" stroke-linejoin="round" stroke-linecap="round" />
<line x1="2.0" y1="38.2" x2="2.0" y2="48.6" stroke="#111" stroke-width="1.3" />
<rect x="-13.5" y="49.3" width="27.0" height="3.2" rx="1.2" fill="#fff" stroke="#111" stroke-width="1.3" />
<rect x="-10.0" y="52.5" width="20.0" height="1.4" rx="0" fill="#333" stroke="none" stroke-width="0" />
<rect x="-9.5" y="53.9" width="19.0" height="5.0" rx="0" fill="#fff" stroke="#111" stroke-width="1.0" />
<line x1="-9.5" y1="54.8" x2="9.5" y2="54.8" stroke="#222" stroke-width="0.8" />
<line x1="-9.5" y1="56.0" x2="9.5" y2="56.0" stroke="#222" stroke-width="0.8" />
<line x1="-9.5" y1="57.2" x2="9.5" y2="57.2" stroke="#222" stroke-width="0.8" />
<line x1="-9.5" y1="58.4" x2="9.5" y2="58.4" stroke="#222" stroke-width="0.8" />
</g>
<g transform="translate(830.7 852.7) rotate(36.5)">
<rect x="-7.2" y="-1.3" width="14.4" height="2.7" rx="1.3" fill="#ccc" stroke="#111" stroke-width="1.2" />
<path d="M-3.4 1.4 Q-1.8 4.5 -3.6 8 M3.4 1.4 Q1.8 4.5 3.6 8 M-2.6 3 L2.6 6.5 M2.6 3 L-2.6 6.5" fill="none" stroke="#111" stroke-width="0.9" stroke-linejoin="round" stroke-linecap="round" />
<rect x="-8.5" y="8.0" width="17.0" height="2.2" rx="0.5" fill="#fff" stroke="#111" stroke-width="1.1" />
<rect x="-9.4" y="10.2" width="18.8" height="24.8" rx="0.5" fill="#fff" stroke="#111" stroke-width="1.3" />
<line x1="0.8" y1="10.2" x2="0.8" y2="35.0" stroke="#111" stroke-width="1.1" />
<rect x="-11.0" y="35.0" width="22.0" height="1.5" rx="0.5" fill="#fff" stroke="#111" stroke-width="0.9" />
<rect x="-12.5" y="36.5" width="25.0" height="1.6" rx="0.5" fill="#fff" stroke="#111" stroke-width="0.9" />
<path d="M-15.3 38.2 H15.3 V47 Q15.3 48.6 13.8 48.6 H-9.5 V46.2 H-12 V48.6 H-13.8 Q-15.3 48.6 -15.3 47 Z" fill="#fff" stroke="#111" stroke-width="1.3" stroke-linejoin="round" stroke-linecap="round" />
<line x1="2.0" y1="38.2" x2="2.0" y2="48.6" stroke="#111" stroke-width="1.3" />
<rect x="-13.5" y="49.3" width="27.0" height="3.2" rx="1.2" fill="#fff" stroke="#111" stroke-width="1.3" />
<rect x="-10.0" y="52.5" width="20.0" height="1.4" rx="0" fill="#333" stroke="none" stroke-width="0" />
<rect x="-9.5" y="53.9" width="19.0" height="5.0" rx="0" fill="#fff" stroke="#111" stroke-width="1.0" />
<line x1="-9.5" y1="54.8" x2="9.5" y2="54.8" stroke="#222" stroke-width="0.8" />
<line x1="-9.5" y1="56.0" x2="9.5" y2="56.0" stroke="#222" stroke-width="0.8" />
<line x1="-9.5" y1="57.2" x2="9.5" y2="57.2" stroke="#222" stroke-width="0.8" />
<line x1="-9.5" y1="58.4" x2="9.5" y2="58.4" stroke="#222" stroke-width="0.8" />
</g>
<rect x="513.5" y="674.8" width="20.8" height="12.5" rx="1.5" fill="#111" stroke="none" stroke-width="0" />
<rect x="576.4" y="674.8" width="20.7" height="12.5" rx="1.5" fill="#111" stroke="none" stroke-width="0" />
<line x1="515.0" y1="688.3" x2="533.0" y2="688.3" stroke="#111" stroke-width="0.8" />
<line x1="578.0" y1="688.3" x2="596.0" y2="688.3" stroke="#111" stroke-width="0.8" />
<rect x="510.9" y="690.5" width="60.0" height="76.4" rx="1.5" fill="#fff" stroke="#111" stroke-width="1.3" />
<rect x="512.5" y="693.0" width="48.6" height="68.5" rx="1" fill="none" stroke="#111" stroke-width="1.0" />
<path d="M561.1 693 L568 691 V765 L561.1 761.5 M565 692 V763" fill="none" stroke="#111" stroke-width="1.0" stroke-linejoin="round" stroke-linecap="round" />
<rect x="570.9" y="690.5" width="29.5" height="77.5" rx="0" fill="#fff" stroke="#111" stroke-width="1.0" />
<path d="M573 690.5 V768 M570.9 701 H590 M570.9 706 H586" fill="none" stroke="#111" stroke-width="0.8" stroke-linejoin="round" stroke-linecap="round" />
<circle cx="526.2" cy="703.0" r="1.6" fill="none" stroke="#111" stroke-width="0.8"/>
<circle cx="536.7" cy="728.7" r="10.9" fill="none" stroke="#111" stroke-width="1.3"/>
<circle cx="536.7" cy="728.7" r="8.6" fill="none" stroke="#111" stroke-width="1.0"/>
<line x1="531.0" y1="723.0" x2="542.4" y2="734.4" stroke="#111" stroke-width="1.3" />
<line x1="531.0" y1="734.4" x2="542.4" y2="723.0" stroke="#111" stroke-width="1.3" />
<circle cx="517.9" cy="728.7" r="5.6" fill="none" stroke="#111" stroke-width="1.5"/>
<circle cx="517.9" cy="728.7" r="3.4" fill="none" stroke="#111" stroke-width="0.8"/>
<text x="534.2" y="745.6" font-size="15" text-anchor="middle" fill="#111" transform="rotate(180 534.2 745.6)" textLength="38.5" lengthAdjust="spacingAndGlyphs" stroke="#111" stroke-width="0.6">Walbro</text>
<text x="556.2" y="708.0" font-size="5.5" text-anchor="middle" fill="#111" transform="rotate(90 556.2 708.0)" font-weight="bold">11-4</text>
<text x="556.2" y="725.0" font-size="5.5" text-anchor="middle" fill="#111" transform="rotate(90 556.2 725.0)" font-weight="bold">21-DLE</text>
<path d="M510.9 693 H506 Q503.5 697 506 701 H510.9" fill="#fff" stroke="#111" stroke-width="1.0" stroke-linejoin="round" stroke-linecap="round" />
<path d="M510 716 H498 L494 720 H490 V737 H494 L498 741 H510 Z" fill="#fff" stroke="#111" stroke-width="1.0" stroke-linejoin="round" stroke-linecap="round" />
<circle cx="496.5" cy="730.0" r="3.6" fill="none" stroke="#111" stroke-width="1.0"/>
<circle cx="496.5" cy="730.0" r="1.8" fill="none" stroke="#111" stroke-width="0.8"/>
<ellipse cx="474.0" cy="728.5" rx="1.6" ry="7.6" fill="none" stroke="#111" stroke-width="1.2" />
<ellipse cx="477.6" cy="728.5" rx="1.6" ry="7.6" fill="none" stroke="#111" stroke-width="1.2" />
<ellipse cx="481.2" cy="728.5" rx="1.6" ry="7.6" fill="none" stroke="#111" stroke-width="1.2" />
<ellipse cx="484.8" cy="728.5" rx="1.6" ry="7.6" fill="none" stroke="#111" stroke-width="1.2" />
<ellipse cx="488.4" cy="728.5" rx="1.6" ry="7.6" fill="none" stroke="#111" stroke-width="1.2" />
<rect x="469.5" y="721.5" width="4.0" height="14.0" rx="2" fill="#fff" stroke="#111" stroke-width="1.0" />
<rect x="505.0" y="722.0" width="5.9" height="38.0" rx="0" fill="none" stroke="#111" stroke-width="0.8" />
<path d="M499 761.5 H512 V766.9 H503 Z" fill="#fff" stroke="#111" stroke-width="1.0" stroke-linejoin="round" stroke-linecap="round" />
<rect x="512.5" y="765.0" width="18.3" height="7.1" rx="1" fill="#111" stroke="none" stroke-width="0" />
<rect x="579.2" y="765.0" width="18.4" height="7.1" rx="1" fill="#111" stroke="none" stroke-width="0" />
<rect x="530.8" y="768.0" width="48.4" height="4.0" rx="0" fill="#555" stroke="none" stroke-width="0" />
<path d="M570.9 690.5 H600.4 V701 H570.9" fill="none" stroke="#111" stroke-width="1.0" stroke-linejoin="round" stroke-linecap="round" />
<g transform="rotate(28 596 712)">
<rect x="591.0" y="690.0" width="10.0" height="24.0" rx="1" fill="#fff" stroke="#111" stroke-width="1.0" />
<line x1="590.0" y1="693.0" x2="602.0" y2="693.0" stroke="#111" stroke-width="1.3" />
<line x1="590.0" y1="696.3" x2="602.0" y2="696.3" stroke="#111" stroke-width="1.3" />
<line x1="590.0" y1="699.6" x2="602.0" y2="699.6" stroke="#111" stroke-width="1.3" />
<line x1="590.0" y1="702.9" x2="602.0" y2="702.9" stroke="#111" stroke-width="1.3" />
</g>
<path d="M581 712 L598 722 Q604 716 603 728 L596 733 L579 722 Z" fill="#fff" stroke="#111" stroke-width="1.0" stroke-linejoin="round" stroke-linecap="round" />
<ellipse cx="600.5" cy="725.0" rx="3.4" ry="6.0" fill="#fff" stroke="#111" stroke-width="1.0" transform="rotate(25 600.5 725)"/>
<path d="M572 706 Q578 712 572 718" fill="none" stroke="#111" stroke-width="1.0" stroke-linejoin="round" stroke-linecap="round" />
<rect x="613.7" y="685.5" width="5.5" height="21.0" rx="2.5" fill="#fff" stroke="#111" stroke-width="1.0" />
<rect x="606.0" y="693.0" width="8.0" height="5.0" rx="0" fill="#fff" stroke="#111" stroke-width="1.0" />
<rect x="616.3" y="745.0" width="4.8" height="54.6" rx="2" fill="#fff" stroke="#111" stroke-width="1.0" />
<line x1="618.7" y1="748.0" x2="618.7" y2="797.0" stroke="#111" stroke-width="0.6" />
<line x1="601.0" y1="748.0" x2="601.0" y2="762.0" stroke="#111" stroke-width="1.2" />
<line x1="603.1" y1="748.0" x2="603.1" y2="762.0" stroke="#111" stroke-width="1.2" />
<line x1="605.2" y1="748.0" x2="605.2" y2="762.0" stroke="#111" stroke-width="1.2" />
<line x1="607.3" y1="748.0" x2="607.3" y2="762.0" stroke="#111" stroke-width="1.2" />
<line x1="609.4" y1="748.0" x2="609.4" y2="762.0" stroke="#111" stroke-width="1.2" />
<line x1="611.5" y1="748.0" x2="611.5" y2="762.0" stroke="#111" stroke-width="1.2" />
<line x1="613.6" y1="748.0" x2="613.6" y2="762.0" stroke="#111" stroke-width="1.2" />
<line x1="615.7" y1="748.0" x2="615.7" y2="762.0" stroke="#111" stroke-width="1.2" />
<line x1="600.4" y1="748.0" x2="616.3" y2="748.0" stroke="#111" stroke-width="0.8" />
<line x1="600.4" y1="762.0" x2="616.3" y2="762.0" stroke="#111" stroke-width="0.8" />
<path d="M621.1 749 H624 Q625.5 755 624 761 H621.1" fill="none" stroke="#111" stroke-width="1.0" stroke-linejoin="round" stroke-linecap="round" />
<path d="M600.4 720 Q607 740 604 762 M600.4 768 L604 762" fill="none" stroke="#111" stroke-width="0.8" stroke-linejoin="round" stroke-linecap="round" />
<path d="M456.5 891.9 Q459.5 890.5 461.5 893.5 L500.3 953 Q503.5 962 497.5 967 L474.5 985.2 Q462 995 449.1 995.8 C425 998 408 975 410.1 956.5 C411 945 414 936 419.6 925.5 C424 916 428 908 432.7 902.5 C440 895 448 892.5 456.5 891.9 Z" fill="#fff" stroke="#111" stroke-width="1.3" stroke-linejoin="round" stroke-linecap="round" />
<path d="M429.5 923.8 L472 984.4" fill="none" stroke="#111" stroke-width="1.0" stroke-linejoin="round" stroke-linecap="round" />
<path d="M422 918 Q428 905 440 899 M424.5 921.5 L429.5 923.8 L433 918.5" fill="none" stroke="#111" stroke-width="0.8" stroke-linejoin="round" stroke-linecap="round" />
<path d="M466.3 910 L494.6 950.8" fill="none" stroke="#111" stroke-width="1.2" stroke-linejoin="round" stroke-linecap="round" />
<circle cx="465.8" cy="909.3" r="1.2" fill="none" stroke="#111" stroke-width="1.0"/>
<circle cx="427.8" cy="936.9" r="8.6" fill="none" stroke="#111" stroke-width="1.5"/>
<circle cx="427.8" cy="936.9" r="6.6" fill="none" stroke="#111" stroke-width="0.8"/>
<circle cx="427.8" cy="936.9" r="2.6" fill="none" stroke="#111" stroke-width="1.3"/>
<g transform="translate(476.9 961) rotate(-129.8)">
<rect x="0.3" y="-9.0" width="7.2" height="9.0" rx="0" fill="#333" stroke="none" stroke-width="0" />
<path d="M2 -6.9 H7.5 M2 -3.6 H7.5" fill="none" stroke="#fff" stroke-width="1.0" stroke-linejoin="round" stroke-linecap="round" />
<text x="9.2" y="0.0" font-size="12.3" text-anchor="start" fill="#111" textLength="35" lengthAdjust="spacing">PHIL.</text>
<text x="-1.0" y="10.3" font-size="7.2" text-anchor="start" fill="#111" font-weight="bold" font-style="italic" textLength="32" lengthAdjust="spacingAndGlyphs" stroke="#111" stroke-width="0.7">ENGINE</text>
<text x="-2.0" y="18.0" font-size="7.2" text-anchor="start" fill="#111" font-weight="bold" font-style="italic" textLength="45" lengthAdjust="spacingAndGlyphs" stroke="#111" stroke-width="0.7">STARTER</text>
</g>
<path d="M483.9 993.8 L489.3 1010.8 A2.6 2.6 0 0 0 494.3 1009.2 L488.9 992.2" fill="#fff" stroke="#111" stroke-width="1.2" stroke-linejoin="round" stroke-linecap="round" />
<path d="M464.9 998.3 L467.5 1024.8 A2.8 2.8 0 0 0 473.1 1024.2 L470.5 997.7" fill="#fff" stroke="#111" stroke-width="1.2" stroke-linejoin="round" stroke-linecap="round" />
<path d="M470.5 1012 L475 1019 M472 1014 L476.5 1018" fill="none" stroke="#111" stroke-width="1.0" stroke-linejoin="round" stroke-linecap="round" />
<path d="M474.8 989.3 L492.5 1029.1 A2.7 2.7 0 0 0 497.5 1026.9 L479.8 987.1" fill="#fff" stroke="#111" stroke-width="1.2" stroke-linejoin="round" stroke-linecap="round" />
<path d="M469.2 991.7 L480.5 1023.8 A2.3 2.3 0 0 0 484.9 1022.2 L473.6 990.1" fill="#fff" stroke="#111" stroke-width="1.2" stroke-linejoin="round" stroke-linecap="round" />
<path d="M458.5 995.5 L473.5 987.5" fill="none" stroke="#111" stroke-width="2.6" stroke-linejoin="round" stroke-linecap="round" />
<path d="M459.2 995.2 L472.8 987.9" fill="none" stroke="#fff" stroke-width="1.2" stroke-linejoin="round" stroke-linecap="round" />
<path d="M493.5 1007.5 L507.5 1002.8" fill="none" stroke="#111" stroke-width="1.5" stroke-linejoin="round" stroke-linecap="round" />
<line x1="242.2" y1="925.1" x2="510.0" y2="925.1" stroke="#111" stroke-width="1.0" />
<line x1="600.0" y1="925.1" x2="640.0" y2="925.1" stroke="#111" stroke-width="0.8" />
<line x1="242.2" y1="593.2" x2="433.6" y2="593.2" stroke="#111" stroke-width="1.0" />
<line x1="244.8" y1="593.2" x2="244.8" y2="925.0" stroke="#111" stroke-width="1.0" />
<path d="M244.8 593.2 L241.9 609.9 L247.7 609.9 Z" fill="#111" stroke="none"/>
<path d="M244.8 925.0 L241.9 908.3 L247.7 908.3 Z" fill="#111" stroke="none"/>
<text x="261.8" y="783.4" font-size="21.4" text-anchor="middle" fill="#111" transform="rotate(-90 261.8 783.4)" >142</text>
<line x1="270.7" y1="674.9" x2="848.7" y2="674.9" stroke="#111" stroke-width="1.0" />
<line x1="272.7" y1="674.9" x2="272.7" y2="925.0" stroke="#111" stroke-width="1.0" />
<path d="M272.7 674.9 L269.8 691.6 L275.6 691.6 Z" fill="#111" stroke="none"/>
<path d="M272.7 925.0 L269.8 908.3 L275.6 908.3 Z" fill="#111" stroke="none"/>
<text x="291.0" y="783.6" font-size="21.4" text-anchor="middle" fill="#111" transform="rotate(-90 291.0 783.6)" >107</text>
<line x1="298.7" y1="767.0" x2="382.0" y2="767.0" stroke="#111" stroke-width="1.0" />
<line x1="298.7" y1="845.4" x2="383.0" y2="845.4" stroke="#111" stroke-width="1.0" />
<line x1="301.2" y1="736.5" x2="301.2" y2="767.0" stroke="#111" stroke-width="1.0" />
<path d="M301.2 767.0 L298.3 750.3 L304.1 750.3 Z" fill="#111" stroke="none"/>
<line x1="301.2" y1="845.4" x2="301.2" y2="876.0" stroke="#111" stroke-width="1.0" />
<path d="M301.2 845.4 L298.3 862.1 L304.1 862.1 Z" fill="#111" stroke="none"/>
<line x1="301.2" y1="767.0" x2="301.2" y2="845.4" stroke="#111" stroke-width="1.0" />
<text x="320.7" y="803.8" font-size="21.4" text-anchor="middle" fill="#111" transform="rotate(-90 320.7 803.8)" >33.5</text>
<line x1="846.1" y1="675.0" x2="846.1" y2="831.4" stroke="#111" stroke-width="1.0" />
<path d="M846.1 675.0 L843.2 691.7 L849.0 691.7 Z" fill="#111" stroke="none"/>
<path d="M846.1 831.4 L843.2 814.7 L849.0 814.7 Z" fill="#111" stroke="none"/>
<line x1="601.4" y1="831.4" x2="848.7" y2="831.4" stroke="#111" stroke-width="1.0" />
<text x="865.4" y="754.4" font-size="21.4" text-anchor="middle" fill="#111" transform="rotate(-90 865.4 754.4)" >67</text>
<line x1="778.0" y1="847.9" x2="848.5" y2="847.9" stroke="#111" stroke-width="1.0" />
<line x1="665.0" y1="1002.2" x2="848.5" y2="1002.2" stroke="#111" stroke-width="1.0" />
<line x1="846.4" y1="847.9" x2="846.4" y2="1002.2" stroke="#111" stroke-width="1.0" />
<path d="M846.4 847.9 L843.5 864.6 L849.3 864.6 Z" fill="#111" stroke="none"/>
<path d="M846.4 1002.2 L843.5 985.5 L849.3 985.5 Z" fill="#111" stroke="none"/>
<text x="866.4" y="924.3" font-size="21.4" text-anchor="middle" fill="#111" transform="rotate(-90 866.4 924.3)" >66</text>
<line x1="463.6" y1="1058.0" x2="646.4" y2="1058.0" stroke="#111" stroke-width="1.0" />
<path d="M463.6 1058.0 L480.3 1055.1 L480.3 1060.9 Z" fill="#111" stroke="none"/>
<path d="M646.4 1058.0 L629.7 1055.1 L629.7 1060.9 Z" fill="#111" stroke="none"/>
<text x="551.0" y="1055.5" font-size="21.4" text-anchor="middle" fill="#111" >78</text>
<line x1="291.8" y1="930.7" x2="291.8" y2="1095.0" stroke="#111" stroke-width="1.0" />
<line x1="818.1" y1="919.3" x2="818.1" y2="1095.0" stroke="#111" stroke-width="1.0" />
<line x1="291.8" y1="1092.8" x2="818.1" y2="1092.8" stroke="#111" stroke-width="1.0" />
<path d="M291.8 1092.8 L308.5 1089.9 L308.5 1095.7 Z" fill="#111" stroke="none"/>
<path d="M818.1 1092.8 L801.4 1089.9 L801.4 1095.7 Z" fill="#111" stroke="none"/>
<text x="550.0" y="1090.3" font-size="21.4" text-anchor="middle" fill="#111" >225</text>
<path d="M250.1 9.8 H235.70000000000002 Q231.70000000000002 9.8 231.70000000000002 13.8 V14.150000000000002 Q231.70000000000002 17.85 235.70000000000002 17.85 H244.6 Q248.6 17.85 248.6 21.55 V21.9 Q248.6 25.9 244.6 25.9 H229.70000000000002" fill="none" stroke="#57575a" stroke-width="4.6" stroke-linejoin="round"/>
<path d="M256.6 28.2 V11.8 M259.3 9.8 H268.09999999999997 Q272.09999999999997 9.8 272.09999999999997 13.8 V15.350000000000001 Q272.09999999999997 19.35 268.09999999999997 19.35 H258.6" fill="none" stroke="#57575a" stroke-width="4.6" stroke-linejoin="round"/>
<path d="M298.6 9.8 H284.5 Q280.5 9.8 280.5 13.8 V21.9 Q280.5 25.9 284.5 25.9 H298.6 M280.5 17.85 H296.6" fill="none" stroke="#57575a" stroke-width="4.6" stroke-linejoin="round"/>
<path d="M322.5 9.8 H307.8 Q303.3 9.8 303.3 14.3 V21.4 Q303.3 25.9 307.8 25.9 H322.5" fill="none" stroke="#57575a" stroke-width="4.6" stroke-linejoin="round"/>
<path d="M327.3 7.500000000000001 V28.2" fill="none" stroke="#57575a" stroke-width="4.6" stroke-linejoin="round"/>
<path d="M351.1 9.8 H339.0 Q335.0 9.8 335.0 13.8 V28.2 M335.0 18.35 H349.1" fill="none" stroke="#57575a" stroke-width="4.6" stroke-linejoin="round"/>
<path d="M356.7 7.500000000000001 V28.2" fill="none" stroke="#57575a" stroke-width="4.6" stroke-linejoin="round"/>
<path d="M383.6 9.8 H368.2 Q363.7 9.8 363.7 14.3 V21.4 Q363.7 25.9 368.2 25.9 H383.6" fill="none" stroke="#57575a" stroke-width="4.6" stroke-linejoin="round"/>
<path d="M385.6 28.2 L395.2 10.3 Q396.6 8.3 398 10.3 L405.4 28.2 M390.5 22.7 H401.5" fill="none" stroke="#57575a" stroke-width="4.6" stroke-linejoin="round"/>
<path d="M408.2 9.8 H430 M418.9 9.8 V28.2" fill="none" stroke="#57575a" stroke-width="4.6" stroke-linejoin="round"/>
<path d="M434.8 7.500000000000001 V28.2" fill="none" stroke="#57575a" stroke-width="4.6" stroke-linejoin="round"/>
<path d="M446.2 9.8 H456.8 Q461.8 9.8 461.8 14.8 V20.9 Q461.8 25.9 456.8 25.9 H446.2 Q441.2 25.9 441.2 20.9 V14.8 Q441.2 9.8 446.2 9.8 Z" fill="none" stroke="#57575a" stroke-width="4.6" stroke-linejoin="round"/>
<path d="M468.6 28.2 V10.8 Q468.6 8.600000000000001 471.1 10.3 L482.5 25.4 Q485.0 27.099999999999998 485.0 24.9 V7.500000000000001" fill="none" stroke="#57575a" stroke-width="4.6" stroke-linejoin="round"/>
<path d="M511.0 9.8 H496.3 Q492.3 9.8 492.3 13.8 V14.150000000000002 Q492.3 17.85 496.3 17.85 H505.5 Q509.5 17.85 509.5 21.55 V21.9 Q509.5 25.9 505.5 25.9 H490.3" fill="none" stroke="#57575a" stroke-width="4.6" stroke-linejoin="round"/>
</g>
</svg>
</body></html>
